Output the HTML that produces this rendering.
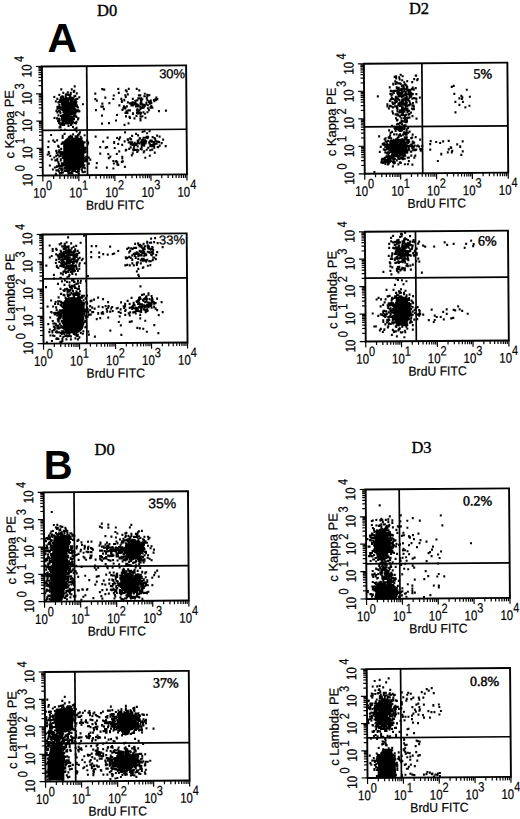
<!DOCTYPE html><html><head><meta charset="utf-8"><style>html,body{margin:0;padding:0;background:#fff;width:520px;height:819px;overflow:hidden}svg{display:block}</style></head><body><svg width="520" height="819" viewBox="0 0 520 819"><rect width="520" height="819" fill="#fff"/><g transform="rotate(-0.45 114.4 120.5)"><rect x="63" y="137.5" width="21" height="31" rx="6" fill="#000"/><path transform="scale(.5)" d="M148 172h4m-31 6h4m17 0h4m57 0h4m0 1h4m24-1h4m17 0h4m12 0h4m-151 7h4m5-1h4m2 1h4m2-2h4m-3-2h4m99 0h4m-2 2h4m21-2h4m-164 8h4m9 0h4m-3-1h4m0 1h4m0 0h4m-3-2h4m5 4h4m-1-5h4m33 1h4m33 4h4m6-5h4m9 5h4m1-2h4m18 2h4m-1 0h4m5-3h4m1 2h4m0 1h4m-194 2h4m2 4h4m3-3h4m-4 3h4m-2-3h4m-3-2h4m-3 1h4m-3 1h4m-3 3h4m0-2h4m-4 1h4m-4 1h4m-4-4h4m-1 3h4m-1 0h4m-2-3h4m-4 2h4m-3-3h4m-1 3h4m-4 2h4m-2 0h4m-3-1h4m-2-4h4m2 5h4m0-3h4m48 1h4m37-1h4m21 3h4m0 0h4m-2 0h4m2-4h4m-3 0h4m0 4h4m-3-4h4m14 3h4m-205 6h4m3 1h4m-3-3h4m-2 2h4m-3 1h4m-3-4h4m-4 3h4m-2-1h4m-3 0h4m-4-1h4m-4-1h4m-1 3h4m-3 0h4m-4-4h4m-3 3h4m-3 0h4m-3 0h4m-3-2h4m-4 4h4m-3-3h4m-4 2h4m-3-4h4m-4 2h4m-4-1h4m-4 2h4m-3-3h4m-1 0h4m-3 4h4m-3-2h4m-3 1h4m-3-1h4m-4 3h4m-3-1h4m-4 1h4m-1-1h4m-2-3h4m-3-1h4m-3 5h4m34-5h4m-1 3h4m29-3h4m12 0h4m-3 4h4m1-1h4m-4-1h4m13-2h4m1 4h4m0-1h4m3-1h4m-3 3h4m-2-4h4m6 2h4m-1 2h4m0-1h4m2-1h4m-3 2h4m-3-3h4m-2 1h4m-1-2h4m-202 5h4m-2 5h4m1-2h4m-3-2h4m-3 1h4m-4-2h4m-3 1h4m-4 4h4m-3-5h4m-4 2h4m-3-2h4m-4 1h4m-3 3h4m-3-4h4m-4 2h4m-3-1h4m-4-1h4m-3 0h4m-4 4h4m-3-2h4m-4 2h4m-4-1h4m-2-1h4m-4 2h4m-3 0h4m-4-3h4m-3 2h4m-4 2h4m-3-1h4m-4-1h4m-4-1h4m-4 3h4m-3-3h4m-4 2h4m-4-1h4m-3-2h4m-3 0h4m-3 0h4m-4 2h4m-1-2h4m-4 2h4m-3-3h4m-4 3h4m-4 1h4m-2-1h4m-4-1h4m-2 3h4m-3-2h4m-4 1h4m-3-4h4m9 4h4m35-1h4m10-1h4m21-2h4m8 1h4m0 2h4m0-1h4m-2-1h4m-3 4h4m-2 0h4m-4-3h4m-2-1h4m-2 3h4m4 0h4m-3-3h4m-4 3h4m-3-4h4m-4 2h4m-4 2h4m-2 1h4m4-3h4m-4 3h4m1-4h4m-2 3h4m-2-2h4m-3 1h4m-192 6h4m-2 2h4m-2-4h4m-3 4h4m-3-1h4m0-3h4m-4 2h4m-3 2h4m-3-4h4m-4 2h4m-3-1h4m-3-2h4m-4 4h4m-4 1h4m-3-3h4m-3-2h4m-3 1h4m-3 3h4m-3-2h4m-4 1h4m-4 1h4m-3-3h4m-3 2h4m-3-3h4m-4 2h4m-4 2h4m-3-4h4m-4 1h4m-3 0h4m-4 3h4m-4 1h4m-3-3h4m-3 0h4m-4 2h4m-4 1h4m-3-3h4m-3-1h4m-4-1h4m-4 2h4m-4 3h4m-3-4h4m-4 2h4m-4-3h4m-3 0h4m-4 2h4m-4 3h4m-3 0h4m-3 0h4m-3-3h4m-4 2h4m-2-4h4m-3 1h4m-3 0h4m-4 1h4m-2-2h4m-2 4h4m43-1h4m-1 0h4m29-2h4m5 2h4m-2 2h4m0-2h4m5-2h4m-3-1h4m-2 1h4m2 2h4m-1-2h4m-4 2h4m-3-3h4m-2 3h4m-3 0h4m-3 0h4m1 1h4m-4-1h4m-2-3h4m-3 0h4m-4 5h4m-2-3h4m-4-1h4m2 0h4m2 4h4m-3-2h4m-194 8h4m-2-4h4m-1 4h4m-1-4h4m-1 1h4m-3 0h4m-3 1h4m-3-3h4m-4 5h4m-3-3h4m-4 3h4m-3-1h4m-3-2h4m-4 2h4m-3-4h4m-4 5h4m-3-5h4m-4 2h4m-1 0h4m-3-2h4m-4 4h4m-3-4h4m-4 4h4m-3-1h4m-4 2h4m-4-1h4m-3-2h4m-4 3h4m-4-1h4m-4-1h4m-3 2h4m-4-5h4m-3 1h4m-4 2h4m-4 2h4m-4-5h4m-4 2h4m-3 0h4m-1-1h4m-3 2h4m-4 1h4m-2 0h4m-3-2h4m-2 0h4m-4 1h4m-4 2h4m-2-1h4m0 0h4m31 0h4m12-2h4m33 2h4m-2-3h4m0 0h4m2 4h4m-2 0h4m-3 0h4m10 0h4m-3-2h4m0 2h4m-2-3h4m-2-2h4m0 0h4m5 1h4m-2 4h4m-1-5h4m0 0h4m-194 8h4m1-2h4m-3 3h4m2-2h4m-2 0h4m-4 3h4m-3-3h4m-3 0h4m-4 1h4m-4 1h4m-3 2h4m-4-4h4m-3 2h4m-4 2h4m-4-5h4m-3 2h4m-3-1h4m-4 3h4m-2-4h4m-4 3h4m-4 2h4m-2-4h4m-3 0h4m-4-1h4m-4 4h4m-4-1h4m-4 2h4m-3-5h4m-4 2h4m-4 2h4m-4-1h4m-3-1h4m-4-1h4m-3 0h4m-4 3h4m-4 1h4m-2-4h4m-3-1h4m-3 3h4m-4 1h4m-4 1h4m0-2h4m-4-2h4m-4 1h4m-4 2h4m0-4h4m0 0h4m88 4h4m-2-3h4m-2 3h4m7 1h4m4-1h4m-2 1h4m-3-3h4m-2 2h4m-1 0h4m1-1h4m4 0h4m19-2h4m10-1h4m-219 8h4m1 1h4m-2 0h4m-3 1h4m-3-2h4m-3-1h4m-4 3h4m-1 1h4m-3-1h4m-4-2h4m-4 1h4m-2-2h4m-3 2h4m-4 2h4m-3-5h4m-4 4h4m-3-3h4m-4 2h4m-4 1h4m-3 0h4m-3-3h4m-4 1h4m-4 3h4m-4-1h4m-3-1h4m-2 1h4m-3 0h4m1-2h4m-4 1h4m-2 1h4m-2-1h4m-2 2h4m47-2h4m26-1h4m14 3h4m10-5h4m3 4h4m4-4h4m-4 5h4m0 0h4m1-5h4m-185 7h4m1 1h4m0 1h4m1 1h4m-3-3h4m-1 3h4m-3-3h4m-4 3h4m-4-1h4m-3-3h4m-4 2h4m-4 2h4m-3-2h4m-4 3h4m-4-5h4m-3 0h4m-4 3h4m-4-1h4m-4 2h4m-3 0h4m-3-3h4m-4-1h4m-3 2h4m-4 1h4m-3 1h4m-4 1h4m-4-5h4m-3 5h4m-4-4h4m-4-1h4m-3 1h4m-4 1h4m-4 1h4m-3-2h4m-4-1h4m-3 3h4m-3 2h4m-3 0h4m-4-4h4m-4 3h4m-3-1h4m-3-2h4m-3 2h4m-3-3h4m-4 2h4m-4 1h4m-3 1h4m-3 0h4m-3-1h4m4 1h4m-3-2h4m98-2h4m-3 2h4m5 1h4m8 1h4m6-2h4m-179 5h4m-2 4h4m-3-4h4m2-1h4m-4 3h4m-3-2h4m-4 3h4m-3-3h4m0-1h4m-4 2h4m-4-1h4m-3 3h4m-3-2h4m-4 2h4m-3 0h4m-3 1h4m-3-3h4m-4-1h4m-3 0h4m-4 2h4m-4 2h4m-4-5h4m-2 3h4m-3 1h4m-3-2h4m-3-1h4m-3 4h4m-3 0h4m-4-5h4m-3 4h4m-3-1h4m0 2h4m-1-2h4m75-2h4m45 0h4m-166 5h4m-3 0h4m-3 3h4m-4-2h4m-4-1h4m-3 1h4m-1 1h4m-3 1h4m-2-1h4m-4 1h4m-2-3h4m0 0h4m-2 0h4m-3 5h4m0-5h4m-3 3h4m-1-3h4m3 0h4m48 1h4m10-1h4m27 4h4m4-3h4m-142 7h4m-2-2h4m-4 1h4m21 0h4m3 2h4m-35 4h4m4 0h4m15-1h4m-2 1h4m-2 3h4m132 1h4m6 0h4m-201 6h4m23-2h4m13 1h4m6 1h4m-2-1h4m-3-2h4m-3-2h4m86 1h4m18 3h4m9-4h4m5 3h4m-173 4h4m-4 4h4m8 0h4m-3-1h4m-3-1h4m-2 0h4m-4 1h4m-4-3h4m-3 3h4m-2-1h4m3-1h4m-3 1h4m-3 1h4m-3-2h4m-3 1h4m2 0h4m4-3h4m18 3h4m20 2h4m21 0h4m20-3h4m8-1h4m13 3h4m-1 0h4m5 1h4m5-3h4m1 2h4m-217 6h4m4 0h4m17 0h4m0 0h4m-4-1h4m-3 2h4m-2-1h4m-3-3h4m-4-1h4m-4 4h4m-3-2h4m1-1h4m-2 2h4m1 0h4m-2 2h4m-3 0h4m-2-3h4m-4 3h4m-2-5h4m7 5h4m56-5h4m0 3h4m13 0h4m-3 1h4m0-3h4m-2 2h4m11 2h4m-2-4h4m-3 0h4m-1 4h4m-1-2h4m-3-3h4m-1 5h4m-3-5h4m0 1h4m10 0h4m-3 2h4m12 1h4m-233 2h4m8 1h4m10 4h4m-2-3h4m-3 0h4m-3 1h4m-4-1h4m-1 2h4m-3 1h4m-3-2h4m-3 0h4m-3 2h4m-4-4h4m-3 4h4m-3-5h4m-4 4h4m-3-4h4m-4 3h4m-1 1h4m-3-1h4m-4-2h4m-2 2h4m-3 0h4m-4 2h4m-2-5h4m-4 4h4m-3-1h4m-4 2h4m-3-5h4m-3 1h4m-4 2h4m-4-1h4m-2 1h4m-3 2h4m-4-1h4m-3-4h4m-3 5h4m-4-4h4m-3 3h4m-3-4h4m-4 1h4m-3 2h4m-3-2h4m0 4h4m-3-3h4m-3-1h4m-1 2h4m-2-1h4m3 1h4m26-2h4m18 1h4m-4 2h4m17-3h4m4 2h4m0 0h4m-1 0h4m1 1h4m-4 1h4m2-5h4m-4 2h4m-3-2h4m-4 4h4m-2 1h4m0-2h4m-3 1h4m-2-2h4m-3 3h4m-2-1h4m-4-3h4m-3 2h4m-4-2h4m-3 0h4m-3 4h4m-3-4h4m2 3h4m-4-1h4m-2-2h4m-3-1h4m-2 0h4m-3 2h4m0 2h4m-4-1h4m-1-2h4m0 1h4m-1 1h4m1 2h4m-231 6h4m16-2h4m-3 2h4m8-2h4m-3 0h4m0-2h4m-4 3h4m-3 0h4m-3-1h4m-4-2h4m-4-1h4m-3 2h4m-4 3h4m-2-3h4m-4 1h4m-4 2h4m-2-2h4m-4 2h4m-2-4h4m-2 1h4m-4 1h4m-3-1h4m-3 2h4m-4-3h4m-3 3h4m-3-3h4m-2-1h4m-4 1h4m-3 4h4m-4-1h4m-3-4h4m-4 2h4m-4 2h4m-3-4h4m-4 2h4m-3 0h4m-1-2h4m-3 3h4m-2-3h4m-4 2h4m-2-2h4m-3 3h4m-2 0h4m5-3h4m57 0h4m4 2h4m13-1h4m0 0h4m-4 1h4m-3-1h4m-2 4h4m-3-4h4m-1 0h4m-4 1h4m-3-2h4m-2 5h4m4-3h4m-3 0h4m-3 0h4m-4-1h4m-1 3h4m-3-4h4m6 0h4m-3 5h4m-3-2h4m-3 1h4m-3 1h4m-2-3h4m-2 3h4m-2-4h4m0-1h4m2 4h4m8 1h4m-213 4h4m7-3h4m-4 2h4m-4 3h4m-2-2h4m-4 2h4m-4-1h4m-3-3h4m-4 4h4m-3-4h4m-3 2h4m-4 2h4m-3-4h4m-3 2h4m-3-1h4m-4-2h4m-3 4h4m-4-1h4m-2-1h4m-4 3h4m-3 0h4m-2-3h4m-3 0h4m-4 3h4m-3-4h4m-4 4h4m-3-2h4m-3-2h4m-3 2h4m-4 1h4m-3-2h4m-3 1h4m-4 2h4m-4-5h4m-3 3h4m-4-1h4m-4 2h4m-3 1h4m-3-4h4m-4 4h4m-4-5h4m-3 2h4m-4 3h4m-3 0h4m-4-1h4m-4-1h4m0 0h4m-1-3h4m-3 1h4m-3 4h4m-1-4h4m-4 4h4m25-5h4m7 1h4m-1-1h4m11 2h4m25 2h4m-1-3h4m2 2h4m10 1h4m-2-4h4m-4 5h4m9-3h4m8-2h4m-4 2h4m3-1h4m-3 0h4m-223 8h4m11-2h4m-3 4h4m0-3h4m-3-2h4m-4 4h4m0 0h4m-4-1h4m-1 2h4m-3-1h4m-3 0h4m-1-1h4m-3-3h4m-4 5h4m-3-3h4m-3-1h4m-4 4h4m-4-3h4m-2 2h4m-3-1h4m-4-2h4m-3 3h4m-3-2h4m-3-2h4m-4 5h4m-3-4h4m-4-1h4m-4 3h4m-3 1h4m-3-2h4m-4 3h4m-3-2h4m-4 1h4m-4 1h4m-3-1h4m-4-1h4m-2 0h4m-4-3h4m-3 0h4m-4 4h4m-4 1h4m-3-2h4m-4-1h4m-4 3h4m-3-1h4m-4-1h4m-4-1h4m-3 2h4m-2-4h4m-3 0h4m-4 4h4m-3-1h4m-1 1h4m-2-1h4m-3 1h4m-4-1h4m-4 2h4m-2-5h4m-4 2h4m-4 1h4m-3 0h4m-4-3h4m-1 4h4m-3 1h4m-3-2h4m-1 1h4m63-1h4m9-2h4m-3-1h4m10 0h4m-4 1h4m0-1h4m0 0h4m-4 4h4m-2-3h4m7 4h4m-3-2h4m1-3h4m3 1h4m0-1h4m-213 8h4m-1-2h4m-2 5h4m8 0h4m-1-2h4m1-3h4m-3 2h4m-4 3h4m-2-3h4m-2 0h4m-3 3h4m-3-1h4m-4-3h4m-2 1h4m-3-1h4m-4 1h4m-3 3h4m-3-5h4m-2 1h4m-3 0h4m-4 4h4m-4-1h4m-3-4h4m-2 1h4m-3 1h4m-3 3h4m-3-2h4m-4 1h4m-4-4h4m-2 1h4m-3-1h4m-3 1h4m-3 0h4m-4-1h4m-4 4h4m-3 0h4m-4-4h4m-4 2h4m-3 3h4m-3-5h4m-4 1h4m-4 1h4m-3 1h4m-3-3h4m-4 2h4m-4-1h4m-4 2h4m-3 0h4m-4 2h4m-3-5h4m-2 0h4m-4 2h4m-3 1h4m-4 2h4m-4-5h4m-4 2h4m-3-2h4m-3 2h4m-3 2h4m-4-1h4m-1 1h4m-3-4h4m-1 5h4m30-4h4m12 1h4m13 0h4m26 3h4m-2-4h4m40-1h4m-205 8h4m2 3h4m0-5h4m3 3h4m-3-2h4m-3 1h4m-2 2h4m0-1h4m-3-1h4m-3-1h4m-2-1h4m-4 2h4m-3-2h4m-4 4h4m-2-4h4m-4 4h4m-3 1h4m-4-4h4m-4 1h4m-2 3h4m-4-5h4m-4 2h4m-3-2h4m-3 0h4m-4 4h4m-3-1h4m-3-2h4m-3 1h4m-3-1h4m-4-1h4m-3 3h4m-3 2h4m-4-3h4m-3-1h4m-4-1h4m-3 0h4m-4 3h4m-3 1h4m-4-1h4m-3 2h4m-4-4h4m-3 4h4m-3-1h4m-3-4h4m-1 0h4m0 2h4m-1 1h4m0-2h4m1 2h4m36 1h4m-1-3h4m20 1h4m-4 3h4m42-1h4m5-4h4m-200 6h4m3 2h4m0 0h4m3 0h4m-4-2h4m4 1h4m-2 2h4m-4-3h4m-3 5h4m-3-5h4m-4 2h4m-3-2h4m-4 3h4m-4-1h4m-3 0h4m-3-2h4m-4 3h4m-4 1h4m-3-4h4m-3 2h4m-3-2h4m-3 1h4m-4 2h4m-2-1h4m-4 2h4m-4-3h4m-3 1h4m-4 1h4m-4 2h4m-3-1h4m-4-3h4m-2 0h4m-3-1h4m-3 1h4m-3-1h4m-4 1h4m-3 2h4m-4 2h4m-3-5h4m-4 2h4m-3-2h4m-4 2h4m-4-1h4m-3 1h4m-2-1h4m-3 0h4m-4 2h4m-4 1h4m-3 1h4m-4-1h4m-3-3h4m-2 3h4m-3-1h4m-4 1h4m-3-4h4m-3 1h4m0 2h4m-2 1h4m-3-3h4m-2-1h4m-3 4h4m3-3h4m42 3h4m1 1h4m-3-1h4m9 1h4m-133 1h4m-3 3h4m2-1h4m-4 1h4m0-1h4m-4 2h4m-3-1h4m-3 2h4m-2-5h4m-4 4h4m-1 1h4m-4-3h4m0 1h4m-4-2h4m-3 0h4m-4-1h4m-4 2h4m-4 2h4m-3 1h4m-3-5h4m-3 5h4m-3-5h4m-4 2h4m-3 2h4m-3 1h4m-3-1h4m-3-4h4m-4 2h4m-4 3h4m-3-2h4m-3 2h4m-3-5h4m-4 2h4m-4 3h4m-2-5h4m-2 3h4m-4-1h4m-3-1h4m-4-1h4m-3 5h4m-4-4h4m-4 3h4m-2-1h4m-3 1h4m-4 1h4m-2-4h4m-4 2h4m-3-1h4m-4 3h4m-2-2h4m9 0h4m12-1h4m30 1h4m3 2h4m-4-4h4m5-1h4m-148 6h4m6 4h4m0-1h4m-4-1h4m0-1h4m0 0h4m-2 0h4m-3-1h4m-2 0h4m-1 5h4m-1-1h4m-3-1h4m-3 2h4m-3 0h4m-1-2h4m-4 1h4m0 1h4m-3-2h4m-3-1h4m-3-1h4m-4 4h4m-4-5h4m-2 3h4m-3 2h4m-3 0h4m-3-3h4m-3-2h4m-3 2h4m-3 2h4m-2-4h4m-2 0h4m-4 1h4m-4 3h4m-3-2h4m0 0h4m-1 2h4m-3-3h4m-3-1h4m-3 0h4m-4 5h4m20 0h4m17 0h4m19-5h4m9 4h4m-148 4h4m3 2h4m-1 0h4m-1-4h4m-3 0h4m-1 3h4m-3-3h4m-3 3h4m0-3h4m-3 5h4m-4-5h4m-2 0h4m-2 2h4m-4 3h4m-3-3h4m-2 0h4m-3 2h4m-4 1h4m-3-3h4m-4-1h4m-4-1h4m-3 3h4m-2-1h4m-3-1h4m-3 0h4m-2 4h4m-4-1h4m-3-3h4m-4-1h4m-4 5h4m-3-5h4m-3 0h4m-4 4h4m-3 1h4m-3-4h4m0 0h4m-3 4h4m-1-3h4m1 0h4m-4 1h4m2-3h4m53 1h4m-119 10h4m2-5h4m-2 4h4m-1-1h4m-3-1h4m-2 0h4m6-2h4m-3 0h4m-4 1h4m-4 3h4m-4-1h4m-3-3h4m-1 4h4m-2-3h4m-2 3h4m4-3h4m0 2h4m-3-3h4m-4 5h4m3-4h4m-2 1h4m-1-1h4" stroke="#000" stroke-width="4.4" fill="none"/><rect x="42.35" y="65.9" width="144.2" height="109.1" fill="none" stroke="#000" stroke-width="1.9"/><line x1="87.1" y1="65.9" x2="87.1" y2="175.0" stroke="#000" stroke-width="1.7"/><line x1="42.35" y1="129.8" x2="186.5" y2="129.8" stroke="#000" stroke-width="1.7"/><path d="M42.4 175.0v6M42.35 175.0h-6M53.2 175.0v3.5M42.35 166.8h-3.5M59.5 175.0v3.5M42.35 162.0h-3.5M64.0 175.0v3.5M42.35 158.6h-3.5M67.5 175.0v3.5M42.35 155.9h-3.5M70.4 175.0v3.5M42.35 153.8h-3.5M72.8 175.0v3.5M42.35 151.9h-3.5M74.9 175.0v3.5M42.35 150.4h-3.5M76.7 175.0v3.5M42.35 149.0h-3.5M78.4 175.0v6M42.35 147.7h-6M89.2 175.0v3.5M42.35 139.5h-3.5M95.6 175.0v3.5M42.35 134.7h-3.5M100.1 175.0v3.5M42.35 131.3h-3.5M103.6 175.0v3.5M42.35 128.7h-3.5M106.4 175.0v3.5M42.35 126.5h-3.5M108.8 175.0v3.5M42.35 124.7h-3.5M110.9 175.0v3.5M42.35 123.1h-3.5M112.8 175.0v3.5M42.35 121.7h-3.5M114.4 175.0v6M42.35 120.5h-6M125.3 175.0v3.5M42.35 112.2h-3.5M131.6 175.0v3.5M42.35 107.4h-3.5M136.1 175.0v3.5M42.35 104.0h-3.5M139.6 175.0v3.5M42.35 101.4h-3.5M142.5 175.0v3.5M42.35 99.2h-3.5M144.9 175.0v3.5M42.35 97.4h-3.5M147.0 175.0v3.5M42.35 95.8h-3.5M148.8 175.0v3.5M42.35 94.4h-3.5M150.5 175.0v6M42.35 93.2h-6M161.3 175.0v3.5M42.35 85.0h-3.5M167.7 175.0v3.5M42.35 80.2h-3.5M172.2 175.0v3.5M42.35 76.8h-3.5M175.7 175.0v3.5M42.35 74.1h-3.5M178.5 175.0v3.5M42.35 72.0h-3.5M180.9 175.0v3.5M42.35 70.1h-3.5M183.0 175.0v3.5M42.35 68.5h-3.5M184.9 175.0v3.5M42.35 67.1h-3.5M186.5 175.0v6M42.35 65.9h-6" stroke="#000" stroke-width="1.2" fill="none"/><g transform="translate(42.1,197.2) scale(0.82,1)"><text text-anchor="middle" font-family="Liberation Sans" stroke="#000" stroke-width="0.2" font-size="14">10<tspan font-size="13.5" dy="-7.7">0</tspan></text></g><g transform="translate(78.2,197.2) scale(0.82,1)"><text text-anchor="middle" font-family="Liberation Sans" stroke="#000" stroke-width="0.2" font-size="14">10<tspan font-size="13.5" dy="-7.7">1</tspan></text></g><g transform="translate(114.2,197.2) scale(0.82,1)"><text text-anchor="middle" font-family="Liberation Sans" stroke="#000" stroke-width="0.2" font-size="14">10<tspan font-size="13.5" dy="-7.7">2</tspan></text></g><g transform="translate(150.3,197.2) scale(0.82,1)"><text text-anchor="middle" font-family="Liberation Sans" stroke="#000" stroke-width="0.2" font-size="14">10<tspan font-size="13.5" dy="-7.7">3</tspan></text></g><g transform="translate(186.3,197.2) scale(0.82,1)"><text text-anchor="middle" font-family="Liberation Sans" stroke="#000" stroke-width="0.2" font-size="14">10<tspan font-size="13.5" dy="-7.7">4</tspan></text></g><g transform="translate(31.9,175.0) rotate(-90) scale(0.82,1)"><text text-anchor="middle" font-family="Liberation Sans" stroke="#000" stroke-width="0.2" font-size="14">10<tspan font-size="13.5" dx="3" dy="-7.7">0</tspan></text></g><g transform="translate(31.9,147.7) rotate(-90) scale(0.82,1)"><text text-anchor="middle" font-family="Liberation Sans" stroke="#000" stroke-width="0.2" font-size="14">10<tspan font-size="13.5" dx="3" dy="-7.7">1</tspan></text></g><g transform="translate(31.9,120.5) rotate(-90) scale(0.82,1)"><text text-anchor="middle" font-family="Liberation Sans" stroke="#000" stroke-width="0.2" font-size="14">10<tspan font-size="13.5" dx="3" dy="-7.7">2</tspan></text></g><g transform="translate(31.9,93.2) rotate(-90) scale(0.82,1)"><text text-anchor="middle" font-family="Liberation Sans" stroke="#000" stroke-width="0.2" font-size="14">10<tspan font-size="13.5" dx="3" dy="-7.7">3</tspan></text></g><g transform="translate(31.9,65.9) rotate(-90) scale(0.82,1)"><text text-anchor="middle" font-family="Liberation Sans" stroke="#000" stroke-width="0.2" font-size="14">10<tspan font-size="13.5" dx="3" dy="-7.7">4</tspan></text></g><g transform="translate(114.4,209.5) scale(0.94,1)"><text text-anchor="middle" font-family="Liberation Sans" stroke="#000" stroke-width="0.2" font-size="13">BrdU FITC</text></g><text transform="translate(13.9,123.5) rotate(-90)" text-anchor="middle" font-family="Liberation Sans" stroke="#000" stroke-width="0.2" font-size="13">c Kappa PE</text><text x="185.5" y="78.6" text-anchor="end" font-family="Liberation Sans" font-size="13" stroke="#000" stroke-width="0.3">30%</text></g><g transform="rotate(-0.45 115.1 288.5)"><rect x="62.5" y="297" width="21" height="35.5" rx="8" fill="#000"/><path transform="scale(.5)" d="M167 471h4m-36 3h4m162 4h4m4-1h4m-181 7h4m24 1h4m129-1h4m10 1h4m-213 5h4m16-2h4m-1-2h4m3 1h4m-3 4h4m8-5h4m6 5h4m114-3h4m2-1h4m-3 3h4m-1 0h4m3-2h4m3-2h4m-3 5h4m0-5h4m-1 0h4m9 1h4m-214 10h4m3 0h4m8-5h4m-1 5h4m-3-5h4m-3 4h4m-2 1h4m-2-4h4m-3 1h4m-2 0h4m-3 3h4m-4-5h4m2 4h4m0-3h4m32-1h4m5 0h4m24 1h4m33 3h4m1 1h4m2-1h4m0 0h4m3-3h4m0-1h4m-4 3h4m-2 2h4m-1 0h4m-3-4h4m-3 0h4m1 1h4m-3 3h4m-3-4h4m-4 2h4m-3 1h4m2-1h4m-3 1h4m16-1h4m-224 6h4m4-2h4m4 2h4m2 2h4m0 0h4m-4-4h4m-3 4h4m-3-3h4m-2 2h4m-2-3h4m-4 1h4m-3 2h4m-2 0h4m-3-2h4m2 2h4m-4 1h4m-3 0h4m-4-1h4m-2 0h4m-4-4h4m1 3h4m77 1h4m14-4h4m2 4h4m1-4h4m10 4h4m-3 1h4m-3 0h4m-1 0h4m-2-2h4m-1-2h4m4-1h4m0 2h4m-3-1h4m-2-1h4m-2 3h4m-198 7h4m3-1h4m-3 1h4m-3 0h4m-3 1h4m-4-5h4m-2 2h4m-2 3h4m-3-2h4m-2-1h4m-1-1h4m-2-1h4m-4 2h4m-4 1h4m-3-2h4m-3-1h4m-4 1h4m-3 0h4m-4 1h4m-3 1h4m-3-1h4m-4-1h4m-3 4h4m-2 0h4m-3-5h4m-3 5h4m-3-3h4m-3-1h4m-4 2h4m-2 2h4m-2-1h4m-4 1h4m-3 0h4m-1-2h4m-4 2h4m0-4h4m20-1h4m12 1h4m4 3h4m5 1h4m6-1h4m-1-1h4m26-2h4m5 3h4m-1-1h4m-4 1h4m-2 0h4m-3 0h4m-4-3h4m-2 1h4m-1 3h4m-1-5h4m-2 0h4m-3 0h4m-4 3h4m-3 0h4m-1-2h4m-4-1h4m-3 5h4m-3-1h4m-2 1h4m-1-5h4m-1 1h4m-3 1h4m0-1h4m-2 0h4m-3 3h4m4-3h4m-219 9h4m0-3h4m8-1h4m-3 2h4m-3-2h4m-2 4h4m-1-4h4m-4 2h4m-4 1h4m-2-2h4m-4 2h4m-4 1h4m-3-2h4m-2-2h4m-3 0h4m-3 3h4m-4 2h4m-3-3h4m-4 1h4m-2 0h4m-3-3h4m-4 4h4m-2-3h4m-4 2h4m-4 2h4m-3-5h4m-1 4h4m2-4h4m-2 2h4m-4-1h4m-2 0h4m-4 4h4m-4-1h4m0-1h4m2 2h4m19-1h4m12 0h4m49 1h4m3-1h4m2-3h4m1 0h4m-4 1h4m-2 3h4m1-3h4m-3-1h4m-1-1h4m-3 1h4m-2 0h4m1 1h4m0-1h4m6-1h4m-3 1h4m5 0h4m-204 8h4m1-2h4m-3-1h4m0 3h4m-3 2h4m-3-2h4m-3-1h4m-4 2h4m-3 1h4m-3-3h4m-1-2h4m-3 1h4m-4-1h4m-2 5h4m-3-4h4m-4 4h4m-3 0h4m-4-2h4m-3 0h4m-3-3h4m-4 2h4m-4 1h4m-3-1h4m-3 0h4m-2 2h4m-3 0h4m-2-3h4m-2 0h4m-3-1h4m-3 5h4m-2-1h4m-1 0h4m-3 1h4m-2-4h4m-4 1h4m3 2h4m-2-3h4m83 0h4m-2-1h4m3 0h4m-1 3h4m-4 1h4m3-4h4m1 2h4m1 3h4m-3 0h4m-3-3h4m-3 1h4m-1-1h4m0 3h4m-1-1h4m7 1h4m-3-5h4m-2 0h4m-1 3h4m-204 6h4m3-2h4m0 3h4m-2-1h4m-4-1h4m-4 2h4m-2-4h4m-2 2h4m-3 3h4m-2-1h4m-2-1h4m-3-3h4m-3 1h4m-4 2h4m-3 0h4m-2-2h4m-3 2h4m-2-2h4m-3 0h4m-2 0h4m-3 3h4m-2-4h4m-4 3h4m-1-3h4m-1 2h4m2 2h4m6 0h4m91 1h4m5-1h4m-2-1h4m2 2h4m1-5h4m-1 0h4m-1 2h4m2-1h4m-1 0h4m-213 7h4m17 3h4m-4-2h4m3 0h4m-2 0h4m-2 1h4m-4-3h4m-3 2h4m-3-2h4m-3 4h4m-4-2h4m0-3h4m-2 2h4m-3 1h4m-2-1h4m-4 3h4m-2-3h4m-1 0h4m-3 2h4m-2 1h4m-3-4h4m-2 4h4m-2-2h4m-2-1h4m-3 3h4m2-2h4m-4-2h4m88 2h4m0-1h4m1 1h4m4 0h4m2-1h4m-4-1h4m18 3h4m1-1h4m-188 4h4m10 3h4m-3-4h4m-1 2h4m-1 3h4m-4-4h4m-3 4h4m-3-2h4m-4-3h4m-4 1h4m-1 3h4m-3-1h4m-1 0h4m-2 1h4m1-1h4m1 0h4m114 1h4m5-2h4m-3-1h4m-164 8h4m-2-1h4m-1 3h4m-3-2h4m0 0h4m-4-1h4m1 1h4m-3 0h4m-3 1h4m-3-4h4m-1 2h4m-2-1h4m2 0h4m114 2h4m-170 6h4m10-3h4m0 2h4m9 1h4m2-2h4m3 1h4m121 2h4m-173 6h4m9-1h4m-3 0h4m9-1h4m-1-2h4m34 0h4m98 1h4m-158 9h4m2-2h4m0 3h4m6-3h4m-1-2h4m-4 2h4m-3 3h4m-3 0h4m3-2h4m2 0h4m6 1h4m-60 5h4m9 2h4m6-5h4m6 5h4m0-2h4m-1-1h4m1-1h4m-73 8h4m43-3h4m-3 3h4m-2 1h4m-2-3h4m-1 1h4m-2-1h4m-3 3h4m-4 1h4m-3 0h4m3-3h4m119 1h4m-164 4h4m2 3h4m-2 1h4m-3-3h4m-2 0h4m-2-1h4m-2 2h4m-3 0h4m0 0h4m-1-3h4m-2 5h4m5-4h4m-1 0h4m-40 10h4m9-4h4m0-1h4m0 3h4m1 1h4m-1 0h4m-2-4h4m-3 4h4m-3-1h4m-2 1h4m-1-4h4m133 5h4m-174 2h4m-2 1h4m2-2h4m-3 3h4m-2-1h4m-4-1h4m-3 0h4m-3-1h4m1 0h4m-1 1h4m-4 4h4m0-4h4m-2 0h4m-1 4h4m-4-4h4m-4 2h4m-3-2h4m-4 3h4m-3-4h4m1 3h4m0 0h4m2 0h4m106-1h4m0-1h4m1 4h4m0-3h4m2 3h4m-190 1h4m10 1h4m-3 2h4m-3 1h4m-2 1h4m-3-2h4m-2-1h4m-4 1h4m-1 0h4m-2 1h4m-2 0h4m-4-3h4m-3 1h4m-4 3h4m-2-4h4m-3 3h4m-2 0h4m-1 1h4m-2-5h4m0 2h4m-2-2h4m-2 1h4m-3-1h4m2 2h4m-3 1h4m12 2h4m4-4h4m6 3h4m53-2h4m11 0h4m-2-1h4m-3 3h4m3 1h4m-3-1h4m-3-1h4m-3 0h4m-3-3h4m-3 5h4m-3-1h4m1 1h4m1-2h4m-4 2h4m6-1h4m-216 2h4m5 3h4m1-1h4m-1 0h4m-1 1h4m-3 2h4m-2 0h4m-3 0h4m0 0h4m-3-2h4m-4 2h4m-3-4h4m-4 4h4m-3-5h4m-3 4h4m-3-4h4m-2 2h4m-4-1h4m-1-1h4m-2 5h4m-3 0h4m-3-4h4m-4 4h4m-3-4h4m-1 2h4m-3-1h4m-2-1h4m-4 4h4m-4-5h4m-3 2h4m-4 2h4m0-4h4m-4 3h4m-2 1h4m-3-2h4m4-2h4m-4 5h4m1-1h4m-3 0h4m4-2h4m-2-1h4m29 3h4m22 1h4m9-3h4m14 1h4m-3 1h4m-2-3h4m-2 4h4m-4-5h4m4 0h4m-3 1h4m-4 1h4m-1 3h4m-2-1h4m-3-4h4m-2 5h4m4-3h4m-3 3h4m-3-4h4m-4-1h4m-4 4h4m-2 1h4m12 0h4m-217 2h4m2 0h4m1 2h4m-2-1h4m-4 3h4m1-2h4m-2 1h4m-3-1h4m-4-1h4m-4-2h4m-3 0h4m-3 3h4m-4 2h4m-3-1h4m-4 1h4m-2-2h4m-3-3h4m-4 4h4m-4 1h4m-2 0h4m-2 0h4m-3-1h4m-4-1h4m-4-3h4m-3 2h4m-3 2h4m-4 1h4m-4-5h4m-3 3h4m-3-2h4m-4 1h4m-3 0h4m-4-1h4m-4-1h4m-2 1h4m-4 1h4m-4 2h4m-3-1h4m-4 1h4m-2 1h4m-4-5h4m-3 0h4m-4 4h4m-3 1h4m-2-3h4m-3 1h4m-3-1h4m-2 0h4m-2 1h4m-3-3h4m0 4h4m-4 1h4m-3-4h4m2 0h4m72 1h4m-4 3h4m5-3h4m4-2h4m-4 2h4m-3 2h4m-3 1h4m3-3h4m-1 0h4m-3 1h4m-1 2h4m-3-2h4m-4 2h4m0 0h4m2-1h4m-1-1h4m-4-3h4m-3 0h4m-4 1h4m-3 1h4m-4-1h4m-2 0h4m-3 1h4m-4 1h4m-3 0h4m1-1h4m-4-2h4m-1 1h4m-220 5h4m7 0h4m2 2h4m9-1h4m-1 0h4m-4 2h4m-3 0h4m-3-2h4m-3 1h4m-3-2h4m-3 1h4m-1 3h4m-4-1h4m-3 0h4m-3-2h4m-4 4h4m-4-1h4m-3-4h4m-3 1h4m-3 0h4m-4 2h4m-4 2h4m-3-5h4m-3 5h4m-4-4h4m-3 1h4m-4-1h4m-4 4h4m-3-4h4m-4 2h4m-2-1h4m-4 1h4m-4 2h4m-3-3h4m-4 2h4m-3-4h4m-4 1h4m-4 4h4m-3 0h4m-3-3h4m-4-1h4m-4 3h4m-4 1h4m-4-5h4m-3 3h4m0 1h4m-3-1h4m-4 2h4m-4-3h4m-4-1h4m-2 1h4m-4-1h4m-4 4h4m-3-2h4m-4 2h4m-3-2h4m-3 0h4m0 2h4m-3-5h4m-4 2h4m-4 3h4m3-2h4m2-3h4m0 3h4m1 2h4m4-4h4m4 1h4m2-2h4m1 3h4m-3-3h4m1 5h4m-2-3h4m5 3h4m-2-1h4m8-3h4m-3 3h4m-2-3h4m5 3h4m0-1h4m-3-1h4m-3 2h4m-3-4h4m-4 3h4m-1 2h4m-1-1h4m-3 0h4m-2 1h4m-1-3h4m-3 1h4m-2-1h4m-3 2h4m-2-1h4m-2-2h4m-1 0h4m-4 2h4m-2-2h4m-4-1h4m-3 1h4m-4 1h4m-1-2h4m-4 2h4m-3-1h4m-3-1h4m-4 3h4m-2-3h4m-2 0h4m-3 1h4m-3 3h4m1-1h4m-4-1h4m-210 9h4m7-4h4m2 4h4m-4-2h4m-3-1h4m-1 1h4m-4 1h4m-3-2h4m-2 3h4m-1-5h4m-4 4h4m-3 0h4m-4-1h4m-4 2h4m-2-4h4m-4-1h4m-2 1h4m-3 4h4m-3-5h4m-3 2h4m-3-1h4m-4 2h4m-4-1h4m-4 2h4m-2-4h4m-4 2h4m-4 2h4m-4 1h4m-2-3h4m-3-1h4m-4 2h4m-4-1h4m-4 2h4m-3 0h4m-4 1h4m-3-4h4m-4 3h4m-3-1h4m-4-3h4m-2 2h4m-3 2h4m-4-1h4m-3 2h4m-4-2h4m-4-1h4m-3 3h4m-3-1h4m-3-1h4m-4 1h4m-3-3h4m-4 4h4m-3-4h4m-3 1h4m-3 1h4m-4 2h4m-2 0h4m-3-3h4m-2-1h4m-3 4h4m-4-2h4m-4-1h4m-3 0h4m-4-2h4m-3 1h4m-4-1h4m-4 3h4m-4 1h4m-2-4h4m-3 2h4m-1-1h4m-4 3h4m-2-4h4m-2 0h4m-4 2h4m1 0h4m29-2h4m-3 5h4m-4-1h4m2 1h4m1-1h4m12-3h4m5 3h4m-3-2h4m9-2h4m4 1h4m-4 3h4m-3-4h4m-2 2h4m-3 2h4m-1 1h4m-1-2h4m-4-3h4m1 1h4m-2-1h4m-3 3h4m-3 0h4m-4 1h4m-3 0h4m-3 1h4m-3-4h4m-3 3h4m12-4h4m-1 3h4m-215 3h4m1 1h4m-3 3h4m-3 0h4m-2-3h4m0-1h4m-4 4h4m-2-3h4m-3 2h4m-3 0h4m-1 1h4m-3-4h4m2 3h4m-3-3h4m-4 2h4m-4-1h4m-3 2h4m-3-3h4m-4 2h4m-4-1h4m-1-1h4m-4 4h4m-3 1h4m-4-1h4m-4-4h4m-2 3h4m-3 0h4m-4 2h4m-4-5h4m-3 2h4m-4 3h4m-3-1h4m-4-4h4m-4 3h4m-3-2h4m-4 3h4m-3-3h4m-4 4h4m-3 0h4m-4-5h4m-3 0h4m-4 1h4m-4 2h4m-3-2h4m-4 3h4m-4 1h4m-3-1h4m-3-3h4m-4 3h4m-4-1h4m-4 2h4m-3-5h4m-4 4h4m-3-4h4m-3 2h4m-4-1h4m-4 2h4m-3 0h4m-4-2h4m-3 2h4m-3-3h4m-3 0h4m-3 0h4m-3 4h4m-4-4h4m-4 2h4m-4 3h4m-3-4h4m-4 2h4m-2-3h4m-2 0h4m-3 0h4m-3 4h4m-2 0h4m-4-1h4m-3 0h4m-3-3h4m-4 1h4m3-1h4m-3 5h4m0 0h4m-1-5h4m-2 0h4m6 2h4m-4 1h4m3-1h4m-3 1h4m-3-3h4m-3 3h4m27-3h4m0 2h4m12 1h4m-1-2h4m2 0h4m-1-1h4m-2 3h4m7-3h4m5 1h4m30 0h4m-229 9h4m10-4h4m-1 5h4m-3-4h4m-3 3h4m-4-3h4m-3 4h4m-3-1h4m-2-3h4m-1 4h4m-2-4h4m-4 1h4m-3 3h4m-3-2h4m-3-2h4m-3 3h4m-4 1h4m-4-4h4m-2 0h4m-4-1h4m-4 4h4m-3-3h4m-4 2h4m-3-1h4m-4-1h4m-4-1h4m-3 1h4m-4 2h4m-4 1h4m-3 1h4m-4-4h4m-4-1h4m-4 2h4m-4 2h4m-3-3h4m-3 0h4m-4-1h4m-4 2h4m-3-2h4m-4 3h4m-3-3h4m-4 4h4m-3-4h4m-4 1h4m-4 2h4m-4-1h4m-4 3h4m-3-5h4m-4 5h4m-2-3h4m-2-1h4m-4-1h4m-3 3h4m-3-1h4m-4 3h4m-4-4h4m-3 0h4m-4-1h4m-3 2h4m-4 3h4m-4-1h4m-4-4h4m-3 0h4m-3 3h4m-4-1h4m-3-2h4m-4 2h4m-4 3h4m-2-4h4m-4 1h4m-4 3h4m-3-1h4m-3-4h4m-4 2h4m-3 0h4m-3-1h4m-4-1h4m-4 3h4m-4 2h4m-2-3h4m-3 0h4m-4-2h4m-3 3h4m1-2h4m-3 0h4m-4 4h4m0-2h4m37 2h4m19-2h4m7-3h4m5 1h4m17-1h4m33 1h4m-216 10h4m6-3h4m-2 2h4m-3-4h4m-3 0h4m0 5h4m3-3h4m-4 3h4m-2-3h4m-4-1h4m-3-1h4m-4 2h4m-4 2h4m-4-1h4m-3-2h4m-4 3h4m-4-4h4m-3 0h4m-4 3h4m-4 2h4m-1-4h4m-4 4h4m-3-4h4m-4 3h4m-4-2h4m-3-2h4m-3 2h4m-4 2h4m-4-1h4m-3 0h4m-3-1h4m-4 3h4m-3 0h4m-4-4h4m-3-1h4m-2 5h4m-3 0h4m-4-4h4m-4-1h4m-3 2h4m-4 2h4m-2-1h4m-3-1h4m-4-1h4m-3 0h4m-3 1h4m-4 2h4m-4 1h4m-3-5h4m-4 3h4m-3 2h4m1-2h4m-3 0h4m-2 2h4m-4-5h4m-2 2h4m0 3h4m19-3h4m3-2h4m76 1h4m-188 10h4m6-1h4m-2 0h4m-1 1h4m1-5h4m-3 0h4m-2 5h4m0-5h4m-2 3h4m-3-3h4m-4 1h4m-3 3h4m-3-3h4m-4 3h4m-3-3h4m-4 4h4m-4-1h4m-3-4h4m-3 3h4m-4-1h4m-3 0h4m-4-1h4m-2 4h4m-3 0h4m-4-4h4m-3 4h4m-4-5h4m-4 1h4m-3 0h4m-3 2h4m-3-2h4m-4-1h4m-4 3h4m-4 1h4m-2-4h4m-3 0h4m-3 0h4m-4 1h4m-4 4h4m-1-1h4m-4-3h4m-4 2h4m-3-2h4m-4-1h4m-3 0h4m-4 1h4m-4 2h4m-3-1h4m-4 1h4m-1 0h4m-4-3h4m-4 1h4m-3-1h4m-3 3h4m-3 1h4m-4-3h4m-3 2h4m-3-2h4m-4 1h4m-4 3h4m-3-4h4m-4-1h4m-2 2h4m-3-1h4m-1 1h4m-4 1h4m-2 2h4m-1-3h4m64 0h4m18 0h4m0-1h4m23-1h4m-187 10h4m-3 1h4m-1-4h4m-3 1h4m-1 1h4m-3 1h4m-1-4h4m-1 3h4m-2 2h4m0-2h4m-4-1h4m-3-1h4m-4-1h4m-3 2h4m-2 3h4m-3-5h4m-3 2h4m-3-2h4m-3 2h4m-1 0h4m-4-2h4m-2 0h4m-4 4h4m-3-1h4m-4-3h4m-4 1h4m-2 4h4m-3 0h4m-4-5h4m-3 1h4m-3 2h4m-4-1h4m-2-2h4m-2 0h4m-4 1h4m-4 3h4m-3-2h4m-4 2h4m-2-3h4m-4 3h4m-4-1h4m-2-1h4m-3 2h4m-4-3h4m-3 1h4m-3 3h4m-2-1h4m-3-3h4m-4 1h4m-3 2h4m-4-1h4m-3-1h4m4 3h4m65-2h4m63 0h4m-213 7h4m4 1h4m-2-2h4m-4-1h4m1-1h4m-4 1h4m-1-2h4m-4 2h4m-3-1h4m0-1h4m-2 0h4m-3 0h4m-3 1h4m-3 1h4m-3-2h4m-4 3h4m-3-3h4m-4 4h4m-2-1h4m-3 2h4m-3-2h4m-2 0h4m-3-2h4m-4 4h4m-2-1h4m-3-3h4m-3 0h4m-2 0h4m-4 1h4m-2 3h4m-2-2h4m-4-2h4m-2 1h4m-4 3h4m-3-3h4m-3 0h4m-4-2h4m-3 4h4m-3-1h4m-3-1h4m-3-2h4m-3 4h4m-3-4h4m-3 2h4m-3 2h4m8-4h4m100 2h4m1 1h4m3 1h4m-192 5h4m2-2h4m-4 3h4m3-1h4m-2-1h4m-4 1h4m-4 1h4m0 0h4m0 1h4m-2-3h4m-2 3h4m-3-3h4m-3 3h4m-1-1h4m-3-3h4m-3 3h4m-3-2h4m-3-2h4m-4 5h4m-3-1h4m-3-1h4m-3 0h4m-2 1h4m-1-1h4m-2 1h4m-2-4h4m-4 3h4m-3 1h4m-4-2h4m-1-1h4m-2-1h4m-4 4h4m-2-2h4m-2 0h4m1 3h4m1-3h4m6 1h4m40-2h4m69 3h4m-197 6h4m1 0h4m-1 1h4m8 0h4m-1-4h4m1 0h4m-2 4h4m-1-1h4m0 1h4m-3-3h4m-4 1h4m5-3h4m-4 1h4m-2 1h4m-3 0h4m-2 0h4m-4 2h4m-2 1h4m-3-2h4m6-2h4m8 2h4m61 1h4m70-3h4m-208 10h4m-3-1h4m-1 1h4m4 0h4m-2-4h4m4-1h4m3 0h4m5 4h4m4-2h4m-4 1h4m27-2h4m-90 8h4m13 2h4m0-2h4m4-3h4m5 0h4m10 0h4m-66 6h4m25 0h4" stroke="#000" stroke-width="4.4" fill="none"/><rect x="43.1" y="233.9" width="144.0" height="109.2" fill="none" stroke="#000" stroke-width="1.9"/><line x1="86.5" y1="233.9" x2="86.5" y2="343.1" stroke="#000" stroke-width="1.7"/><line x1="43.1" y1="278.4" x2="187.1" y2="278.4" stroke="#000" stroke-width="1.7"/><path d="M43.1 343.1v6M43.1 343.1h-6M53.9 343.1v3.5M43.1 334.9h-3.5M60.3 343.1v3.5M43.1 330.1h-3.5M64.8 343.1v3.5M43.1 326.7h-3.5M68.3 343.1v3.5M43.1 324.0h-3.5M71.1 343.1v3.5M43.1 321.9h-3.5M73.5 343.1v3.5M43.1 320.0h-3.5M75.6 343.1v3.5M43.1 318.4h-3.5M77.5 343.1v3.5M43.1 317.0h-3.5M79.1 343.1v6M43.1 315.8h-6M89.9 343.1v3.5M43.1 307.6h-3.5M96.3 343.1v3.5M43.1 302.8h-3.5M100.8 343.1v3.5M43.1 299.4h-3.5M104.3 343.1v3.5M43.1 296.7h-3.5M107.1 343.1v3.5M43.1 294.6h-3.5M109.5 343.1v3.5M43.1 292.7h-3.5M111.6 343.1v3.5M43.1 291.1h-3.5M113.5 343.1v3.5M43.1 289.7h-3.5M115.1 343.1v6M43.1 288.5h-6M125.9 343.1v3.5M43.1 280.3h-3.5M132.3 343.1v3.5M43.1 275.5h-3.5M136.8 343.1v3.5M43.1 272.1h-3.5M140.3 343.1v3.5M43.1 269.4h-3.5M143.1 343.1v3.5M43.1 267.3h-3.5M145.5 343.1v3.5M43.1 265.4h-3.5M147.6 343.1v3.5M43.1 263.8h-3.5M149.5 343.1v3.5M43.1 262.4h-3.5M151.1 343.1v6M43.1 261.2h-6M161.9 343.1v3.5M43.1 253.0h-3.5M168.3 343.1v3.5M43.1 248.2h-3.5M172.8 343.1v3.5M43.1 244.8h-3.5M176.3 343.1v3.5M43.1 242.1h-3.5M179.1 343.1v3.5M43.1 240.0h-3.5M181.5 343.1v3.5M43.1 238.1h-3.5M183.6 343.1v3.5M43.1 236.5h-3.5M185.5 343.1v3.5M43.1 235.1h-3.5M187.1 343.1v6M43.1 233.9h-6" stroke="#000" stroke-width="1.2" fill="none"/><g transform="translate(42.9,365.3) scale(0.82,1)"><text text-anchor="middle" font-family="Liberation Sans" stroke="#000" stroke-width="0.2" font-size="14">10<tspan font-size="13.5" dy="-7.7">0</tspan></text></g><g transform="translate(78.9,365.3) scale(0.82,1)"><text text-anchor="middle" font-family="Liberation Sans" stroke="#000" stroke-width="0.2" font-size="14">10<tspan font-size="13.5" dy="-7.7">1</tspan></text></g><g transform="translate(114.9,365.3) scale(0.82,1)"><text text-anchor="middle" font-family="Liberation Sans" stroke="#000" stroke-width="0.2" font-size="14">10<tspan font-size="13.5" dy="-7.7">2</tspan></text></g><g transform="translate(150.9,365.3) scale(0.82,1)"><text text-anchor="middle" font-family="Liberation Sans" stroke="#000" stroke-width="0.2" font-size="14">10<tspan font-size="13.5" dy="-7.7">3</tspan></text></g><g transform="translate(186.9,365.3) scale(0.82,1)"><text text-anchor="middle" font-family="Liberation Sans" stroke="#000" stroke-width="0.2" font-size="14">10<tspan font-size="13.5" dy="-7.7">4</tspan></text></g><g transform="translate(32.6,343.1) rotate(-90) scale(0.82,1)"><text text-anchor="middle" font-family="Liberation Sans" stroke="#000" stroke-width="0.2" font-size="14">10<tspan font-size="13.5" dx="3" dy="-7.7">0</tspan></text></g><g transform="translate(32.6,315.8) rotate(-90) scale(0.82,1)"><text text-anchor="middle" font-family="Liberation Sans" stroke="#000" stroke-width="0.2" font-size="14">10<tspan font-size="13.5" dx="3" dy="-7.7">1</tspan></text></g><g transform="translate(32.6,288.5) rotate(-90) scale(0.82,1)"><text text-anchor="middle" font-family="Liberation Sans" stroke="#000" stroke-width="0.2" font-size="14">10<tspan font-size="13.5" dx="3" dy="-7.7">2</tspan></text></g><g transform="translate(32.6,261.2) rotate(-90) scale(0.82,1)"><text text-anchor="middle" font-family="Liberation Sans" stroke="#000" stroke-width="0.2" font-size="14">10<tspan font-size="13.5" dx="3" dy="-7.7">3</tspan></text></g><g transform="translate(32.6,233.9) rotate(-90) scale(0.82,1)"><text text-anchor="middle" font-family="Liberation Sans" stroke="#000" stroke-width="0.2" font-size="14">10<tspan font-size="13.5" dx="3" dy="-7.7">4</tspan></text></g><g transform="translate(115.1,377.6) scale(0.94,1)"><text text-anchor="middle" font-family="Liberation Sans" stroke="#000" stroke-width="0.2" font-size="13">BrdU FITC</text></g><text transform="translate(14.6,291.5) rotate(-90)" text-anchor="middle" font-family="Liberation Sans" stroke="#000" stroke-width="0.2" font-size="13">c Lambda PE</text><text x="185.5" y="244.8" text-anchor="end" font-family="Liberation Sans" font-size="13" stroke="#000" stroke-width="0.3">33%</text></g><g transform="rotate(-0.45 436.1 118.2)"><ellipse cx="398" cy="146.5" rx="9" ry="7.5" transform="rotate(0 398 146.5)" fill="#000"/><path transform="scale(.5)" d="M800 149h4m-16 4h4m-1-1h4m2 2h4m3-2h4m22-1h4m-3 0h4m-44 5h4m3 2h4m1 2h4m20-2h4m2 2h4m-3-2h4m-53 9h4m0-5h4m-3 5h4m-2-3h4m-1 2h4m-1 0h4m-2 1h4m3-3h4m2-2h4m6 2h4m-42 4h4m13 3h4m-2 0h4m-3-1h4m-3 3h4m-1-5h4m-3 2h4m-3 0h4m-3 3h4m90-1h4m-132 2h4m10 1h4m-4-1h4m-1 4h4m-4-3h4m-3 0h4m-2 4h4m-1-2h4m-3 1h4m-3-1h4m-3-1h4m-1 1h4m-3 1h4m0-1h4m-4-1h4m-3-2h4m-2 5h4m3-1h4m-2-3h4m-2 4h4m0-3h4m68-2h4m-126 7h4m-1 1h4m-1-1h4m-4 4h4m-1-4h4m0 4h4m-4-5h4m-3 5h4m-4-2h4m-2 0h4m0 2h4m-2-3h4m-2 1h4m-1-2h4m-4-1h4m-2 5h4m-3-2h4m-1-3h4m-2 3h4m-4-2h4m0 0h4m-4-1h4m-4 3h4m109-3h4m-157 7h4m-2 3h4m-2-2h4m7-2h4m-4 1h4m-2 2h4m-2-2h4m-3-1h4m-3 0h4m-4 3h4m-3 2h4m-4-1h4m-4-1h4m-3-1h4m-4-2h4m-3 0h4m-3 4h4m-3-1h4m-3 0h4m-3 1h4m-2-2h4m-4 2h4m-3-2h4m-4-2h4m-3 4h4m-4-1h4m-2-1h4m-1-1h4m-3 1h4m-4 1h4m-3 2h4m-3-1h4m-3-4h4m-3 5h4m-3-4h4m-2 1h4m3 0h4m72 0h4m-157 4h4m24 5h4m-4-2h4m-2 2h4m-3 0h4m1-4h4m-4 3h4m-3-1h4m-1 2h4m-3-5h4m-2 0h4m1 1h4m-2 0h4m-3-1h4m0 3h4m-2 2h4m-3-3h4m1 1h4m-1-2h4m-1 4h4m0-1h4m0 1h4m3-2h4m75 2h4m0-5h4m-2 3h4m11-1h4m-164 7h4m-2-3h4m4 1h4m-3 3h4m-3 1h4m-3 0h4m-3-2h4m1-2h4m1 2h4m-3-1h4m-4-2h4m-2 5h4m-4-5h4m-4 3h4m-1-2h4m-3-1h4m-3 5h4m-2-4h4m-1-1h4m-4 2h4m-2 2h4m10-3h4m87-1h4m-153 10h4m6-4h4m-3 2h4m-3 1h4m-1-1h4m3 3h4m-4-2h4m-3-1h4m-4 3h4m-2 0h4m-4-5h4m-3 4h4m-3-2h4m-3-2h4m-2 3h4m-3-2h4m-3 4h4m-1-2h4m-3 2h4m-4-2h4m-3 0h4m-4 2h4m-2-4h4m2 0h4m-3 3h4m1-2h4m3-2h4m74 0h4m11 0h4m-155 8h4m1-1h4m-1 1h4m-1 2h4m0-2h4m-1 0h4m-3 3h4m-3-2h4m1-2h4m-2 0h4m-3-1h4m-2 4h4m-3 0h4m1-3h4m-3 1h4m-1 0h4m-3-2h4m-1 0h4m2 1h4m-2 0h4m-3 2h4m87-3h4m8 5h4m4-3h4m-165 4h4m13 0h4m-4 3h4m1 2h4m-4-1h4m-1 0h4m-3-4h4m-4 4h4m-2-1h4m-3-2h4m-3 3h4m-1-3h4m-4-1h4m-3 1h4m-4 2h4m-2 1h4m-3-3h4m-2 4h4m3-4h4m-2 1h4m-2 0h4m-47 4h4m-3 4h4m5-4h4m0 2h4m-2-1h4m-3-1h4m-2 2h4m-3 0h4m-3 3h4m-3-4h4m-3-1h4m-3 1h4m2 1h4m-4-1h4m-1-1h4m0 3h4m85 0h4m-124 3h4m0 2h4m-4-2h4m-2 2h4m-1 2h4m-1-3h4m-2 1h4m-3 0h4m-2 0h4m-2 0h4m-2-1h4m1 0h4m-2-1h4m2 4h4m-37 4h4m-1 3h4m4-3h4m1 0h4m-2 3h4m-4-5h4m-3 4h4m-3-3h4m-2 2h4m-4-2h4m-1 0h4m-2 0h4m10 2h4m-43 3h4m2 5h4m-1-4h4m-4 3h4m0-2h4m-2 1h4m-1 1h4m-3 0h4m-3-2h4m-34 9h4m6-3h4m-2-1h4m-1 3h4m1-2h4m-1 3h4m-2-1h4m-2 0h4m-26 3h4m-4 2h4m-3 2h4m-2-2h4m-1 1h4m-4-2h4m-3 0h4m-4 3h4m-3 0h4m-1-1h4m-4-2h4m-1 3h4m-4-2h4m-3 0h4m-1 1h4m-2-2h4m-4 1h4m3 1h4m-42 4h4m2 3h4m3-2h4m-3-3h4m1 1h4m-2 2h4m-2-3h4m-4 3h4m-2 0h4m-3-2h4m-1-1h4m-3 0h4m1 0h4m-4 4h4m2 1h4m-42 2h4m3 3h4m1 0h4m3 0h4m2 1h4m-3-2h4m-3-3h4m-2 3h4m-3 2h4m-4-1h4m-3-3h4m-3 4h4m-1-4h4m5 4h4m-71 3h4m15 2h4m-3 1h4m-4-1h4m-3 0h4m-3-4h4m11 5h4m-2-2h4m-3-3h4m0 1h4m3 3h4m0 0h4m7 1h4m3-1h4m-66 4h4m-2-2h4m1 5h4m1 0h4m-3 0h4m-4-5h4m-1 5h4m-2-1h4m-4-1h4m-2 2h4m-1-3h4m-2 0h4m-4 3h4m-3 0h4m-4-1h4m-3-1h4m-3 0h4m-3 2h4m-3-1h4m-3 1h4m-4-2h4m-1 0h4m-3-1h4m-4 1h4m-3 2h4m-3-1h4m-4-1h4m-1-1h4m-3 1h4m-4-2h4m-1 0h4m-3 3h4m-3 0h4m-2 0h4m1-4h4m14 3h4m-79 8h4m-1-1h4m-1-4h4m-2 1h4m-3 4h4m2 0h4m-4-3h4m-3-1h4m1 3h4m-3 0h4m-1-4h4m-2 4h4m-3-3h4m-4-1h4m-4 4h4m-3-2h4m-3-1h4m-4 4h4m-3-2h4m-4-1h4m-3 3h4m-4-5h4m-3 5h4m-4-5h4m-2 3h4m-4 2h4m-3 0h4m-4-5h4m0 1h4m-3 3h4m-3-3h4m-4 2h4m-3-2h4m-4 4h4m-3-3h4m-4 3h4m-3-1h4m-1-1h4m-3-3h4m-2 4h4m-2-3h4m3 0h4m-4 3h4m-1-1h4m29-3h4m7 2h4m4 2h4m2-3h4m7-1h4m24 1h4m-168 10h4m0-5h4m-1 1h4m-3-1h4m-3 5h4m-1-2h4m-4-2h4m-3 1h4m-2-1h4m-4 3h4m-2-2h4m-4 2h4m-3 0h4m-2-1h4m-4 2h4m-4-5h4m-3 3h4m-4-1h4m-3-1h4m-2 3h4m-4-1h4m-3-1h4m-3 3h4m-4-1h4m-4-1h4m-3 1h4m-4-3h4m-3 1h4m-4 1h4m-3 0h4m-4-1h4m-4-2h4m-4 4h4m-2 1h4m-4-1h4m-3-4h4m-4 4h4m-4-3h4m-3 4h4m-3-3h4m-4-1h4m-4 4h4m-4-2h4m-2-2h4m-4 4h4m-4-1h4m-3-2h4m-3-2h4m-4 3h4m-4-2h4m-4 4h4m-2-3h4m-4-2h4m-3 4h4m-4-2h4m-3 2h4m-3 0h4m-4-1h4m-4-1h4m-4-1h4m-3 3h4m-3 1h4m-3-3h4m-4-1h4m-3 0h4m-4-1h4m-3 2h4m-4-1h4m-3 3h4m-3-2h4m-4 2h4m-3 0h4m-3 1h4m-4-3h4m-1 2h4m-3 0h4m-1-1h4m-3 1h4m-3-3h4m-3 3h4m-3-1h4m-1 2h4m-2-2h4m1 1h4m-3-1h4m-1 2h4m2-1h4m12-4h4m50 1h4m2 4h4m-157 5h4m-2 1h4m0-5h4m-4 4h4m-3-2h4m-2-2h4m-2 2h4m-4-1h4m-3 2h4m-3 2h4m-3-3h4m-4 3h4m-4-5h4m-4 4h4m-3 0h4m-2 0h4m-3 0h4m-4-3h4m-3 3h4m-3-3h4m-4 4h4m-4-1h4m-4-2h4m-3-1h4m-3 3h4m-3 1h4m-4-3h4m-3 1h4m-4-1h4m-4 2h4m-3-3h4m-4 4h4m-4-2h4m-3 0h4m-4-1h4m-4 2h4m-2-3h4m-4 2h4m-4-1h4m-3 2h4m-3 1h4m-4-1h4m-4-2h4m-3-1h4m-4 4h4m-4-1h4m-4-1h4m-3 0h4m-4-2h4m-4 4h4m-3 0h4m-4-5h4m-2 1h4m-3 0h4m-3 3h4m-3 0h4m-4-1h4m-3-3h4m-4 4h4m-3 1h4m-2 0h4m-4-5h4m-4 4h4m-3-1h4m-3 2h4m-3-2h4m-3 2h4m0-4h4m-3 4h4m2-3h4m-1-2h4m-3 5h4m0 0h4m4-1h4m-2 0h4m14 1h4m33 0h4m0-4h4m-3 1h4m14-2h4m-165 9h4m7 1h4m1 0h4m-1 1h4m-4-5h4m-1 1h4m-3 2h4m-2 2h4m-4-1h4m-4-3h4m-3 0h4m-3 0h4m-3 0h4m-4 4h4m-2-1h4m-4 1h4m-4-5h4m-3 5h4m-2-2h4m-4 2h4m-3-2h4m-3-1h4m-4 2h4m-3-4h4m-4 1h4m-3 1h4m-4 3h4m-4-5h4m-4 3h4m-3 2h4m-4-1h4m-3-3h4m-3 1h4m-4 3h4m-3-4h4m-4 4h4m-3-3h4m-3 2h4m-3 1h4m-3-2h4m-3-3h4m-3 0h4m-4 2h4m-2 3h4m-3-5h4m-4 3h4m-4-2h4m-3 3h4m-2-3h4m-3 4h4m-4-2h4m-3 2h4m-4-3h4m-3-2h4m2 3h4m-3 0h4m0-3h4m0 0h4m7 1h4m50 4h4m4 0h4m-3-3h4m17 1h4m-156 3h4m-1 4h4m-4-1h4m-4 2h4m-3 0h4m2-1h4m-3 0h4m-4-3h4m-3 0h4m-4 3h4m-4-1h4m-4-1h4m-3 3h4m-4-2h4m-3 2h4m-3-1h4m-4-2h4m-3-1h4m-3 2h4m-4-3h4m-3 1h4m-4 4h4m-4-1h4m-4-2h4m-3-1h4m-3 0h4m-3 0h4m-4-1h4m-4 2h4m0 3h4m-3-4h4m-4 2h4m-2 0h4m-4-1h4m-4-2h4m-3 3h4m-2-3h4m-2 3h4m-3-2h4m-4 2h4m-3-1h4m-3-1h4m-3 4h4m8 0h4m4 0h4m48-3h4m-4 1h4m36 1h4m-162 7h4m-1 0h4m-3 0h4m-3-2h4m-1-2h4m-3-1h4m-3 0h4m-3 1h4m-4 4h4m-3-5h4m-3 3h4m-4 2h4m-3 0h4m-3-5h4m-3 3h4m-2-1h4m-2 1h4m-3 1h4m-4-4h4m-2 4h4m-3 0h4m-3 1h4m1-5h4m-2 4h4m-4-3h4m-2 4h4m-2-1h4m-2 0h4m-4-2h4m-1 1h4m-3 2h4m-4-5h4m-4 3h4m-1 2h4m2-2h4m-2 0h4m7 0h4m-69 4h4m-4 4h4m-3-5h4m0 4h4m-4-1h4m-3-1h4m-4-2h4m-1 4h4m-4-3h4m-2 0h4m-4 4h4m-2 0h4m-4-5h4m-4 2h4m-2-2h4m-4 4h4m-3-3h4m-4 4h4m-3-2h4m-3 0h4m-4-1h4m0 3h4m-3-5h4m-3 1h4m-4 2h4m2-1h4m8-2h4m8 4h4m54 0h4m-117 2h4m-1 1h4m-2-1h4m-2 0h4m-3 3h4m1-2h4m-4 3h4m-2-2h4m5-2h4m-3 2h4m-2-1h4m-4-1h4m3 4h4m-1-4h4m-2 1h4m4 3h4m2 0h4m5 1h4m-43 3h4m-41 11h4" stroke="#000" stroke-width="4.4" fill="none"/><rect x="364.3" y="63.2" width="143.5" height="110.0" fill="none" stroke="#000" stroke-width="1.9"/><line x1="422.3" y1="63.2" x2="422.3" y2="173.2" stroke="#000" stroke-width="1.7"/><line x1="364.3" y1="126.4" x2="507.8" y2="126.4" stroke="#000" stroke-width="1.7"/><path d="M364.3 173.2v6M364.3 173.2h-6M375.1 173.2v3.5M364.3 164.9h-3.5M381.4 173.2v3.5M364.3 160.1h-3.5M385.9 173.2v3.5M364.3 156.6h-3.5M389.4 173.2v3.5M364.3 154.0h-3.5M392.2 173.2v3.5M364.3 151.8h-3.5M394.6 173.2v3.5M364.3 150.0h-3.5M396.7 173.2v3.5M364.3 148.4h-3.5M398.5 173.2v3.5M364.3 147.0h-3.5M400.2 173.2v6M364.3 145.7h-6M411.0 173.2v3.5M364.3 137.4h-3.5M417.3 173.2v3.5M364.3 132.6h-3.5M421.8 173.2v3.5M364.3 129.1h-3.5M425.3 173.2v3.5M364.3 126.5h-3.5M428.1 173.2v3.5M364.3 124.3h-3.5M430.5 173.2v3.5M364.3 122.5h-3.5M432.6 173.2v3.5M364.3 120.9h-3.5M434.4 173.2v3.5M364.3 119.5h-3.5M436.1 173.2v6M364.3 118.2h-6M446.8 173.2v3.5M364.3 109.9h-3.5M453.2 173.2v3.5M364.3 105.1h-3.5M457.6 173.2v3.5M364.3 101.6h-3.5M461.1 173.2v3.5M364.3 99.0h-3.5M464.0 173.2v3.5M364.3 96.8h-3.5M466.4 173.2v3.5M364.3 95.0h-3.5M468.4 173.2v3.5M364.3 93.4h-3.5M470.3 173.2v3.5M364.3 92.0h-3.5M471.9 173.2v6M364.3 90.7h-6M482.7 173.2v3.5M364.3 82.4h-3.5M489.0 173.2v3.5M364.3 77.6h-3.5M493.5 173.2v3.5M364.3 74.1h-3.5M497.0 173.2v3.5M364.3 71.5h-3.5M499.8 173.2v3.5M364.3 69.3h-3.5M502.2 173.2v3.5M364.3 67.5h-3.5M504.3 173.2v3.5M364.3 65.9h-3.5M506.2 173.2v3.5M364.3 64.5h-3.5M507.8 173.2v6M364.3 63.2h-6" stroke="#000" stroke-width="1.2" fill="none"/><g transform="translate(364.1,195.4) scale(0.82,1)"><text text-anchor="middle" font-family="Liberation Sans" stroke="#000" stroke-width="0.2" font-size="14">10<tspan font-size="13.5" dy="-7.7">0</tspan></text></g><g transform="translate(400.0,195.4) scale(0.82,1)"><text text-anchor="middle" font-family="Liberation Sans" stroke="#000" stroke-width="0.2" font-size="14">10<tspan font-size="13.5" dy="-7.7">1</tspan></text></g><g transform="translate(435.9,195.4) scale(0.82,1)"><text text-anchor="middle" font-family="Liberation Sans" stroke="#000" stroke-width="0.2" font-size="14">10<tspan font-size="13.5" dy="-7.7">2</tspan></text></g><g transform="translate(471.7,195.4) scale(0.82,1)"><text text-anchor="middle" font-family="Liberation Sans" stroke="#000" stroke-width="0.2" font-size="14">10<tspan font-size="13.5" dy="-7.7">3</tspan></text></g><g transform="translate(507.6,195.4) scale(0.82,1)"><text text-anchor="middle" font-family="Liberation Sans" stroke="#000" stroke-width="0.2" font-size="14">10<tspan font-size="13.5" dy="-7.7">4</tspan></text></g><g transform="translate(353.8,173.2) rotate(-90) scale(0.82,1)"><text text-anchor="middle" font-family="Liberation Sans" stroke="#000" stroke-width="0.2" font-size="14">10<tspan font-size="13.5" dx="3" dy="-7.7">0</tspan></text></g><g transform="translate(353.8,145.7) rotate(-90) scale(0.82,1)"><text text-anchor="middle" font-family="Liberation Sans" stroke="#000" stroke-width="0.2" font-size="14">10<tspan font-size="13.5" dx="3" dy="-7.7">1</tspan></text></g><g transform="translate(353.8,118.2) rotate(-90) scale(0.82,1)"><text text-anchor="middle" font-family="Liberation Sans" stroke="#000" stroke-width="0.2" font-size="14">10<tspan font-size="13.5" dx="3" dy="-7.7">2</tspan></text></g><g transform="translate(353.8,90.7) rotate(-90) scale(0.82,1)"><text text-anchor="middle" font-family="Liberation Sans" stroke="#000" stroke-width="0.2" font-size="14">10<tspan font-size="13.5" dx="3" dy="-7.7">3</tspan></text></g><g transform="translate(353.8,63.2) rotate(-90) scale(0.82,1)"><text text-anchor="middle" font-family="Liberation Sans" stroke="#000" stroke-width="0.2" font-size="14">10<tspan font-size="13.5" dx="3" dy="-7.7">4</tspan></text></g><g transform="translate(436.1,207.7) scale(0.94,1)"><text text-anchor="middle" font-family="Liberation Sans" stroke="#000" stroke-width="0.2" font-size="13">BrdU FITC</text></g><text transform="translate(335.8,121.2) rotate(-90)" text-anchor="middle" font-family="Liberation Sans" stroke="#000" stroke-width="0.2" font-size="13">c Kappa PE</text><text x="492.5" y="78.8" text-anchor="end" font-family="Liberation Serif" font-size="14" stroke="#000" stroke-width="0.45">5%</text></g><g transform="rotate(-0.45 436.9 286.1)"><ellipse cx="402" cy="311" rx="8.5" ry="13.5" transform="rotate(0 402 311)" fill="#000"/><path transform="scale(.5)" d="M801 467h4m4-2h4m-28 6h4m10 2h4m-1-1h4m-3-4h4m12 4h4m-42 3h4m11 4h4m7-1h4m-3 1h4m-3-3h4m-3 2h4m-2 0h4m-35 4h4m0 2h4m-3 0h4m-1-1h4m-1 1h4m-3-4h4m-2 4h4m-3-1h4m-1 1h4m1-2h4m-4 3h4m-2-2h4m-3-1h4m4-2h4m0 3h4m1 0h4m-2-3h4m-2 4h4m5-1h4m47 2h4m49-3h4m-168 5h4m7 2h4m0-1h4m0-2h4m-3 5h4m2-1h4m-3 1h4m-4-2h4m-4-1h4m0-2h4m-3 2h4m-3 1h4m-1 2h4m-4-1h4m-4-2h4m-4-1h4m-3-1h4m-2 0h4m-4 4h4m-3-1h4m-4-2h4m-3 0h4m-1 3h4m-1 1h4m7-4h4m6 4h4m44-1h4m9-2h4m21 0h4m11 1h4m-173 6h4m4 0h4m-2 1h4m-1-2h4m-4 1h4m-2-1h4m-4 3h4m-2-1h4m-2-2h4m-3 3h4m-2-1h4m-4 1h4m0-4h4m-3 1h4m-3 1h4m-3-3h4m-2 5h4m-3-4h4m-4 2h4m-2 0h4m0-2h4m-3 2h4m3 0h4m5 2h4m13-4h4m14 0h4m57 3h4m13-3h4m-159 10h4m-3-3h4m-3-2h4m-4 4h4m-4-2h4m-3 1h4m-3-1h4m-3 3h4m-1-4h4m-3 3h4m-3-2h4m-2 2h4m-3-4h4m-4 2h4m-3 3h4m-4-5h4m-2 1h4m-4-1h4m-3 2h4m-4-1h4m-4 3h4m-2-1h4m-2 0h4m-1 2h4m-4-1h4m-3 0h4m-3 1h4m-1-1h4m-4-3h4m-1-1h4m2 5h4m-3-2h4m-50 5h4m-4 2h4m1-1h4m-1-2h4m-4 2h4m-1-3h4m-3 0h4m-3 3h4m-3-2h4m-4-1h4m-3 4h4m-3 0h4m-3-3h4m-4 4h4m-3-3h4m-3 0h4m-4-1h4m-3 4h4m-3-5h4m-4 4h4m-3-2h4m-4-1h4m-1 3h4m-3 0h4m-4-1h4m-3-3h4m-4 4h4m-3-2h4m-3 0h4m-2 2h4m-4-3h4m-3 4h4m6-3h4m3 0h4m-4 3h4m-60 2h4m2 1h4m6 1h4m-4 2h4m-3-1h4m-2-4h4m-3 0h4m-1 5h4m-3-4h4m-4 3h4m-3-2h4m-4-1h4m-3 4h4m-4-4h4m-1 0h4m-4 1h4m-3 0h4m-3 1h4m-1-2h4m-1 0h4m-3 4h4m-1-5h4m-3 0h4m-2 1h4m2-1h4m-3 1h4m-51 6h4m-1 0h4m1 2h4m-3-3h4m0 1h4m0-1h4m2 2h4m-4 2h4m-3 0h4m-2 0h4m-3-4h4m-3 4h4m-3-4h4m0 2h4m-2 1h4m-4 1h4m16-3h4m-61 7h4m-3 2h4m6-1h4m-3 0h4m-1-1h4m-3 0h4m-3-2h4m-3 1h4m-4 2h4m-1-2h4m0-1h4m-3 2h4m0-2h4m-3 3h4m18-3h4m2 1h4m-62 9h4m12 1h4m-2 0h4m10-2h4m-2-3h4m-3 4h4m1-1h4m1-2h4m-45 5h4m5 3h4m-3 2h4m-3-5h4m-2 3h4m1 1h4m-3 0h4m-3-3h4m-2 1h4m-1 0h4m8 3h4m-59 4h4m10-2h4m9-1h4m-3 1h4m-2 3h4m0-4h4m4 0h4m-3 0h4m30 5h4m-65 3h4m5 8h4m0 3h4m4 1h4m5 2h4m-27 7h4m13-1h4m-38 11h4m10 0h4m11-1h4m5 3h4m-23 4h4m2-3h4m-3 3h4m-4-2h4m-3 1h4m-2 1h4m2 0h4m-37 7h4m-3 0h4m-1-1h4m7 1h4m-3 1h4m-3 0h4m-2-4h4m-1 1h4m-1 3h4m-2-1h4m2-4h4m1 2h4m-4 2h4m2-3h4m3 3h4m-77 6h4m0-3h4m1 3h4m5 0h4m8 1h4m-3-4h4m-3 2h4m0-2h4m0 0h4m-3 3h4m-2-3h4m-4 2h4m0 1h4m-3-1h4m-3-2h4m-2-1h4m-3 3h4m-3-2h4m-3 2h4m-3-1h4m-3-1h4m-1 3h4m-4-4h4m-3 5h4m-1-2h4m-2-1h4m-53 8h4m10 0h4m5 1h4m-3-5h4m-3 4h4m-3-2h4m0-1h4m-3 1h4m-2 3h4m-4-3h4m-2 1h4m-4-2h4m-4 3h4m-3-1h4m-2 2h4m-1-4h4m-3-1h4m-3 4h4m-2-1h4m-2-3h4m-2 0h4m1 1h4m-2 3h4m-63 5h4m5 1h4m-3 1h4m-3-5h4m-3 2h4m-3-1h4m-3 3h4m-4-4h4m-2 3h4m-2-1h4m-2 3h4m-4-5h4m-3 2h4m-3 2h4m-3-1h4m-2 0h4m-3 1h4m-4-2h4m-3 2h4m-3-1h4m-4-2h4m-3 0h4m-4 3h4m-4-1h4m-3 2h4m-2-3h4m-4 2h4m-3 1h4m-4-1h4m-3-4h4m-2 5h4m-3-2h4m-4-1h4m-2 1h4m-4 2h4m-3-3h4m-2-2h4m-3 1h4m-4 4h4m-4-1h4m-1-3h4m-3 1h4m-4 3h4m-3-3h4m-1 0h4m-3-2h4m-3 5h4m-2-3h4m1-2h4m-69 6h4m11 3h4m1 1h4m1 1h4m-2-4h4m-3 3h4m-3 0h4m-4-1h4m-3 0h4m-3 2h4m-3-4h4m-3 1h4m-3 2h4m-4-3h4m-4 4h4m-3-5h4m-3 1h4m-4 4h4m-4-5h4m-3 1h4m-4 3h4m-4-1h4m-3-1h4m-4 2h4m-4-1h4m-2 2h4m-4-5h4m-3 5h4m-2-1h4m-4-1h4m-4-2h4m-3 0h4m-3 4h4m-4-5h4m-2 2h4m-3-2h4m-4 3h4m-4-1h4m-3-1h4m-3 2h4m-4 2h4m-4-5h4m-3 3h4m-2-1h4m-3 3h4m0-2h4m-4 1h4m-2-4h4m0 2h4m2 2h4m0-2h4m77-1h4m-154 9h4m-2-1h4m0 1h4m3-4h4m-2 3h4m-1-1h4m-1 0h4m-4-1h4m-2 2h4m-3 1h4m-3-4h4m-4 3h4m-3-1h4m-3-2h4m-3 2h4m-4 1h4m-3-2h4m-4 4h4m-3-5h4m-2 4h4m-4 1h4m-3-3h4m-3 2h4m-2-4h4m-3 1h4m-3 2h4m-4 2h4m-4-5h4m-3 2h4m-4-2h4m-4 4h4m-3 0h4m-3-1h4m-4-1h4m-3 1h4m-3 0h4m-4-3h4m-3 0h4m-4 4h4m-4-1h4m-2 1h4m-3 0h4m-4-2h4m-3-1h4m-4 4h4m-4-1h4m-3-1h4m-3-2h4m-4-1h4m-3 4h4m-2 0h4m-1-4h4m-1 5h4m0-3h4m5 0h4m-3 2h4m20-3h4m26 0h4m10 1h4m-1 1h4m5-2h4m1 3h4m-183 4h4m12 2h4m-1 1h4m-2-4h4m-1 3h4m0-1h4m0-3h4m0 3h4m-4-1h4m-2-2h4m0 1h4m-1 1h4m-3 0h4m-1 2h4m-4-2h4m-3 2h4m-3-2h4m-4-1h4m-3 4h4m-4-5h4m-3 3h4m-4-1h4m-4-1h4m-4-1h4m-3 3h4m-4-1h4m-4 2h4m-3-2h4m-3 1h4m-4-3h4m-4 4h4m-3 1h4m-4-3h4m-3 3h4m-4-2h4m-3-1h4m-3 2h4m-4-1h4m-4-1h4m-4-1h4m-3 1h4m-3-2h4m-3 5h4m-4-1h4m-4-1h4m-3 2h4m-4-5h4m-1 0h4m-3 0h4m-4 1h4m-3 4h4m-4-3h4m-2-2h4m0 0h4m-3 3h4m0 2h4m1-3h4m1 3h4m-2-1h4m-2-3h4m-3 3h4m2 1h4m36-5h4m3 4h4m38 0h4m-183 3h4m7 0h4m-1 2h4m-3-2h4m1 2h4m-3 1h4m-1-3h4m-3 1h4m-3 1h4m-3 0h4m-2 0h4m-3-2h4m-3 0h4m-4 2h4m-4-1h4m-2-2h4m-2 5h4m-3 0h4m-4-5h4m-3 5h4m-4-2h4m-3 2h4m-3-4h4m-3 4h4m-4-2h4m-2-1h4m-4 3h4m-3-4h4m-3 4h4m-3-2h4m-2 2h4m-4-5h4m-3 2h4m-3 2h4m-3-2h4m-3 3h4m-4-1h4m-3-2h4m-4 3h4m-2-1h4m-3-1h4m-3 2h4m-3-2h4m-4-3h4m-2 4h4m-3-3h4m-4 4h4m-3-5h4m-3 1h4m0 0h4m-3-1h4m11 1h4m27 0h4m0 3h4m4 0h4m-119 6h4m4-1h4m-2 2h4m-2-2h4m3 0h4m-4-2h4m-3-1h4m-1 2h4m-4-2h4m-1 5h4m-4-1h4m-3 1h4m-4-5h4m-4 2h4m-3 1h4m-4-3h4m-3 3h4m-4-1h4m-3-2h4m-4 3h4m-4-2h4m0 1h4m-4-1h4m-4-1h4m-3 0h4m-4 3h4m-2-1h4m-4 3h4m-1-5h4m-4 4h4m-4-2h4m-2-2h4m-3 0h4m-4 2h4m-4-1h4m-3 2h4m-4-1h4m-3-2h4m-3 4h4m-4-3h4m-3 3h4m-3-1h4m-3-2h4m-1 1h4m-1 3h4m-3-5h4m2 3h4m2-1h4m19 2h4m8 0h4m14-1h4m11-2h4m0-1h4m-144 7h4m3 1h4m0 2h4m-4 1h4m0 0h4m-1-3h4m-2 2h4m-2-2h4m-3 0h4m-3 0h4m-3-1h4m-4-1h4m-2 2h4m-4-2h4m-3 0h4m-3 2h4m-3-2h4m-3 4h4m-3-1h4m-4-1h4m-3-2h4m-4 4h4m-3 0h4m-3-3h4m-4 4h4m2 0h4m-2-5h4m-2 3h4m-3-1h4m-4-2h4m-3 3h4m2 0h4m0-1h4m40 0h4m-123 8h4m-1 0h4m15-4h4m2 4h4m11 0h4m-3 1h4m-3-4h4m-3-1h4m-1 2h4m-2-2h4m0 1h4m-3 1h4m-4 3h4m-2-3h4m-1-1h4m-3 1h4m-3-1h4m-3 4h4m-3-5h4m-3 2h4m-4-1h4m7 1h4m-68 7h4m3 1h4m-4 1h4m3-5h4m6 5h4m8-1h4m-3-1h4m-3-1h4m11 1h4m7 2h4m-70 1h4m2 3h4m18 0h4m-3-1h4m-1 0h4m1-2h4m1 4h4m-1 0h4m1-3h4m-3 3h4m-31 5h4m6 3h4m11 2h4" stroke="#000" stroke-width="4.4" fill="none"/><rect x="365.3" y="231.2" width="143.1" height="109.8" fill="none" stroke="#000" stroke-width="1.9"/><line x1="415.9" y1="231.2" x2="415.9" y2="341.0" stroke="#000" stroke-width="1.7"/><line x1="365.3" y1="277.6" x2="508.4" y2="277.6" stroke="#000" stroke-width="1.7"/><path d="M365.3 341.0v6M365.3 341.0h-6M376.1 341.0v3.5M365.3 332.7h-3.5M382.4 341.0v3.5M365.3 327.9h-3.5M386.8 341.0v3.5M365.3 324.5h-3.5M390.3 341.0v3.5M365.3 321.8h-3.5M393.1 341.0v3.5M365.3 319.6h-3.5M395.5 341.0v3.5M365.3 317.8h-3.5M397.6 341.0v3.5M365.3 316.2h-3.5M399.4 341.0v3.5M365.3 314.8h-3.5M401.1 341.0v6M365.3 313.6h-6M411.8 341.0v3.5M365.3 305.3h-3.5M418.1 341.0v3.5M365.3 300.5h-3.5M422.6 341.0v3.5M365.3 297.0h-3.5M426.1 341.0v3.5M365.3 294.4h-3.5M428.9 341.0v3.5M365.3 292.2h-3.5M431.3 341.0v3.5M365.3 290.4h-3.5M433.4 341.0v3.5M365.3 288.8h-3.5M435.2 341.0v3.5M365.3 287.4h-3.5M436.9 341.0v6M365.3 286.1h-6M447.6 341.0v3.5M365.3 277.8h-3.5M453.9 341.0v3.5M365.3 273.0h-3.5M458.4 341.0v3.5M365.3 269.6h-3.5M461.9 341.0v3.5M365.3 266.9h-3.5M464.7 341.0v3.5M365.3 264.7h-3.5M467.1 341.0v3.5M365.3 262.9h-3.5M469.2 341.0v3.5M365.3 261.3h-3.5M471.0 341.0v3.5M365.3 259.9h-3.5M472.6 341.0v6M365.3 258.6h-6M483.4 341.0v3.5M365.3 250.4h-3.5M489.7 341.0v3.5M365.3 245.6h-3.5M494.2 341.0v3.5M365.3 242.1h-3.5M497.6 341.0v3.5M365.3 239.5h-3.5M500.5 341.0v3.5M365.3 237.3h-3.5M502.9 341.0v3.5M365.3 235.5h-3.5M504.9 341.0v3.5M365.3 233.9h-3.5M506.8 341.0v3.5M365.3 232.5h-3.5M508.4 341.0v6M365.3 231.2h-6" stroke="#000" stroke-width="1.2" fill="none"/><g transform="translate(365.1,363.2) scale(0.82,1)"><text text-anchor="middle" font-family="Liberation Sans" stroke="#000" stroke-width="0.2" font-size="14">10<tspan font-size="13.5" dy="-7.7">0</tspan></text></g><g transform="translate(400.9,363.2) scale(0.82,1)"><text text-anchor="middle" font-family="Liberation Sans" stroke="#000" stroke-width="0.2" font-size="14">10<tspan font-size="13.5" dy="-7.7">1</tspan></text></g><g transform="translate(436.7,363.2) scale(0.82,1)"><text text-anchor="middle" font-family="Liberation Sans" stroke="#000" stroke-width="0.2" font-size="14">10<tspan font-size="13.5" dy="-7.7">2</tspan></text></g><g transform="translate(472.4,363.2) scale(0.82,1)"><text text-anchor="middle" font-family="Liberation Sans" stroke="#000" stroke-width="0.2" font-size="14">10<tspan font-size="13.5" dy="-7.7">3</tspan></text></g><g transform="translate(508.2,363.2) scale(0.82,1)"><text text-anchor="middle" font-family="Liberation Sans" stroke="#000" stroke-width="0.2" font-size="14">10<tspan font-size="13.5" dy="-7.7">4</tspan></text></g><g transform="translate(354.8,341.0) rotate(-90) scale(0.82,1)"><text text-anchor="middle" font-family="Liberation Sans" stroke="#000" stroke-width="0.2" font-size="14">10<tspan font-size="13.5" dx="3" dy="-7.7">0</tspan></text></g><g transform="translate(354.8,313.6) rotate(-90) scale(0.82,1)"><text text-anchor="middle" font-family="Liberation Sans" stroke="#000" stroke-width="0.2" font-size="14">10<tspan font-size="13.5" dx="3" dy="-7.7">1</tspan></text></g><g transform="translate(354.8,286.1) rotate(-90) scale(0.82,1)"><text text-anchor="middle" font-family="Liberation Sans" stroke="#000" stroke-width="0.2" font-size="14">10<tspan font-size="13.5" dx="3" dy="-7.7">2</tspan></text></g><g transform="translate(354.8,258.6) rotate(-90) scale(0.82,1)"><text text-anchor="middle" font-family="Liberation Sans" stroke="#000" stroke-width="0.2" font-size="14">10<tspan font-size="13.5" dx="3" dy="-7.7">3</tspan></text></g><g transform="translate(354.8,231.2) rotate(-90) scale(0.82,1)"><text text-anchor="middle" font-family="Liberation Sans" stroke="#000" stroke-width="0.2" font-size="14">10<tspan font-size="13.5" dx="3" dy="-7.7">4</tspan></text></g><g transform="translate(436.9,375.5) scale(0.94,1)"><text text-anchor="middle" font-family="Liberation Sans" stroke="#000" stroke-width="0.2" font-size="13">BrdU FITC</text></g><text transform="translate(336.8,289.1) rotate(-90)" text-anchor="middle" font-family="Liberation Sans" stroke="#000" stroke-width="0.2" font-size="13">c Lambda PE</text><text x="497" y="245.8" text-anchor="end" font-family="Liberation Serif" font-size="14" stroke="#000" stroke-width="0.45">6%</text></g><g transform="rotate(-0.45 116.2 546.5)"><polygon points="54,536 69,536 69.5,542 67,550 66.5,566 64.5,580 64,596 61,601 50,601 50.5,580 52,560 52.5,545" fill="#000"/><ellipse cx="134" cy="550" rx="8.5" ry="8.5" transform="rotate(0 134 550)" fill="#000"/><ellipse cx="130" cy="584" rx="6.5" ry="6" transform="rotate(0 130 584)" fill="#000"/><path transform="scale(.5)" d="M102 1023h4m0 26h4m3 0h4m85-2h4m9 2h4m-109 5h4m0 1h4m1-3h4m0 1h4m2 2h4m65-2h4m0 2h4m9 0h4m11 0h4m24 0h4m-1-5h4m-161 11h4m4-4h4m-2-1h4m-1 4h4m-2-2h4m-4 1h4m3 2h4m0-3h4m-4 1h4m-4 2h4m-3 0h4m-2 0h4m-38 5h4m-2-4h4m5 3h4m2 1h4m0-1h4m-3 0h4m-3-1h4m1 1h4m1-3h4m-3 3h4m2 1h4m-2 0h4m84-2h4m0 3h4m12 0h4m-2-1h4m19-1h4m-2-2h4m2-1h4m-190 8h4m1 1h4m-3-3h4m-3 1h4m-4 4h4m0-3h4m-3 2h4m-3 0h4m-1-4h4m-3 0h4m-3 1h4m-4 1h4m-1-2h4m-3 0h4m-2 1h4m-4 1h4m-2-2h4m-4 3h4m-3 2h4m-3 0h4m-2-3h4m-3 1h4m-3 2h4m-4-1h4m-2-1h4m-4 2h4m-1-5h4m-2 4h4m-3-2h4m-3 2h4m-2 1h4m0-3h4m-3-1h4m-3 3h4m-4-1h4m-2 0h4m58 1h4m8 1h4m18-3h4m3 2h4m1 0h4m2 0h4m-4-4h4m-4 3h4m5-3h4m-2 3h4m-3-3h4m-3 5h4m-2 0h4m-191 3h4m-1-1h4m-2 2h4m-3-3h4m-4 3h4m-1 0h4m-4-3h4m-2 5h4m4-5h4m-2 2h4m-3-1h4m-4 2h4m-4-3h4m-3 0h4m-2 5h4m-3-4h4m-3-1h4m-3 5h4m-2-5h4m-1 4h4m1 1h4m-3-2h4m-3-2h4m-4 2h4m-1 2h4m-4-5h4m-2 1h4m-3 0h4m-3 3h4m-3-4h4m-1 3h4m0 2h4m-2-1h4m5 1h4m71-4h4m4 4h4m3-1h4m0-4h4m1 5h4m-1-2h4m-2-2h4m-4 2h4m3-3h4m-1 0h4m0 1h4m-2 4h4m0-3h4m1 3h4m-1-5h4m3 0h4m-3 5h4m-2-3h4m-211 5h4m2 4h4m-3-1h4m-2-1h4m-3-2h4m-2-1h4m-2 5h4m-2-1h4m-2-2h4m-3 0h4m-3 0h4m-2 3h4m-2-4h4m-3 0h4m-4-1h4m-3 3h4m-4-1h4m-3 0h4m-3-1h4m-3 0h4m-4 3h4m-3-4h4m-4 5h4m-2-3h4m-1-1h4m-4-1h4m-2 3h4m-3-1h4m-3 3h4m1-5h4m-3 0h4m-3 1h4m-2 3h4m11-3h4m4 3h4m9-1h4m3 0h4m14 2h4m9 0h4m15-2h4m7 0h4m-1 2h4m-3-4h4m-2 0h4m-1-1h4m-2 2h4m-4-2h4m-2 2h4m-4 2h4m-3-3h4m-2 4h4m-3-1h4m-4-1h4m-3-1h4m-3-1h4m-2 2h4m-3-3h4m-3 2h4m-3-2h4m-4 2h4m-2-1h4m-4 2h4m-4 2h4m-1-2h4m-4 2h4m-1-2h4m-3-2h4m-4-1h4m-2 4h4m2 1h4m-1-5h4m-3 3h4m-2 0h4m-202 7h4m0-3h4m0 1h4m-4-1h4m-3 4h4m-2 0h4m-4-1h4m-3 0h4m3-4h4m-2 1h4m-3 0h4m-2 0h4m-4 3h4m-3-2h4m-4 2h4m-3 0h4m-4-1h4m-2 0h4m-4 1h4m-1-2h4m-2 3h4m1-5h4m-4 5h4m-1-2h4m-2 0h4m-4 2h4m-2-4h4m22 2h4m1 2h4m26 0h4m-2-4h4m6 2h4m1 2h4m-1-3h4m5 0h4m-2 0h4m1-1h4m-4-1h4m2 5h4m-2-4h4m5 0h4m-3 2h4m-2 0h4m-3 1h4m-3-1h4m-4-3h4m-3 1h4m-4 2h4m-4 1h4m-3-4h4m-3 1h4m-4 2h4m-3-3h4m-4 2h4m-3 0h4m-4 1h4m-3 0h4m-4 1h4m-4 1h4m-3 0h4m-3-2h4m-4-1h4m-4 2h4m-3-1h4m-4-1h4m-3 2h4m-4-1h4m-4 2h4m-3-5h4m-3 4h4m-4 1h4m-4-5h4m-4 3h4m-3-3h4m-3 0h4m-4 2h4m-4 2h4m-4-3h4m-3 4h4m-4-5h4m-3 1h4m-3 3h4m-3-2h4m-3 2h4m-4-3h4m-4 2h4m-4-1h4m-3-2h4m-4 5h4m-3-4h4m-4 1h4m-3 0h4m-3-1h4m-4 4h4m-3-2h4m-4 2h4m-3-3h4m-4 2h4m-2-1h4m-4-2h4m0-1h4m-4 4h4m-2-4h4m0 0h4m-206 9h4m-2-3h4m-3 3h4m2-1h4m-3-1h4m-3 2h4m-3-3h4m-3 3h4m-2-3h4m-2 5h4m-1-1h4m-3-2h4m2-1h4m2-1h4m-3 5h4m-3-1h4m-2 0h4m-2-4h4m0 5h4m-3-2h4m1-3h4m-3 2h4m-3 1h4m-3 1h4m-3-4h4m4 2h4m-4 2h4m-3-4h4m11 5h4m-4-1h4m-3-3h4m2 2h4m-3-2h4m1 3h4m-2 1h4m16-4h4m-1 0h4m-3 2h4m-1 0h4m-1-2h4m-2 3h4m-4-3h4m-3-1h4m-4 2h4m0 1h4m0-1h4m-2 2h4m1 0h4m-4-1h4m-2 1h4m-2 1h4m-4-1h4m-2-2h4m-2 1h4m0 1h4m-3-1h4m-1 2h4m-2-1h4m-2-4h4m-3 0h4m-4 2h4m-4 1h4m-4 2h4m-4-1h4m-3-3h4m-4 4h4m-3-4h4m-3 0h4m-4 4h4m-3-5h4m-3 0h4m-3 3h4m-4 2h4m-3-3h4m-4 2h4m-4-4h4m-2 4h4m-3 0h4m-4-4h4m-4 1h4m-3 0h4m-3 4h4m-4-5h4m-4 2h4m-4-1h4m-3 4h4m-4-3h4m-4 2h4m-3 1h4m-1-5h4m-4 2h4m-4 2h4m-3-1h4m-3 0h4m-3 1h4m-4-1h4m-3 0h4m-4 2h4m-3-4h4m-4 2h4m-3-1h4m-4-1h4m-4 3h4m-4 1h4m-3-1h4m-4-4h4m-3 0h4m-4 1h4m-4 3h4m-3-4h4m-3 4h4m-4-1h4m-4 2h4m-3-5h4m-4 2h4m-4 2h4m-3-3h4m-3 0h4m-4 3h4m-4-1h4m-4-3h4m-3 0h4m-4 2h4m-2-1h4m-4 3h4m-4 1h4m-3-1h4m-4-1h4m-3 2h4m4-5h4m1 5h4m-2-4h4m-216 9h4m-3-2h4m0 0h4m-4 1h4m-1 2h4m-3-2h4m-4 1h4m-3-3h4m-1 0h4m-1 0h4m-2-1h4m0 2h4m-3 0h4m-3-2h4m-3 2h4m-4-1h4m-4 3h4m-3-2h4m-2 2h4m-1-2h4m-3-1h4m-4 3h4m-4-1h4m-3-1h4m-4-2h4m-3 4h4m-3-1h4m-4-1h4m0 3h4m-4-1h4m-2-2h4m-4 2h4m-3-4h4m-3 3h4m0-1h4m-4-1h4m0 0h4m-2 2h4m-4 2h4m-1-2h4m-2 2h4m8-1h4m-3-3h4m7 4h4m-1-5h4m6 1h4m10 2h4m0 0h4m1 1h4m0 1h4m-3-5h4m-1 4h4m-1-1h4m-3-3h4m-4 2h4m-3 2h4m-1-3h4m-3 2h4m-3-2h4m-3 2h4m-4-1h4m-4 2h4m-3-1h4m-3-2h4m-4 2h4m-3 2h4m-2 0h4m-3-3h4m-3-1h4m-1 1h4m-4 2h4m-3 0h4m-3-1h4m-3-3h4m-3 5h4m-4-1h4m-3 1h4m-4-5h4m-2 4h4m-4-3h4m-2 2h4m-3-1h4m-3-1h4m-3 3h4m-4 1h4m-4-5h4m-3 4h4m-3-2h4m-3 3h4m-3-5h4m-4 2h4m-3 1h4m-4-1h4m-4 2h4m-3-1h4m-4 2h4m-4-4h4m-3 0h4m-4 3h4m-3 1h4m-4-2h4m-4-1h4m-4 2h4m-3 0h4m-4-3h4m-4-1h4m-3 3h4m-4-1h4m-4 2h4m-3-4h4m-4 2h4m-4 3h4m-3-2h4m-4-1h4m-3-2h4m-4 2h4m-3 2h4m-3-1h4m-4 2h4m-4-1h4m-3-1h4m-3 0h4m-4-1h4m-3 1h4m-4 2h4m-3-1h4m-4-3h4m-3-1h4m-4 3h4m-4 1h4m-3-3h4m-3 3h4m-4-3h4m-4-1h4m-4 3h4m-3 1h4m-3-1h4m-3 1h4m-3-3h4m-4-1h4m-4 2h4m-3-1h4m-4 2h4m-4-1h4m-3 2h4m-4-3h4m-4 1h4m-3-1h4m-3 1h4m-3 0h4m-4 3h4m-2-4h4m-3 1h4m-3-2h4m-4 1h4m-4 1h4m-4 3h4m-3-1h4m-3-3h4m-2 0h4m15 1h4m-221 7h4m1 1h4m2-1h4m-4 2h4m-1-2h4m-2-2h4m0 1h4m-4 3h4m-3-5h4m0 2h4m-3 2h4m-3 0h4m-4 1h4m-3-3h4m-4-2h4m-2 2h4m-3 2h4m0 1h4m-3-2h4m-2 0h4m-4 2h4m-2-3h4m-4 3h4m-4-5h4m-3 4h4m-3-1h4m0-3h4m0 1h4m0 1h4m4 3h4m0-2h4m6-2h4m5-1h4m-3 0h4m1 0h4m-3 0h4m19 3h4m2-1h4m-4 1h4m6-1h4m-3-2h4m-3 5h4m-3 0h4m4-2h4m-3 0h4m-3 2h4m-1-5h4m-4 2h4m-4-1h4m-2 1h4m-3 0h4m-3-1h4m-1 0h4m-2 3h4m-3 0h4m-2-3h4m-4 2h4m-3-2h4m-2-1h4m-3 1h4m-4 4h4m-3-5h4m-4 2h4m-3 0h4m-4 3h4m-3-5h4m-3 1h4m-2-1h4m-4 1h4m-4 2h4m-4 2h4m-3 0h4m-3-2h4m-4 1h4m-4-4h4m-4 2h4m-3-1h4m-4 2h4m-4-3h4m-3 1h4m-4-1h4m-4 2h4m-4 1h4m-3 2h4m-4-5h4m-4 1h4m-3 3h4m-4-4h4m-4 2h4m-3 2h4m-4-1h4m-3 0h4m-4 2h4m-4-4h4m-4 1h4m-3 0h4m-4 3h4m-3-3h4m-4 2h4m-4-1h4m-3-3h4m-4 2h4m-4 1h4m-3-3h4m-4 3h4m-3-3h4m-4 2h4m-4 2h4m-4-1h4m-3-1h4m-4 2h4m-3-4h4m-4 1h4m-3 0h4m-3-1h4m-4 2h4m-4 2h4m-4 1h4m-3-4h4m-4-1h4m-4 3h4m-3 0h4m-4-1h4m-3-2h4m-3 0h4m-4 1h4m-3 1h4m-3 0h4m-3-1h4m-3 2h4m1-3h4m-2 0h4m-4 3h4m11-1h4m-215 7h4m-2 1h4m1-1h4m-4 2h4m-1-5h4m-2 0h4m-4 1h4m-3-1h4m-3 4h4m-4 1h4m-3-3h4m2 2h4m-4-1h4m-4 2h4m-2-5h4m-4 5h4m-3-5h4m-2 3h4m-4 2h4m2-5h4m-4 1h4m-4 2h4m-1 0h4m-1-1h4m-2-1h4m-4 1h4m-4 2h4m1 1h4m0-4h4m-3 0h4m0-1h4m13 3h4m-2 2h4m8-4h4m-3 4h4m-3-4h4m13 1h4m-2 0h4m-2 2h4m4 0h4m0-3h4m-1 1h4m-2-1h4m-1 1h4m-3-1h4m-2 0h4m2-1h4m-4 3h4m-4-1h4m-2 1h4m-3-2h4m-1 4h4m0-1h4m-3 0h4m-1 1h4m-3-2h4m-1 0h4m-2 0h4m-1 0h4m-4-1h4m-4 3h4m-3-4h4m-3 4h4m-2-4h4m-4-1h4m-3 2h4m-4 3h4m-3 0h4m-3 0h4m-4-4h4m-4 3h4m-3 1h4m-4-1h4m-4-4h4m-4 2h4m-2-2h4m-4 5h4m-3-4h4m-4-1h4m-4 3h4m-3-2h4m-4 1h4m-4 2h4m-3-2h4m-4 2h4m-3-4h4m-4 4h4m-3-3h4m-4 4h4m-4-1h4m-3 0h4m-4-3h4m-3 0h4m-4 1h4m-1 2h4m-2 1h4m-3-2h4m-3 1h4m-3-1h4m-4 2h4m-3-1h4m0 0h4m-1-3h4m3 0h4m-209 6h4m-4 4h4m-1-5h4m-4 3h4m1 2h4m-4-4h4m-3 4h4m0-4h4m-4 2h4m3 2h4m-4-1h4m-3-1h4m-4 1h4m-2-2h4m-3 2h4m-2 0h4m-4-3h4m-3 1h4m-2-1h4m-3 1h4m-4 3h4m-4-1h4m-3-3h4m-3-1h4m-3 4h4m-3-3h4m-4 1h4m-3 1h4m-1-3h4m-3 4h4m-1-2h4m-4 2h4m-3 1h4m-4-1h4m3-3h4m-3 0h4m-3 0h4m-3 1h4m-1-2h4m6 3h4m8-3h4m-1 3h4m4-3h4m7 3h4m5-2h4m-3 2h4m-1 2h4m-1-4h4m-1-1h4m-1 1h4m0 3h4m0 1h4m1-1h4m5 1h4m0-4h4m0 0h4m0 3h4m-1-1h4m-3 2h4m-3-3h4m-3-2h4m-3 3h4m1-1h4m-4 1h4m-2-1h4m-2-1h4m-3 2h4m-2-1h4m0-1h4m-2-1h4m-1 0h4m-4 2h4m-2 0h4m-1 1h4m-2 1h4m-4-4h4m-3 0h4m-1 5h4m-3-1h4m-3-1h4m-3 0h4m2-3h4m0 2h4m0 3h4m-211 5h4m-1-4h4m-4 4h4m-1-3h4m-2 0h4m0 4h4m-4-4h4m-3 4h4m-3-3h4m-1-1h4m-4 3h4m-4-1h4m-3 0h4m-4-2h4m-4 3h4m-1-4h4m-4 2h4m-4 1h4m-1-2h4m-3 4h4m-3-4h4m-4 3h4m-3-4h4m-4 3h4m-3-3h4m-2 0h4m-4 2h4m-2-1h4m-1 1h4m-2-2h4m-4 1h4m-4 3h4m-3-2h4m-4 3h4m-3-4h4m-4 1h4m-4 3h4m-3 0h4m-2-5h4m-3 4h4m-1-1h4m-2 2h4m-4-4h4m-3 0h4m78 4h4m14-4h4m9 1h4m0-2h4m0 4h4m-1-1h4m-2 0h4m-3-3h4m1 0h4m-2 3h4m-2-2h4m-4 2h4m2 0h4m-4-1h4m-2-2h4m-202 8h4m-1 3h4m-2-4h4m-4 2h4m3 2h4m-4-1h4m-2-1h4m-2-1h4m-3-1h4m-4 3h4m-1 0h4m1-4h4m-4 1h4m-2 4h4m-2-4h4m-3 2h4m-4 2h4m-3-2h4m-4-1h4m-3 1h4m-2 0h4m-3-1h4m-1 0h4m-3 0h4m-3 0h4m-4 1h4m-4 1h4m-3 0h4m-4-3h4m0 2h4m-1-3h4m-3 0h4m-2 3h4m-3-2h4m-2 1h4m-2-2h4m1 3h4m7 2h4m23-2h4m17-3h4m-1 5h4m20-4h4m10-1h4m-4 2h4m-2-2h4m-4 2h4m-1 0h4m0 1h4m-2 1h4m5-1h4m2-2h4m-190 9h4m1-4h4m-3 3h4m-3-1h4m-3 2h4m-4-1h4m-3-3h4m-4 2h4m-1 2h4m0-2h4m0-2h4m-2 1h4m-1 3h4m-3-3h4m-4 3h4m-3-3h4m-3 0h4m-3 3h4m-4-1h4m-2 2h4m-1-4h4m-4 3h4m-4 1h4m-3-5h4m-2 2h4m-2-1h4m-3 4h4m-3-4h4m-2-1h4m-4 4h4m-4-1h4m-2 2h4m-3-3h4m-2 0h4m-4 1h4m2 1h4m39-3h4m-1 4h4m0-4h4m15 1h4m6-1h4m10 0h4m4 3h4m5 1h4m11-4h4m5 1h4m-190 9h4m-3-1h4m1-4h4m-3 3h4m-4 1h4m-4-3h4m-1-1h4m-4 2h4m-1 2h4m-3-4h4m-4 5h4m-4-1h4m-3-4h4m-4 2h4m-3-1h4m-1-1h4m-2 2h4m-4 2h4m-3-1h4m-3-2h4m-4 1h4m-4 2h4m-4-4h4m-3 4h4m-3-1h4m-4 2h4m-4-1h4m-3-3h4m-4 4h4m-3-4h4m-4 2h4m-3-1h4m-4 2h4m-3 1h4m-3 0h4m-4-5h4m-4 2h4m-4 1h4m-3-2h4m-3 1h4m-1 2h4m-3-1h4m-3 2h4m-4-1h4m-3-3h4m-4 2h4m-4 2h4m-4-5h4m-1 5h4m-2-3h4m-4 3h4m-4-5h4m-4 3h4m-2-2h4m-2 2h4m-3-1h4m-1-2h4m-2 5h4m0-3h4m64 3h4m4 0h4m14-4h4m-4 4h4m-3 0h4m-2-4h4m-4 3h4m0-1h4m-3 0h4m1-1h4m-2 3h4m-2-3h4m-3 2h4m-1 1h4m-3 0h4m-3-3h4m-3 3h4m-4-5h4m2 2h4m5 2h4m-4 1h4m3 0h4m-3 0h4m18-3h4m-227 5h4m-3 4h4m-1-1h4m-4-1h4m-1 2h4m-3-4h4m-3 4h4m-3-1h4m-2-1h4m-1 1h4m-3-4h4m-2 3h4m-4 2h4m-4-5h4m-3 4h4m-4 1h4m-3 0h4m-3-4h4m-3 1h4m-4 2h4m-3-2h4m-4 3h4m-4-4h4m-4 2h4m-3-1h4m-2 1h4m-4-2h4m-4 3h4m-3-2h4m-4 1h4m-4 2h4m-3 0h4m-4-5h4m-4 4h4m-3-4h4m-3 1h4m-4 2h4m-3-3h4m-3 0h4m-3 0h4m-4 4h4m-3 1h4m-4-5h4m-3 3h4m-4 2h4m-1-3h4m-3 3h4m-3-3h4m-3-2h4m-1 1h4m-3 0h4m-4-1h4m-2 0h4m11 0h4m13 5h4m38-2h4m6 1h4m0 1h4m-2 0h4m1-1h4m-4-2h4m-3-1h4m-4 3h4m2 1h4m-1-5h4m-3 3h4m-1-3h4m-2 3h4m-3 1h4m-3-3h4m-4 2h4m-4 2h4m-3-3h4m-4 3h4m-2-1h4m-3 1h4m-3-3h4m-4 1h4m-3 0h4m-3 1h4m-3-4h4m-3 5h4m-3-2h4m-3 0h4m-4 2h4m-3-1h4m-2 0h4m-3-4h4m1 4h4m0-1h4m-4 2h4m-1-1h4m-1 0h4m5-3h4m14 4h4m-2-5h4m-219 8h4m2 1h4m-3 2h4m-4-5h4m-3 3h4m-3 0h4m-3 2h4m-4-1h4m-3 0h4m-3 1h4m-4-5h4m-1 0h4m-4 2h4m-3 2h4m-3-4h4m-2 1h4m-3 0h4m-4 4h4m-3-4h4m-4 4h4m-3-4h4m-4 4h4m-2-3h4m-2 3h4m-3-3h4m-4 3h4m-1 0h4m-3-5h4m-4 2h4m-3 0h4m-3-2h4m-4 2h4m-2-2h4m-3 2h4m-2 3h4m-3-4h4m-4 2h4m-3-3h4m-3 4h4m-2-4h4m-1 5h4m-4-5h4m-3 0h4m-2 4h4m8-3h4m33 0h4m0-1h4m30 1h4m-4 3h4m-1-2h4m2 2h4m-4 1h4m-2-2h4m-2-2h4m-4 4h4m-3 0h4m-4-5h4m-4 2h4m-4 2h4m-2-1h4m-3-1h4m-1-1h4m-4 3h4m-3 0h4m-3 1h4m-3-2h4m-4-2h4m-3 3h4m-3-2h4m-3 0h4m-4 2h4m-3 1h4m-3-3h4m-4 1h4m-3-2h4m-3 1h4m-3 2h4m-3 0h4m-3-3h4m-4-1h4m-4 2h4m-2 1h4m-2 0h4m-3 2h4m-4-4h4m-3 2h4m-4-2h4m-2 4h4m-3 0h4m-3-3h4m-3 2h4m-4-1h4m-3 2h4m-4-4h4m-4-1h4m-4 4h4m-3-2h4m-4 2h4m-3-2h4m-3 1h4m-3-2h4m-4 4h4m-1-3h4m-4 2h4m4-1h4m9 1h4m9-2h4m-229 8h4m-2-4h4m-2 2h4m-1 0h4m1-1h4m-1 3h4m-1-1h4m-4-1h4m-4 3h4m-2-4h4m-3-1h4m-4 4h4m-2 1h4m-3-5h4m-3 2h4m-1 0h4m-2-1h4m-3-1h4m-4 3h4m-2 1h4m-4-1h4m-3-3h4m-3 2h4m-4-1h4m-3 0h4m0 4h4m-4-5h4m-1 4h4m-3-3h4m1 4h4m-2 0h4m-4-1h4m-1-2h4m-3-2h4m27 2h4m11 3h4m10-2h4m7-2h4m2 0h4m-3 1h4m-3 1h4m-4-1h4m1-1h4m-2 3h4m-2 1h4m2-4h4m-3 4h4m-4-5h4m-3 1h4m-4 2h4m-4-1h4m-3 0h4m-4 1h4m-4 2h4m-3-1h4m-3-2h4m-3 3h4m-4-5h4m-3 1h4m-4 4h4m-3 0h4m-3-4h4m-4 2h4m-3-2h4m-4 2h4m-3-3h4m-4 2h4m-4 1h4m-3 2h4m-4-1h4m-3-1h4m-4 1h4m-3 0h4m-3-3h4m-4 2h4m-4 1h4m-3-2h4m-4-1h4m-4 4h4m-3-5h4m-3 5h4m-4-1h4m-2-1h4m-4 2h4m-4-1h4m-4-4h4m-3 2h4m-3-1h4m-3 3h4m-3-3h4m-4 2h4m-2-3h4m-4 1h4m-4 1h4m-4 2h4m-2-2h4m-4-1h4m-3 0h4m-4 2h4m-4 2h4m-2-2h4m-3-2h4m-4 4h4m-3 0h4m-4-1h4m-3-2h4m-4 2h4m-3-2h4m-3 1h4m-2-1h4m-3 0h4m-1 2h4m-3 0h4m-1-2h4m-4-1h4m3 2h4m-207 4h4m-1 1h4m-4 2h4m0 1h4m-3-5h4m-4 5h4m-3-3h4m2 3h4m-1-1h4m-4-4h4m-4 2h4m-1-2h4m-2 5h4m-3-2h4m-1-3h4m-4 1h4m-3 1h4m-4 2h4m-2-4h4m-3 5h4m0-1h4m-1 1h4m-4-5h4m-4 1h4m-3 2h4m-2-3h4m-4 2h4m-4 3h4m-2-1h4m-1-4h4m1 4h4m-1-4h4m-3 2h4m-3 2h4m-3-4h4m38 5h4m10-1h4m2 1h4m4-2h4m3 1h4m-3 1h4m-2-4h4m-2 2h4m1-1h4m-3 2h4m-2 1h4m-3-1h4m-3-2h4m-3 1h4m-3 0h4m-4 2h4m-1 0h4m-4-3h4m-3-1h4m-3 2h4m-2-2h4m-4 2h4m-4-1h4m-3 0h4m-4-1h4m-4 2h4m-3-3h4m-4 2h4m-4 2h4m-4-3h4m-3 2h4m-4 1h4m-4 1h4m-3-1h4m-4 1h4m-2-5h4m-4 4h4m-4-1h4m-3 1h4m-4 1h4m-2 0h4m-4-3h4m-4 2h4m-3-3h4m-4-1h4m-3 0h4m-4 4h4m-3-1h4m-3-2h4m-3 2h4m-3-3h4m-4 3h4m-4 1h4m-3-4h4m-4 2h4m-4 2h4m-4 1h4m-3-5h4m-4 2h4m-4 2h4m-3 0h4m-4 1h4m-4-4h4m-4-1h4m-3 1h4m-4 4h4m-4-1h4m-3-2h4m-4-1h4m-3 3h4m-3-4h4m-4 3h4m-4 1h4m-3-3h4m-4 3h4m-3-2h4m-3-2h4m-4 2h4m-3 3h4m-4-2h4m-3-1h4m-1-1h4m-3-1h4m-4 2h4m-4 3h4m-3-3h4m-3 0h4m-4 2h4m-1-1h4m-3 2h4m-3-3h4m-2 0h4m-4-1h4m-2 2h4m-4-1h4m-3 3h4m-2-5h4m-206 6h4m0 1h4m-1 3h4m-3-4h4m-3 1h4m-2 4h4m-1-5h4m-4 5h4m-3-4h4m-3 2h4m-4-2h4m1 3h4m-3-1h4m-4 1h4m-3 0h4m-3-2h4m-3-2h4m-3 3h4m-3-2h4m-2 3h4m-2-3h4m-3 4h4m-4-4h4m-2 1h4m-4 3h4m-1-4h4m-3 1h4m-3 3h4m-3-1h4m-3-1h4m-2 1h4m-2-4h4m7 0h4m69 2h4m-2 0h4m-3 0h4m4 3h4m-4-3h4m0-2h4m-2 2h4m-3 0h4m-2 2h4m-3-2h4m-4 1h4m-3-2h4m-4 3h4m-3 0h4m-3-2h4m-4-1h4m-4 2h4m-3 0h4m-4-3h4m-2 5h4m-4-3h4m-3 3h4m-4-3h4m-3-2h4m-4 5h4m-1 0h4m-3-4h4m-3 3h4m-3 1h4m-3-5h4m-4 2h4m-4 3h4m-3-5h4m-4 3h4m-3-3h4m-4 2h4m-3 3h4m-3-5h4m-4 1h4m-4 3h4m-4 1h4m-3-2h4m-4 1h4m-4-4h4m-4 1h4m-3 2h4m-4 1h4m-4-4h4m-3 1h4m-4 4h4m-3-3h4m-4 2h4m-3-3h4m-4 2h4m-4 2h4m-3-4h4m-3 1h4m-3-2h4m-4 1h4m-4 2h4m-4 2h4m-4-1h4m-3-1h4m-4 2h4m-3-1h4m-1-1h4m-3-1h4m-4-1h4m-3-1h4m-4 5h4m-3 0h4m1-2h4m-4-1h4m-2 2h4m-3-3h4m-3 3h4m-4-1h4m-1 0h4m-2-2h4m0 0h4m5 0h4m-216 10h4m-3-3h4m-1 2h4m-1-1h4m1 2h4m-3 0h4m-2-2h4m-2-1h4m1 0h4m-3-2h4m-3 1h4m-3 4h4m-2-4h4m-2 1h4m1 2h4m-3-4h4m-4 1h4m1 4h4m-2 0h4m-2-1h4m-3 0h4m-2-3h4m-2 3h4m-4-1h4m0-1h4m-4 1h4m-2-2h4m4 3h4m-2 0h4m3-2h4m-3 1h4m4 0h4m-3-1h4m26 2h4m5-1h4m4 0h4m-2 1h4m-1-3h4m-3 2h4m-1 2h4m-3-1h4m-2-3h4m-3-1h4m1 4h4m0-4h4m-3 2h4m-3-2h4m-4 3h4m-2 1h4m-3-3h4m-3 2h4m-4 1h4m-3 1h4m-1-2h4m-4-2h4m-3-1h4m-1 1h4m-4-1h4m-4 5h4m-3-5h4m-3 1h4m0 0h4m-4-1h4m-4 4h4m-3-1h4m-4 2h4m-3-1h4m-3-1h4m-4 2h4m-2-4h4m-2-1h4m-4 2h4m-4 2h4m-3-4h4m-4 4h4m-2-3h4m-4 1h4m-4 3h4m-2-1h4m-3-2h4m-4 1h4m-3-2h4m-3-1h4m-2 5h4m-1-3h4m-4 2h4m-3 0h4m-4 1h4m-3-5h4m-4 1h4m-2-1h4m-201 9h4m5-3h4m-3 0h4m-1 5h4m-1-3h4m3-2h4m-2 2h4m0-1h4m6 3h4m-1-2h4m2-1h4m-4-1h4m-3 0h4m-4 4h4m56-2h4m14 3h4m6-1h4m-2-3h4m-1-1h4m-3 4h4m2-4h4m-4 4h4m-2-2h4m-4 2h4m-2-3h4m-4-1h4m-3 5h4m-2-1h4m-2 0h4m-3-3h4m-4 2h4m-3 0h4m-4-1h4m-3-2h4m-3 3h4m-4-3h4m-3 0h4m-1 3h4m-2-3h4m-4 5h4m-3-5h4m-4 1h4m-4 3h4m-3-3h4m-3-1h4m-3 4h4m-4-2h4m-4-1h4m-2 0h4m-2-1h4m-3 3h4m-4 2h4m-2-3h4m-3 0h4m-1 2h4m-3-3h4m1 0h4m-3 4h4m-3-1h4m-2-3h4m-3 2h4m-1 1h4m-1 0h4m-1 1h4m-3-2h4m-2-1h4m-206 9h4m-2-3h4m-3 0h4m-2 1h4m-1-1h4m-3 3h4m-1-1h4m4-4h4m-1 2h4m-3 0h4m-3-1h4m-3 2h4m-3-1h4m-1 3h4m3-1h4m-2-1h4m-3-2h4m4-1h4m1 4h4m-1 0h4m-4-1h4m12 2h4m0-3h4m28 2h4m4-4h4m15 2h4m-3 3h4m7-4h4m7 2h4m-1-3h4m-3 3h4m-2 1h4m-2-2h4m-3 1h4m8-2h4m-4 2h4m-4 2h4m-3 0h4m-1-5h4m-188 9h4m1 0h4m-2 1h4m5-4h4m1 3h4m-3 1h4m-3-2h4m-2 0h4m7-1h4m0 3h4m3-4h4m18 5h4m20-3h4m14 1h4m20 0h4m8-2h4m-2 3h4m0 1h4m0-2h4m-2 0h4m-2-3h4m2 1h4m-3 2h4m-3 0h4m-4-3h4m-1 0h4m-3 2h4m-2-2h4m-3 3h4m-3-3h4m2 0h4m-2 1h4m2 3h4m-197 2h4m14 0h4" stroke="#000" stroke-width="4.4" fill="none"/><rect x="44.1" y="491.8" width="144.3" height="109.3" fill="none" stroke="#000" stroke-width="1.9"/><line x1="74.4" y1="491.8" x2="74.4" y2="601.1" stroke="#000" stroke-width="1.7"/><line x1="44.1" y1="566.1" x2="188.4" y2="566.1" stroke="#000" stroke-width="1.7"/><path d="M44.1 601.1v6M44.1 601.1h-6M55.0 601.1v3.5M44.1 592.9h-3.5M61.3 601.1v3.5M44.1 588.1h-3.5M65.8 601.1v3.5M44.1 584.6h-3.5M69.3 601.1v3.5M44.1 582.0h-3.5M72.2 601.1v3.5M44.1 579.8h-3.5M74.6 601.1v3.5M44.1 578.0h-3.5M76.7 601.1v3.5M44.1 576.4h-3.5M78.5 601.1v3.5M44.1 575.0h-3.5M80.2 601.1v6M44.1 573.8h-6M91.0 601.1v3.5M44.1 565.5h-3.5M97.4 601.1v3.5M44.1 560.7h-3.5M101.9 601.1v3.5M44.1 557.3h-3.5M105.4 601.1v3.5M44.1 554.7h-3.5M108.2 601.1v3.5M44.1 552.5h-3.5M110.7 601.1v3.5M44.1 550.7h-3.5M112.8 601.1v3.5M44.1 549.1h-3.5M114.6 601.1v3.5M44.1 547.7h-3.5M116.2 601.1v6M44.1 546.5h-6M127.1 601.1v3.5M44.1 538.2h-3.5M133.5 601.1v3.5M44.1 533.4h-3.5M138.0 601.1v3.5M44.1 530.0h-3.5M141.5 601.1v3.5M44.1 527.4h-3.5M144.3 601.1v3.5M44.1 525.2h-3.5M146.7 601.1v3.5M44.1 523.4h-3.5M148.8 601.1v3.5M44.1 521.8h-3.5M150.7 601.1v3.5M44.1 520.4h-3.5M152.3 601.1v6M44.1 519.1h-6M163.2 601.1v3.5M44.1 510.9h-3.5M169.5 601.1v3.5M44.1 506.1h-3.5M174.0 601.1v3.5M44.1 502.7h-3.5M177.5 601.1v3.5M44.1 500.0h-3.5M180.4 601.1v3.5M44.1 497.9h-3.5M182.8 601.1v3.5M44.1 496.0h-3.5M184.9 601.1v3.5M44.1 494.4h-3.5M186.7 601.1v3.5M44.1 493.1h-3.5M188.4 601.1v6M44.1 491.8h-6" stroke="#000" stroke-width="1.2" fill="none"/><g transform="translate(43.9,623.3) scale(0.82,1)"><text text-anchor="middle" font-family="Liberation Sans" stroke="#000" stroke-width="0.2" font-size="14">10<tspan font-size="13.5" dy="-7.7">0</tspan></text></g><g transform="translate(80.0,623.3) scale(0.82,1)"><text text-anchor="middle" font-family="Liberation Sans" stroke="#000" stroke-width="0.2" font-size="14">10<tspan font-size="13.5" dy="-7.7">1</tspan></text></g><g transform="translate(116.0,623.3) scale(0.82,1)"><text text-anchor="middle" font-family="Liberation Sans" stroke="#000" stroke-width="0.2" font-size="14">10<tspan font-size="13.5" dy="-7.7">2</tspan></text></g><g transform="translate(152.1,623.3) scale(0.82,1)"><text text-anchor="middle" font-family="Liberation Sans" stroke="#000" stroke-width="0.2" font-size="14">10<tspan font-size="13.5" dy="-7.7">3</tspan></text></g><g transform="translate(188.2,623.3) scale(0.82,1)"><text text-anchor="middle" font-family="Liberation Sans" stroke="#000" stroke-width="0.2" font-size="14">10<tspan font-size="13.5" dy="-7.7">4</tspan></text></g><g transform="translate(33.6,601.1) rotate(-90) scale(0.82,1)"><text text-anchor="middle" font-family="Liberation Sans" stroke="#000" stroke-width="0.2" font-size="14">10<tspan font-size="13.5" dx="3" dy="-7.7">0</tspan></text></g><g transform="translate(33.6,573.8) rotate(-90) scale(0.82,1)"><text text-anchor="middle" font-family="Liberation Sans" stroke="#000" stroke-width="0.2" font-size="14">10<tspan font-size="13.5" dx="3" dy="-7.7">1</tspan></text></g><g transform="translate(33.6,546.5) rotate(-90) scale(0.82,1)"><text text-anchor="middle" font-family="Liberation Sans" stroke="#000" stroke-width="0.2" font-size="14">10<tspan font-size="13.5" dx="3" dy="-7.7">2</tspan></text></g><g transform="translate(33.6,519.1) rotate(-90) scale(0.82,1)"><text text-anchor="middle" font-family="Liberation Sans" stroke="#000" stroke-width="0.2" font-size="14">10<tspan font-size="13.5" dx="3" dy="-7.7">3</tspan></text></g><g transform="translate(33.6,491.8) rotate(-90) scale(0.82,1)"><text text-anchor="middle" font-family="Liberation Sans" stroke="#000" stroke-width="0.2" font-size="14">10<tspan font-size="13.5" dx="3" dy="-7.7">4</tspan></text></g><g transform="translate(116.2,635.6) scale(0.94,1)"><text text-anchor="middle" font-family="Liberation Sans" stroke="#000" stroke-width="0.2" font-size="13">BrdU FITC</text></g><text transform="translate(15.6,549.5) rotate(-90)" text-anchor="middle" font-family="Liberation Sans" stroke="#000" stroke-width="0.2" font-size="13">c Kappa PE</text><text x="176.5" y="508.6" text-anchor="end" font-family="Liberation Sans" font-size="14" stroke="#000" stroke-width="0.3">35%</text></g><g transform="rotate(-0.45 117.1 726.2)"><polygon points="56,708 70,708 74,714 73,727 66,732 56,732 54,720" fill="#000"/><polygon points="50,748 61,746 64,755 64,780 48,780 47,762" fill="#000"/><ellipse cx="127" cy="721.5" rx="9" ry="6" transform="rotate(0 127 721.5)" fill="#000"/><ellipse cx="126" cy="762" rx="9.5" ry="5.5" transform="rotate(0 126 762)" fill="#000"/><path transform="scale(.5)" d="M128 1393h4m-39 5h4m26 3h4m-31 8h4m28-3h4m5-2h4m5 5h4m-2-1h4m-57 4h4m9 1h4m4-1h4m0-1h4m-1 4h4m-3-5h4m-3 2h4m-4-2h4m3 4h4m-2-2h4m-3 2h4m-1-2h4m-4 1h4m-4 2h4m-2-2h4m-4 1h4m0-4h4m-1 5h4m-3-3h4m68 1h4m26-1h4m18 2h4m-172 2h4m0 5h4m10-5h4m-2 2h4m-3 2h4m-2 1h4m-4-5h4m-3 3h4m-3-1h4m-2 2h4m-3-1h4m-3 1h4m-2-1h4m-4-2h4m-1 0h4m-4 1h4m-3 3h4m-3-1h4m-3-1h4m-3-2h4m-1 4h4m-2 0h4m-2-4h4m-3 1h4m14 3h4m42 0h4m0 0h4m1-1h4m8 1h4m2-2h4m-4 2h4m5-4h4m-4 3h4m5 1h4m2-4h4m-3 3h4m-3-4h4m-4 3h4m-181 3h4m2 1h4m-3-1h4m-2 0h4m-3 0h4m-4 3h4m5 1h4m3 1h4m-2 0h4m-2 0h4m-4-3h4m-2 3h4m-4-1h4m-3 1h4m-3-3h4m-2 1h4m-2 0h4m-3-2h4m-4 2h4m-4 2h4m-4-3h4m-3-2h4m-4 5h4m-2-2h4m-4-1h4m-4 3h4m-3-3h4m-4-1h4m-4 4h4m-2-2h4m-3-3h4m-4 5h4m-3-5h4m-4 2h4m-3 1h4m-4 1h4m-3-2h4m-4 2h4m-2-2h4m-2 2h4m-3 1h4m-3-3h4m-3-2h4m5 4h4m-1-2h4m2 1h4m7 0h4m-2-3h4m-3 4h4m3 1h4m-2-2h4m9 1h4m0-3h4m22 1h4m1 3h4m-3-1h4m-4 1h4m-3-3h4m-3 3h4m-2-3h4m-4 1h4m-3 0h4m2 0h4m-4 2h4m-1-1h4m-3 1h4m-3-3h4m-3-2h4m-3 0h4m-4 3h4m-3 0h4m-4 2h4m1-5h4m-4 4h4m-4-1h4m-3 0h4m-3 0h4m-3 2h4m0-5h4m-2 5h4m2 0h4m-188 6h4m3-4h4m-3 4h4m0-2h4m-3 2h4m-4-3h4m-3 2h4m-3-2h4m-1-1h4m1 0h4m-3 2h4m0-2h4m-3-1h4m-4 4h4m-3-4h4m-4 3h4m-3-1h4m-4-2h4m-4 3h4m-3-1h4m-4 1h4m-3 1h4m-4-4h4m-4 3h4m-3 1h4m-3 0h4m-3-3h4m-4 1h4m-3-2h4m-3 2h4m-4 3h4m-3-4h4m-3 3h4m-3-2h4m-3 0h4m-4 3h4m-2-3h4m-1-1h4m-2-1h4m-4 2h4m-3 0h4m-3-2h4m-1 0h4m-2 0h4m-3 3h4m-3-1h4m-4 2h4m-1-3h4m-1 4h4m-1 0h4m-1-2h4m13-1h4m1 2h4m3-2h4m-1 2h4m16 0h4m2 1h4m-4-4h4m-1-1h4m-4 2h4m-2 2h4m-3-4h4m-4 3h4m-3-2h4m1 4h4m-1-3h4m-4-2h4m-3 2h4m-3 3h4m-3-4h4m-2 2h4m-4 1h4m-3 1h4m-3-5h4m-4 4h4m-3 1h4m-3-1h4m-4-3h4m-3-1h4m-4 2h4m-3 0h4m-3-1h4m-4 3h4m-3-4h4m-4 2h4m-4 1h4m-3 1h4m-3-1h4m-4 2h4m-3-5h4m-4 5h4m-3-2h4m-3 2h4m-4-1h4m-3-2h4m-4 3h4m-3 0h4m-3 0h4m-3 0h4m-3-3h4m-3-2h4m-2 4h4m-2-1h4m-4 2h4m-3-1h4m-3 1h4m-1-2h4m-1 1h4m-4-3h4m-3 4h4m-4-5h4m-4 2h4m-3 3h4m0-2h4m-3 0h4m-3 1h4m1-3h4m-1 1h4m2 0h4m-205 7h4m1 2h4m-3-4h4m-3 2h4m-3 2h4m0 0h4m-3-5h4m-2 4h4m-1-2h4m-1 2h4m-3-4h4m-4 5h4m0-5h4m-3 2h4m-4 3h4m-2-4h4m-4 3h4m-1 1h4m-1-3h4m-4-2h4m1 4h4m-4-3h4m-3-1h4m-3 1h4m-2 1h4m-4 1h4m-3 0h4m-4 2h4m-3-5h4m-4 4h4m-3-4h4m-4 4h4m-3 1h4m-2-1h4m-2-2h4m-3 2h4m1-2h4m8 3h4m14 0h4m14-5h4m9 0h4m-1 1h4m5 2h4m-3 2h4m-2 0h4m-3-2h4m-3-3h4m-2 1h4m-4 1h4m-3 1h4m-4-2h4m-1 0h4m-3 0h4m-2 4h4m-4-1h4m-4-1h4m-3-1h4m-3-1h4m-4 4h4m-3-3h4m-3-2h4m-4 4h4m-3-4h4m-3 3h4m-4 1h4m-4 1h4m-3-4h4m-4 1h4m-3 3h4m-4-4h4m-4-1h4m-3 3h4m-4 2h4m-2 0h4m-3-5h4m-4 2h4m-4-1h4m-3-1h4m-4 3h4m-3 0h4m-3 0h4m-3-2h4m-4-1h4m-3 2h4m-4-1h4m-4 3h4m-4-1h4m-4 2h4m-3-2h4m-4-1h4m-3-1h4m-4 1h4m-3 2h4m-4 1h4m-3 0h4m-2-4h4m-4-1h4m-4 3h4m-4 1h4m-3 0h4m-4-3h4m-4-1h4m-3 3h4m-4-3h4m-4 2h4m-2 1h4m-3-2h4m-4-1h4m-4 3h4m-3-3h4m-4 2h4m-2-2h4m-4 4h4m-4-1h4m-3-2h4m-3 0h4m-3-1h4m-4 3h4m-4 2h4m-3-4h4m-3 3h4m-3-3h4m-4 2h4m-3 1h4m-3-1h4m-3-1h4m-3 2h4m4 1h4m-197 6h4m-4-5h4m3 3h4m-4 1h4m1 1h4m-2-1h4m-2-4h4m-2 3h4m0-1h4m-2 3h4m-1-3h4m-1-1h4m-3 4h4m-3-2h4m-3-1h4m-1-2h4m-2 2h4m-3 3h4m-3-3h4m-3 2h4m-3-1h4m-4-1h4m-4 3h4m-4-1h4m-2 0h4m-2-3h4m-3 2h4m-3 2h4m2-5h4m-2 4h4m6 1h4m-2-1h4m-3-3h4m-4-1h4m-1 5h4m1-2h4m-3 1h4m-4-4h4m-1 5h4m6-5h4m2 5h4m-1-4h4m8 0h4m-1 1h4m-1-2h4m-3 3h4m0 2h4m-2-1h4m-2 0h4m0 1h4m-3-3h4m-4 2h4m-4-3h4m-3 0h4m-2 0h4m-2 2h4m0-3h4m-3 4h4m-4-3h4m-3 3h4m-3-2h4m-4-1h4m-4 3h4m-3-2h4m-3 0h4m-3-1h4m-4 4h4m-3-1h4m-4-2h4m-3 3h4m-3-1h4m-4-1h4m-4 2h4m-3-5h4m-4 2h4m-4 2h4m-4-1h4m-3 1h4m-3-2h4m-4-1h4m-4 2h4m-3-3h4m-4 2h4m-4 3h4m-3-3h4m-4 2h4m-3-1h4m-3-1h4m-4-2h4m-3 0h4m-4 1h4m-4 2h4m-3-2h4m-4 2h4m-4 1h4m-3-2h4m-4-1h4m-4 2h4m-4 1h4m-4-4h4m-3 1h4m-3 0h4m-4 2h4m-4 2h4m-3-3h4m-3 2h4m-4-3h4m-3 4h4m-4-3h4m-3-2h4m-4 2h4m-4-1h4m-4 3h4m-4 1h4m-3-5h4m-4 4h4m-4-1h4m-3-1h4m-4 3h4m-3-5h4m-4 2h4m-4 3h4m-3 0h4m-4-3h4m-4-1h4m-4 2h4m-3-3h4m-4 2h4m-4 1h4m-4 2h4m-2-4h4m-4 2h4m-4 2h4m-4-3h4m-3 0h4m-3-1h4m-3 2h4m-4 1h4m-4-4h4m-3 4h4m0-3h4m-1 1h4m-2 0h4m-4-1h4m-2 3h4m-1-1h4m-2 2h4m-1-3h4m-3 1h4m-3-3h4m-4 2h4m-202 9h4m-4-1h4m1-2h4m-3 2h4m-3 0h4m-2 1h4m-4-4h4m6 3h4m0-3h4m-4 4h4m-3-2h4m-2-3h4m-4 2h4m-2-1h4m-1 3h4m-3-4h4m0 0h4m-3 3h4m-2-3h4m-2 3h4m-3 0h4m1 1h4m-3-4h4m5 5h4m-2-5h4m6 3h4m18-1h4m3 0h4m8 2h4m-3 1h4m1-5h4m0 0h4m-1 0h4m-4 5h4m-2-5h4m-1 1h4m-3 2h4m-3 0h4m-2 1h4m-2-4h4m-4 3h4m-3 2h4m-3-1h4m-3 1h4m-3-3h4m-3 0h4m-4 1h4m-2-2h4m-3-1h4m-4 4h4m-4-1h4m-3-1h4m-4 1h4m-3 2h4m-4-3h4m-4 2h4m-3-3h4m-4 1h4m-2 0h4m-3-1h4m-4 3h4m-4-1h4m-3-2h4m-4 2h4m-4 1h4m-3-1h4m-3-3h4m-4 3h4m-3-2h4m-3 1h4m-4 3h4m-4-4h4m-4-1h4m-3 5h4m-4-4h4m-4-1h4m-4 2h4m-3 0h4m-4 2h4m-4-3h4m-4-1h4m-4 3h4m-3-2h4m-4 2h4m-4 2h4m-3-3h4m-2 3h4m-4-5h4m-4 3h4m-3-2h4m-4-1h4m-4 3h4m-4-1h4m-3-2h4m-4 5h4m-3-5h4m-3 2h4m-3-1h4m-4-1h4m-4 2h4m-4 2h4m-2-1h4m-4-1h4m-4 2h4m-3-1h4m-4-1h4m-4 2h4m-3-1h4m-4-3h4m-4 2h4m-3-2h4m-3 3h4m-3-3h4m-4 3h4m-3 2h4m-3-5h4m-4 2h4m-3 0h4m-4-2h4m-4 3h4m-3 0h4m-4-1h4m-3 2h4m-3 1h4m-2-5h4m-4 5h4m-3-3h4m-4 2h4m-3-3h4m-4 2h4m-3-3h4m-4 2h4m1 0h4m1-1h4m-4 2h4m-3 2h4m1-4h4m-196 5h4m-4 3h4m-3 1h4m-3-2h4m-4 2h4m-2-4h4m-4 4h4m-3-2h4m-1-1h4m0 0h4m-3 0h4m-3 1h4m-2-2h4m-2 1h4m-4-1h4m-4 5h4m-3-4h4m-1 0h4m-2-1h4m-4 4h4m-2 0h4m2 1h4m-3-4h4m-2 2h4m-4-1h4m-4 2h4m-1 1h4m0-1h4m-3 1h4m-2-3h4m27-2h4m-2 0h4m-1 2h4m2 2h4m0-2h4m-2 3h4m-2-4h4m9 0h4m4 1h4m2 3h4m-3-5h4m-1 1h4m-2 2h4m-2-1h4m-3-2h4m-4 2h4m-3 0h4m-2 1h4m-2-2h4m-4 4h4m-3-3h4m-2 3h4m-4-5h4m-2 4h4m-4-2h4m-3 0h4m-3 2h4m-4-4h4m-4 2h4m-4-1h4m-3-1h4m-4 4h4m-4-1h4m-3 0h4m-4 2h4m-4-3h4m-3-2h4m-4 3h4m-3 0h4m-4 2h4m-3-4h4m-4 3h4m-3-4h4m-4 3h4m-3-3h4m-3 2h4m-4-1h4m-4 4h4m-3-5h4m-4 2h4m-4-1h4m-4 3h4m-3-4h4m-3 2h4m-4-1h4m-4 3h4m-3 1h4m-4-5h4m-3 2h4m-4 2h4m-4-4h4m-3 2h4m-4 3h4m-3-5h4m-4 1h4m-4 2h4m-3-3h4m-4 1h4m-2 4h4m-4-5h4m-3 2h4m-4-1h4m-4 2h4m-4 1h4m-2-4h4m-3 3h4m-3 0h4m-3-2h4m-4 3h4m-4-4h4m-3 0h4m-4 2h4m-3-2h4m-3 2h4m-4-1h4m-2 2h4m-4-1h4m-3 0h4m-2 3h4m-3-4h4m-3 1h4m-4 2h4m-3-3h4m-3-1h4m-1 1h4m-3 0h4m-4 3h4m-4 1h4m6 0h4m-199 5h4m-3-2h4m-3 3h4m-4-3h4m-3-1h4m-3 3h4m-4-3h4m-3 3h4m-4-1h4m-1 2h4m0-3h4m-1 0h4m-3 1h4m-1 2h4m-3-3h4m-2 2h4m0-1h4m-3-1h4m3 1h4m1 1h4m-2 0h4m-2-3h4m1-1h4m-2 0h4m-3 1h4m-1 3h4m32-3h4m-4 1h4m2-2h4m3 5h4m2-1h4m-1-4h4m-3 4h4m-2 0h4m-4-4h4m3 4h4m3-1h4m-3-3h4m-2 1h4m-1 0h4m0 3h4m-2-1h4m-1-1h4m-3-1h4m-3 3h4m-4 1h4m-3-5h4m-4 3h4m-3 1h4m-4-1h4m-4 2h4m-2-4h4m-3 4h4m-3 0h4m-4-3h4m-3 3h4m-4-5h4m-4 2h4m-3 0h4m-4-2h4m-3 4h4m-3 1h4m-4-4h4m-1-1h4m-4 1h4m-4 1h4m-3-1h4m-4 4h4m-3-4h4m-4-1h4m-2 1h4m-3-1h4m-3 0h4m-2 0h4m-1 5h4m-2-4h4m-2 0h4m-4 1h4m-3-2h4m1 3h4m-2-1h4m0 0h4m19-2h4m-219 8h4m0-2h4m-2 5h4m-4-4h4m-1 0h4m-2 0h4m-4-1h4m-4 3h4m-3-2h4m-3-1h4m-2 3h4m-4 1h4m-3-1h4m-4-2h4m-2 4h4m-1-3h4m-4 3h4m-1-4h4m-4-1h4m0 3h4m-3-3h4m-4 5h4m-2 0h4m-3-4h4m-3 3h4m-4 1h4m-3-3h4m5 2h4m-1-1h4m-3-3h4m0 1h4m5 3h4m5-2h4m13 1h4m-1-2h4m1 0h4m22 0h4m-3 0h4m3-1h4m12 1h4m6 2h4m-2-1h4m-4 2h4m-4-1h4m-1 2h4m-4-1h4m-3-4h4m-3 1h4m-3 0h4m-4 3h4m-1-1h4m1 1h4m-1-2h4m-1 0h4m12-1h4m-191 7h4m-2-1h4m-2 2h4m-3 0h4m-4-1h4m-1 1h4m-3-3h4m-4 1h4m-4 3h4m-4-1h4m-2-1h4m-4 1h4m-1-1h4m-4 1h4m-3 1h4m-3-3h4m-2 4h4m-4-5h4m-3 5h4m-4-5h4m-3 4h4m-2 1h4m-3-3h4m-3 0h4m-3 2h4m-4 1h4m-2-2h4m-4-3h4m-3 5h4m0-1h4m-2-4h4m-3 2h4m0 0h4m-4 3h4m2-3h4m-2 2h4m0 1h4m0-1h4m-4-3h4m1 4h4m-2-1h4m0 0h4m5-2h4m-2 3h4m-2-1h4m-3-4h4m-1 2h4m8 2h4m-1-3h4m-1 3h4m-2 1h4m6 0h4m19 0h4m7-4h4m-155 10h4m-3-1h4m-2-4h4m1 1h4m-2 2h4m-4 1h4m-2-3h4m0 2h4m-4-3h4m-3 1h4m-4 3h4m-3-3h4m-4-1h4m-2 2h4m-1 0h4m-4 2h4m-3-3h4m-4 1h4m-2 1h4m-4 2h4m-3-5h4m-2 0h4m0 4h4m-4-4h4m-2 5h4m-2-2h4m-3 0h4m-1-1h4m-2-2h4m-1 3h4m0 1h4m-3-2h4m-3 2h4m13 1h4m12-5h4m3 2h4m-3-2h4m1 4h4m1-4h4m17 3h4m1-1h4m8-1h4m32 1h4m-179 5h4m-1 3h4m-3-3h4m0 2h4m-2-2h4m-3 3h4m-3-2h4m-4-1h4m-3 1h4m-4 3h4m-3 0h4m0-4h4m-4 3h4m-4-1h4m-3-2h4m-4-1h4m-4 2h4m-1 0h4m-3 3h4m-3 0h4m-4-4h4m0 2h4m-3 0h4m-4-2h4m-4-1h4m-4 2h4m-2-1h4m-1 3h4m-3 0h4m-2 0h4m-3 0h4m-3-1h4m-4 2h4m-2-5h4m-3 1h4m-4 3h4m-3-3h4m2 0h4m-4-1h4m-2 3h4m0-3h4m-3 3h4m4 1h4m21-4h4m18 5h4m3-2h4m10-3h4m-2 1h4m15 4h4m-1-1h4m22-4h4m-188 11h4m-2-3h4m-2-1h4m-3 3h4m-1-2h4m-2 0h4m-2-2h4m-4 3h4m-4-1h4m-3 2h4m-3-1h4m-4-1h4m-3 1h4m-3-2h4m-4-1h4m-4 2h4m-3 1h4m-4 1h4m-3 1h4m-3-4h4m-4 1h4m-4-2h4m-3 5h4m-4-2h4m-3-1h4m-4 2h4m-4-4h4m-3 1h4m-4 1h4m-4 3h4m-4-1h4m-3-3h4m-4 4h4m-3-3h4m-3-1h4m-2-1h4m-4 3h4m-3 1h4m-3 0h4m-2-4h4m-3 5h4m0 0h4m-2-3h4m-3-2h4m-4 5h4m-4-1h4m3-3h4m-4 2h4m-4 2h4m14 0h4m11-1h4m6 0h4m7-1h4m-2-2h4m25 3h4m30 0h4m24-4h4m-198 9h4m-3-2h4m-3 4h4m-2-1h4m-4-1h4m2-2h4m-2-1h4m-3 4h4m-3-2h4m-3 0h4m-1 0h4m-3 0h4m-4 3h4m0-5h4m-3 4h4m-4-1h4m-2 2h4m-2-4h4m-2 0h4m-4-1h4m-2 2h4m-3-2h4m-4 2h4m-4-1h4m-3 1h4m-2 0h4m-3 1h4m1 2h4m2 0h4m7-4h4m1 4h4m-1-2h4m-1-1h4m-3 3h4m19 0h4m5-3h4m7 2h4m5-2h4m-3-2h4m2 0h4m-3 0h4m-2 1h4m6 4h4m-2-4h4m8 2h4m-2 2h4m-4-4h4m-1 4h4m6-2h4m0-3h4m-4 5h4m-3-4h4m3 2h4m-187 8h4m7-4h4m-4 2h4m-3 2h4m-3-4h4m-4 2h4m-3 1h4m-2-4h4m-4 5h4m-3-2h4m-4 1h4m-2-3h4m-2 4h4m-3-1h4m-2-1h4m-3-3h4m-1 1h4m0 4h4m-3-5h4m-2 5h4m0-3h4m-3 0h4m-3 0h4m3-1h4m12 1h4m30-1h4m-2 3h4m-2-4h4m-4 4h4m-1 1h4m-4-1h4m0 1h4m7-4h4m4 1h4m-1 3h4m-1-3h4m-3 2h4m-3-4h4m-2 1h4m0 4h4m-2-3h4m-4-1h4m-1 3h4m-3-1h4m-3 2h4m-2-1h4m-3 0h4m-2 1h4m0-2h4m-3 1h4m-3-3h4m-2 1h4m-3 3h4m-1-2h4m-3 0h4m-3 1h4m3 1h4m-2-5h4m-3 2h4m-4 1h4m-182 6h4m-2 0h4m-1 0h4m-2-3h4m-4 1h4m-4 2h4m-3-2h4m-3 4h4m-3 0h4m-2-5h4m-2 2h4m-4 2h4m-3-2h4m-1 1h4m-2 0h4m-3-2h4m-4-1h4m-4 3h4m-2-2h4m-3 0h4m-2 1h4m-3 2h4m-1 1h4m-4-4h4m0-1h4m20 3h4m-4-1h4m20 1h4m-3 2h4m-1-1h4m0-3h4m5 1h4m-2 1h4m-3-1h4m-1 1h4m-4 2h4m-3 0h4m-3-2h4m2-1h4m-4-1h4m2 3h4m5 1h4m7-5h4m-3 0h4m-1 3h4m-4-3h4m-3 1h4m-4 2h4m-4-1h4m-4 3h4m-3-3h4m-4 2h4m-3 1h4m-1-1h4m-4-1h4m-3 0h4m-4 2h4m-3-3h4m-3 0h4m-4-1h4m-3-1h4m-4 4h4m-1 1h4m-2-4h4m-4 1h4m-3-2h4m-4 4h4m-3-4h4m-4 1h4m-2 4h4m-3 0h4m-4-1h4m-4-2h4m-1 3h4m-4-2h4m-2 2h4m0-2h4m-3-2h4m-4 2h4m-4 2h4m-1 0h4m-2-2h4m-3 1h4m-1-1h4m0-1h4m-1 0h4m4 1h4m-199 7h4m1 0h4m-4-4h4m-3 3h4m-3 2h4m-3 0h4m-2-5h4m-4 1h4m-2 1h4m1 2h4m-3 1h4m-3-3h4m-4 1h4m-2 1h4m-3 0h4m-3 0h4m-3 1h4m-4-4h4m-1 1h4m-2-2h4m-3 1h4m-3 3h4m-3-3h4m-4 4h4m-3-5h4m-2 1h4m0-1h4m-1 2h4m12 0h4m11-2h4m12 2h4m1 3h4m6 0h4m0-5h4m-4 5h4m-1-5h4m3 4h4m-2 0h4m-2 1h4m0 0h4m-4-3h4m-1 0h4m-1 3h4m-1-1h4m-4 1h4m-2-1h4m-4 1h4m-2-5h4m-3 4h4m-3-1h4m-4 2h4m-3-4h4m-4 4h4m-3 0h4m-4-4h4m-4 3h4m-4-1h4m-3-1h4m-4 2h4m-3-3h4m-4-1h4m-4 4h4m-3-1h4m-3-3h4m-4 5h4m-3-1h4m-3-4h4m-4 2h4m-4 2h4m-3-4h4m-4 3h4m-2 1h4m-4 1h4m-3 0h4m-4-4h4m-3 3h4m-4-2h4m-2 3h4m-4-3h4m-4-1h4m-4 2h4m-3-1h4m-4 2h4m-3-4h4m-3 2h4m-4 1h4m-3-1h4m-4 1h4m-3 0h4m-3-2h4m-2 3h4m-4-1h4m-4 2h4m-3-3h4m-4 3h4m-3-4h4m-4 4h4m-2-3h4m-4 1h4m-3-2h4m-4 1h4m-4 2h4m-2-2h4m-4 2h4m-2-3h4m-4 1h4m-2 3h4m-4-3h4m-2-2h4m-2 1h4m-3 4h4m-3-4h4m4 4h4m-4-5h4m-193 11h4m-1-4h4m-4 2h4m-3-3h4m-3 4h4m-3-4h4m-4 2h4m-3-2h4m2 1h4m-3 2h4m1 2h4m-2-4h4m-4 2h4m-3-3h4m-4 4h4m-2 1h4m2-3h4m-2-2h4m-4 4h4m-4-1h4m-3 2h4m-4-5h4m-3 4h4m-4 1h4m-1-1h4m-3-2h4m0 0h4m23-1h4m11 4h4m-2-3h4m9 1h4m12 0h4m1 0h4m-3-1h4m0-1h4m-3 2h4m-4-1h4m-3 0h4m-2 2h4m-2-4h4m-1 2h4m-4 3h4m-3-5h4m-4 2h4m-3 3h4m-3-4h4m-3 2h4m-3-2h4m-4 4h4m-3-5h4m-4 4h4m-3-4h4m-3 3h4m-4-3h4m-3 2h4m-4 2h4m-3-3h4m-4 2h4m-4 2h4m-4-1h4m-3 0h4m-3-4h4m-4 3h4m-4-1h4m-3 2h4m-4-1h4m-3 1h4m-3 1h4m-4-1h4m-4-2h4m-4 1h4m-2-3h4m-4 1h4m-3 2h4m-4 1h4m-3-4h4m-4 3h4m-3-2h4m-4 3h4m-3-1h4m-4 2h4m-3-4h4m-4 2h4m-4-1h4m-4 2h4m-4-4h4m-3 0h4m-4 4h4m-4-1h4m-3-2h4m-4 1h4m-3-1h4m-4 2h4m-3-1h4m-4 3h4m-2-3h4m-4 1h4m-3-1h4m-4 1h4m-3 0h4m-4 2h4m-4-1h4m-3 0h4m-4-4h4m-4 1h4m-4 2h4m-3 2h4m-4-1h4m-4-2h4m-3-2h4m-4 1h4m-3-1h4m-3 1h4m-3 1h4m-4 3h4m-3-3h4m-4 1h4m-3-3h4m-3 2h4m-4-1h4m-4 3h4m-2-3h4m-4 4h4m-4-1h4m-3-1h4m-3 2h4m-3 0h4m-3-5h4m-4 3h4m-3-3h4m-1 5h4m-4-1h4m-1-3h4m1 4h4m10-1h4m-212 5h4m0-2h4m1-1h4m-3 5h4m-2-1h4m-2 1h4m-3-3h4m-1-1h4m-2 1h4m-1-2h4m-3 4h4m-1 0h4m0-4h4m-4 5h4m-3-3h4m-3 3h4m-4-1h4m0-4h4m-3 5h4m-3 0h4m-3-2h4m-3-1h4m-2-1h4m-1-1h4m-2 1h4m1 4h4m4-4h4m-4 2h4m0 2h4m8-5h4m7 5h4m-3 0h4m-1-2h4m23-2h4m-2 4h4m-3 0h4m1 0h4m-4-4h4m-4-1h4m-3 0h4m-1 3h4m-2 2h4m-3-3h4m-3-1h4m-1 4h4m-3-2h4m-2-1h4m-4 2h4m-4 1h4m-3-3h4m-4-1h4m-3-1h4m-3 2h4m-2 1h4m-4-1h4m-3-1h4m-4-1h4m-4 4h4m-3-1h4m-4 1h4m-3-3h4m-4 3h4m-3 0h4m-4-1h4m-3-3h4m-3 1h4m-4 2h4m-4-1h4m-3 1h4m-4-1h4m-4 2h4m-4 1h4m-3-4h4m-3-1h4m-4 2h4m-4 2h4m-4-1h4m-4 2h4m-3 0h4m-4-4h4m-4-1h4m-3 3h4m-4-3h4m-3 0h4m-4 1h4m-3 2h4m-4-2h4m-4-1h4m-4 2h4m-4 2h4m-3-2h4m-4 2h4m-4-4h4m-3 1h4m-4 1h4m-4 1h4m-3 0h4m-4 2h4m-4-5h4m-4 4h4m-3 0h4m-4-1h4m-3 0h4m-2-2h4m-4 1h4m-4 2h4m-4-1h4m-3-2h4m-4 2h4m-4 2h4m-3-4h4m-4-1h4m-4 4h4m-4 1h4m-3-4h4m-4-1h4m-4 3h4m-3 0h4m-4-3h4m-3 0h4m-4 4h4m-3-4h4m-4 5h4m-3-1h4m-4-1h4m-3 2h4m-3-4h4m-4 1h4m-2-1h4m-4-1h4m-4 4h4m-3 1h4m-4-4h4m-3 0h4m-4 1h4m-3 3h4m-2-4h4m-3-1h4m-3 0h4m-3 1h4m-3 3h4m-2-4h4m-3 1h4m-4-1h4m-1 1h4m2 3h4m-3-4h4m0 0h4m-202 9h4m-3 1h4m-2-4h4m-2 0h4m-1 2h4m-2 2h4m-2-3h4m-4 1h4m2 0h4m-2-1h4m-3 4h4m-3-4h4m-4 4h4m0-3h4m0 2h4m-1 0h4m3-2h4m-1-1h4m24 3h4m1-3h4m6 2h4m0-1h4m-3-1h4m1 0h4m-2 2h4m-2 0h4m10-3h4m4 1h4m-3-1h4m0 3h4m-2 0h4m-3-3h4m-4 3h4m0 0h4m-2 0h4m-3-2h4m-3 1h4m-4 2h4m-3-2h4m-3-2h4m-3 3h4m-3-1h4m-4-1h4m-4 3h4m-2-4h4m-3 4h4m-3-4h4m-4 1h4m-3 2h4m-4-2h4m-3-1h4m-4 1h4m-2 0h4m-3-1h4m-4 2h4m-2-1h4m-4 4h4m-3-5h4m-4 2h4m-2 0h4m-4 1h4m-4 1h4m-3-2h4m-3 2h4m-3-3h4m-4 4h4m-3-5h4m-4 3h4m-3 0h4m-3 0h4m-4 2h4m-4-3h4m-3 3h4m-4-3h4m-2-2h4m-4 2h4m-4 2h4m-3 0h4m-3-2h4m-4-1h4m-2 2h4m-3-1h4m-3 0h4m-3-1h4m-4 3h4m-2-2h4m-4 2h4m-4-1h4m-3-2h4m-3-1h4m-3 1h4m-3 0h4m-3 0h4m-2 0h4m-3 2h4m-1-1h4m3-1h4m-3 0h4m-198 7h4m-4 3h4m-2-5h4m-4 4h4m-1-4h4m1 2h4m1-1h4m-4 4h4m-3-5h4m-3 0h4m2 1h4m-3 1h4m2-1h4m0-1h4m5 2h4m0-1h4m19-1h4m4 4h4m5-4h4m0 3h4m-1-1h4m7 2h4m-3 1h4m6-4h4m-1 0h4m3-1h4m-2 2h4m-1-1h4m-1 1h4m-4 1h4m-2-1h4m-2 1h4m0 1h4m-4-3h4m-4 2h4m-3-1h4m-4 2h4m-3-2h4m-3 1h4m-2-3h4m-4 2h4m-3 2h4m-3-3h4m-3-1h4m-3 1h4m-4 4h4m-3-3h4m-3 3h4m-3 0h4m-2-5h4m-4 5h4m-2-2h4m-3-3h4m-3 0h4m-2 4h4m-3-3h4m-4 1h4m-3-2h4m-4 5h4m-2-4h4m-1 4h4m-2-1h4m0-3h4m1 4h4m0-3h4m-2-2h4m-3 3h4m-4 2h4m4-1h4m-202 4h4m-3-2h4m-2 1h4m-3 2h4m-2 2h4m-3-2h4m-3-1h4m4 2h4m-2-3h4m-4-1h4m-3 5h4m6-1h4m-1 1h4m-2-4h4m-2 0h4m-3-1h4m2 2h4m13-2h4m-4 4h4m-3-3h4m28-1h4m-3 2h4m28 0h4m-1-2h4m5 4h4m0-4h4m-2 4h4m-1-4h4m-4 2h4m-1-1h4m-3 1h4m-2-2h4m-3 5h4m-2-4h4m-4 3h4m0-4h4m-4 1h4m2 1h4m-4-1h4m-3-1h4m-3 4h4m-4-4h4m-2 3h4m-2-3h4m-4 2h4m-4-1h4m-4 3h4m1-1h4m-1-3h4m-4 1h4m-3 1h4m-1 3h4m2-5h4m2 3h4m-200 7h4m-2-1h4m-3-2h4m1 3h4m6-3h4m18 1h4m1 3h4m33-4h4m7-1h4m-4 2h4m16-1h4m4 0h4m5-1h4m-3 4h4m-3-3h4m15 1h4m2 0h4m-3-2h4m-2 1h4m4 2h4m-1-1h4m0 1h4m8-3h4m6 0h4m-200 10h4m1 0h4m11-1h4m-2 1h4m0-4h4m-1 4h4m-2 1h4m6-5h4m81 4h4m6-1h4m0-1h4m3-2h4m27 0h4" stroke="#000" stroke-width="4.4" fill="none"/><rect x="45.1" y="671.4" width="144.1" height="109.7" fill="none" stroke="#000" stroke-width="1.9"/><line x1="75.3" y1="671.4" x2="75.3" y2="781.1" stroke="#000" stroke-width="1.7"/><line x1="45.1" y1="743.1" x2="189.2" y2="743.1" stroke="#000" stroke-width="1.7"/><path d="M45.1 781.1v6M45.1 781.1h-6M55.9 781.1v3.5M45.1 772.8h-3.5M62.3 781.1v3.5M45.1 768.0h-3.5M66.8 781.1v3.5M45.1 764.6h-3.5M70.3 781.1v3.5M45.1 761.9h-3.5M73.1 781.1v3.5M45.1 759.8h-3.5M75.5 781.1v3.5M45.1 757.9h-3.5M77.6 781.1v3.5M45.1 756.3h-3.5M79.5 781.1v3.5M45.1 754.9h-3.5M81.1 781.1v6M45.1 753.7h-6M92.0 781.1v3.5M45.1 745.4h-3.5M98.3 781.1v3.5M45.1 740.6h-3.5M102.8 781.1v3.5M45.1 737.2h-3.5M106.3 781.1v3.5M45.1 734.5h-3.5M109.2 781.1v3.5M45.1 732.3h-3.5M111.6 781.1v3.5M45.1 730.5h-3.5M113.7 781.1v3.5M45.1 728.9h-3.5M115.5 781.1v3.5M45.1 727.5h-3.5M117.2 781.1v6M45.1 726.2h-6M128.0 781.1v3.5M45.1 718.0h-3.5M134.3 781.1v3.5M45.1 713.2h-3.5M138.8 781.1v3.5M45.1 709.7h-3.5M142.3 781.1v3.5M45.1 707.1h-3.5M145.2 781.1v3.5M45.1 704.9h-3.5M147.6 781.1v3.5M45.1 703.1h-3.5M149.7 781.1v3.5M45.1 701.5h-3.5M151.5 781.1v3.5M45.1 700.1h-3.5M153.2 781.1v6M45.1 698.8h-6M164.0 781.1v3.5M45.1 690.6h-3.5M170.4 781.1v3.5M45.1 685.7h-3.5M174.9 781.1v3.5M45.1 682.3h-3.5M178.4 781.1v3.5M45.1 679.7h-3.5M181.2 781.1v3.5M45.1 677.5h-3.5M183.6 781.1v3.5M45.1 675.6h-3.5M185.7 781.1v3.5M45.1 674.1h-3.5M187.6 781.1v3.5M45.1 672.7h-3.5M189.2 781.1v6M45.1 671.4h-6" stroke="#000" stroke-width="1.2" fill="none"/><g transform="translate(44.9,803.3) scale(0.82,1)"><text text-anchor="middle" font-family="Liberation Sans" stroke="#000" stroke-width="0.2" font-size="14">10<tspan font-size="13.5" dy="-7.7">0</tspan></text></g><g transform="translate(80.9,803.3) scale(0.82,1)"><text text-anchor="middle" font-family="Liberation Sans" stroke="#000" stroke-width="0.2" font-size="14">10<tspan font-size="13.5" dy="-7.7">1</tspan></text></g><g transform="translate(117.0,803.3) scale(0.82,1)"><text text-anchor="middle" font-family="Liberation Sans" stroke="#000" stroke-width="0.2" font-size="14">10<tspan font-size="13.5" dy="-7.7">2</tspan></text></g><g transform="translate(153.0,803.3) scale(0.82,1)"><text text-anchor="middle" font-family="Liberation Sans" stroke="#000" stroke-width="0.2" font-size="14">10<tspan font-size="13.5" dy="-7.7">3</tspan></text></g><g transform="translate(189.0,803.3) scale(0.82,1)"><text text-anchor="middle" font-family="Liberation Sans" stroke="#000" stroke-width="0.2" font-size="14">10<tspan font-size="13.5" dy="-7.7">4</tspan></text></g><g transform="translate(34.6,781.1) rotate(-90) scale(0.82,1)"><text text-anchor="middle" font-family="Liberation Sans" stroke="#000" stroke-width="0.2" font-size="14">10<tspan font-size="13.5" dx="3" dy="-7.7">0</tspan></text></g><g transform="translate(34.6,753.7) rotate(-90) scale(0.82,1)"><text text-anchor="middle" font-family="Liberation Sans" stroke="#000" stroke-width="0.2" font-size="14">10<tspan font-size="13.5" dx="3" dy="-7.7">1</tspan></text></g><g transform="translate(34.6,726.2) rotate(-90) scale(0.82,1)"><text text-anchor="middle" font-family="Liberation Sans" stroke="#000" stroke-width="0.2" font-size="14">10<tspan font-size="13.5" dx="3" dy="-7.7">2</tspan></text></g><g transform="translate(34.6,698.8) rotate(-90) scale(0.82,1)"><text text-anchor="middle" font-family="Liberation Sans" stroke="#000" stroke-width="0.2" font-size="14">10<tspan font-size="13.5" dx="3" dy="-7.7">3</tspan></text></g><g transform="translate(34.6,671.4) rotate(-90) scale(0.82,1)"><text text-anchor="middle" font-family="Liberation Sans" stroke="#000" stroke-width="0.2" font-size="14">10<tspan font-size="13.5" dx="3" dy="-7.7">4</tspan></text></g><g transform="translate(117.1,815.6) scale(0.94,1)"><text text-anchor="middle" font-family="Liberation Sans" stroke="#000" stroke-width="0.2" font-size="13">BrdU FITC</text></g><text transform="translate(16.6,729.2) rotate(-90)" text-anchor="middle" font-family="Liberation Sans" stroke="#000" stroke-width="0.2" font-size="13">c Lambda PE</text><text x="179" y="687.8" text-anchor="end" font-family="Liberation Serif" font-size="14" stroke="#000" stroke-width="0.45">37%</text></g><g transform="rotate(-0.45 437.8 543.6)"><ellipse cx="382" cy="544" rx="7.5" ry="16.5" transform="rotate(0 382 544)" fill="#000"/><rect x="375" y="586" width="22" height="13" rx="4" fill="#000"/><path transform="scale(.5)" d="M758 1010h4m38 20h4m76 1h4m-123 6h4m13-5h4m42 4h4m-86 5h4m-2-1h4m3-1h4m4 1h4m0-1h4m-3 4h4m2-4h4m1 4h4m-4-5h4m4 2h4m12 2h4m10-1h4m21 0h4m-100 8h4m15-1h4m1 0h4m-2 0h4m5 1h4m2-4h4m-43 10h4m3-5h4m1 1h4m-2-1h4m-1 3h4m5 1h4m-2-3h4m-4 2h4m-4-1h4m-3 3h4m-1-3h4m4 2h4m6-2h4m-1 1h4m-1-1h4m9 3h4m66-4h4m-141 6h4m-4 2h4m2 1h4m0 1h4m-1 0h4m-3-1h4m-1 0h4m-2 1h4m-1-4h4m-4 2h4m-2 0h4m-3 0h4m-3-3h4m-1 4h4m12-1h4m-53 7h4m-3 1h4m0-4h4m-1-1h4m-3 5h4m-3-5h4m-4 3h4m-1-3h4m-1 1h4m-2 0h4m-3 0h4m-3 3h4m-4-3h4m-3 4h4m-4-2h4m-3-2h4m-3 2h4m0 2h4m-2-2h4m-1 2h4m-4-2h4m-1-2h4m-3 1h4m11 1h4m8 0h4m26 2h4m-101 3h4m-3 3h4m-1-3h4m0-1h4m-2 1h4m1 2h4m-3-1h4m-4 2h4m-2 0h4m-4-5h4m-2 5h4m-4-4h4m-3 4h4m-4-5h4m-3 5h4m-2-1h4m-4-1h4m-3 0h4m-3 0h4m-1 2h4m-4-2h4m-3-2h4m-3 3h4m-3-3h4m-3 2h4m-3 1h4m-1-2h4m-3-2h4m-2 0h4m-3 5h4m-4-5h4m-4 1h4m-1 0h4m-2 1h4m14 1h4m-1-1h4m-3 0h4m6 2h4m4-2h4m-95 7h4m1 2h4m-1-4h4m0 0h4m-3-1h4m-2 0h4m-3 3h4m-3 0h4m-3-2h4m-4 2h4m-3-1h4m-3-2h4m-4 4h4m-1 1h4m-3-5h4m-3 5h4m-4-5h4m-2 2h4m-4 3h4m-4-1h4m-2-3h4m-4-1h4m-1 3h4m-3 0h4m-4-2h4m-4 3h4m-2-2h4m-4-2h4m-4 3h4m-3 2h4m-4-5h4m-3 1h4m-4 2h4m-1-3h4m-4 2h4m-2 2h4m-3 0h4m-3 0h4m-3 1h4m-4-2h4m-4-1h4m-3 0h4m-4 2h4m-3 1h4m-1-3h4m-2 2h4m28-4h4m-3 1h4m4 3h4m41 1h4m-134 1h4m-3 5h4m-2-5h4m-2 4h4m-3-2h4m-4 3h4m-3-1h4m-4 1h4m-3-3h4m-2 2h4m-3 1h4m-4-5h4m-3 2h4m-4-2h4m-4 4h4m-2 0h4m-3 1h4m-3-1h4m-2 0h4m-4 1h4m-3-5h4m-3 1h4m-4 4h4m-4-5h4m-3 0h4m-4 4h4m-3-2h4m-3-2h4m-3 3h4m-3 2h4m-3-1h4m-4-1h4m-3 2h4m-4-2h4m-4-1h4m-3 3h4m-4-1h4m-4-1h4m-2-2h4m-4 4h4m-4-1h4m-4-1h4m-3 0h4m-3-2h4m-4-1h4m-3 3h4m-3 0h4m-4-2h4m-2 1h4m-3 0h4m-3-1h4m-4 2h4m1 1h4m-3-3h4m0-1h4m46 0h4m8 3h4m-113 4h4m0 3h4m-3-4h4m-4 4h4m-2-4h4m-3 3h4m-3 1h4m-3-3h4m-3 4h4m-4-5h4m-4 3h4m-3 2h4m-4-5h4m-4 4h4m-3-4h4m-4 4h4m-4-1h4m-3-1h4m-4-2h4m-4 4h4m-3-1h4m-3-1h4m-3-1h4m-4-1h4m-2 5h4m-4-5h4m-4 3h4m-3 0h4m-4-3h4m-4 4h4m-3 1h4m-4-5h4m-4 4h4m-4-1h4m-3-1h4m-3-1h4m-3 3h4m-4-1h4m-3 0h4m-4 1h4m-3-1h4m-3-3h4m-3 2h4m-4 2h4m-3 1h4m-4-1h4m-3-4h4m-4 3h4m-3-1h4m-3-2h4m-4 4h4m-3-1h4m-4-1h4m-3-2h4m-3 5h4m-3-4h4m-4-1h4m-1 0h4m-2 1h4m-3 2h4m-2 1h4m1-3h4m1 2h4m-2-1h4m2-2h4m8 4h4m1-4h4m12 0h4m99 1h4m-209 5h4m-2 0h4m6 5h4m-3-3h4m-2-2h4m-4 1h4m-2 4h4m-3-1h4m-3 1h4m-3-1h4m-4-1h4m-4 2h4m-3-4h4m-4 4h4m-3-3h4m-4 3h4m-2-4h4m-4 4h4m-3-2h4m-4-2h4m-2-1h4m-4 3h4m-3 0h4m-4 2h4m-3-3h4m-3-1h4m-4 4h4m-4-1h4m-3-1h4m-4-1h4m-4-1h4m-3 0h4m-4 4h4m-4-5h4m-3 1h4m-4 4h4m-3-1h4m-4-1h4m-3-3h4m-4 3h4m-3 1h4m-4-4h4m-3 4h4m-2 0h4m-3-2h4m0 0h4m-4-1h4m-4 3h4m-3-4h4m-3 2h4m-4 3h4m-3-3h4m-3 1h4m-3-2h4m-4-1h4m-3 0h4m1 0h4m11 5h4m23-3h4m28-1h4m-125 8h4m-2 0h4m-4-1h4m-2 1h4m-3 2h4m1-4h4m-4 4h4m-4-5h4m-3 2h4m-3-1h4m-3 3h4m-4-1h4m-3 0h4m-3-3h4m-3 4h4m-4-2h4m-3 0h4m-4-2h4m-3 1h4m-3 0h4m-4 4h4m-3-3h4m-4 3h4m-4-2h4m-3-1h4m-4-1h4m-4 4h4m-2-2h4m-3-3h4m-2 1h4m-4 3h4m-3 1h4m-4-1h4m-4-3h4m-3 4h4m-4-5h4m-3 2h4m-4-1h4m-4 4h4m-3-5h4m-3 2h4m-4 3h4m-3-2h4m-3 2h4m-3-4h4m-3-1h4m-4 4h4m-4-3h4m-3 0h4m-4 2h4m-2 2h4m-2-1h4m-4-1h4m17-1h4m0 0h4m1 2h4m45-3h4m14 4h4m-146 2h4m-3 2h4m-2-2h4m-3 0h4m0 4h4m1-4h4m-4-1h4m-1 0h4m-3 0h4m-4 2h4m-2 2h4m-4-3h4m-3 0h4m-3 0h4m-3 0h4m-3-1h4m-4 2h4m-3-1h4m-2 2h4m-3 1h4m-3 1h4m-3-1h4m-4-1h4m-4-1h4m-4 3h4m-3-4h4m-3-1h4m-4 4h4m-4-2h4m7 1h4m-4-1h4m-2-2h4m0 1h4m2 2h4m9 0h4m7 1h4m35-2h4m-1-2h4m12 5h4m-142 2h4m-2-1h4m-1 1h4m-2 1h4m2 3h4m-1-1h4m-3 0h4m-1-2h4m-2 2h4m0 0h4m-2-4h4m-2 1h4m0 4h4m-3 0h4m-3-2h4m-3-3h4m-2 3h4m-2 2h4m-2 0h4m20 0h4m3-1h4m13 1h4m30-3h4m-126 9h4m1-3h4m-2 0h4m4 1h4m-3-1h4m-3-1h4m2 4h4m-3-5h4m0 3h4m2 2h4m-3 0h4m0-2h4m7-2h4m5-1h4m-3 5h4m8 0h4m8-4h4m50-1h4m-131 6h4m3 5h4m-2-2h4m-2 1h4m-3 0h4m-4-2h4m0 0h4m-4 2h4m-1-2h4m-4-1h4m4 2h4m2-1h4m21 3h4m39-5h4m19 5h4m-122 4h4m1 1h4m-2 0h4m-4-3h4m-3 4h4m0-3h4m-2-2h4m-3 1h4m4 1h4m-4 3h4m-3 0h4m5 0h4m7-4h4m19 2h4m-77 6h4m-4-1h4m-1 2h4m-2 1h4m-1-4h4m-2 4h4m-4-1h4m-3 1h4m-4-1h4m-3 1h4m-2-4h4m-2 4h4m-3-4h4m-3 0h4m-4 2h4m-2 2h4m-3-5h4m1 1h4m-3 2h4m25 0h4m4 1h4m8-3h4m-87 6h4m11 3h4m-3 0h4m-3 0h4m-2-3h4m-4 3h4m2-3h4m-4-1h4m-4 4h4m-2-3h4m-4 1h4m-3-1h4m-4-1h4m-4 4h4m-2 0h4m-3-2h4m-4 2h4m-3-3h4m1 4h4m-1-5h4m62 2h4m-111 6h4m-3 2h4m-1-2h4m-3-2h4m-1 3h4m0-2h4m1 1h4m-2-2h4m-3 5h4m1-5h4m-3 3h4m-4 2h4m-3-3h4m-4-1h4m-4 3h4m-3 0h4m-3-1h4m-3 2h4m-3-5h4m-3 4h4m-4-1h4m-3-1h4m-4-2h4m-3 3h4m-3-1h4m-3 2h4m-2-2h4m-3 1h4m-4-2h4m-3 2h4m1 0h4m11-1h4m69 0h4m-135 5h4m1-1h4m-1 4h4m-3-1h4m5-2h4m-4 3h4m-1-3h4m-4 4h4m-2-1h4m-3-1h4m-4 2h4m-3-3h4m-3 3h4m-1-3h4m-4-1h4m-2 2h4m-2-3h4m-1 0h4m-4 2h4m0 1h4m-4 1h4m0 0h4m-3 1h4m61-5h4m14 1h4m10 0h4m-147 10h4m12 0h4m1-2h4m-4-2h4m5-1h4m-4 3h4m-2 0h4m-2 2h4m-4-5h4m-2 1h4m-3 3h4m-4-4h4m-2 5h4m-2-1h4m-2-4h4m-3 2h4m4 1h4m28-2h4m15-1h4m-103 7h4m-2 3h4m-3-4h4m-2 5h4m-2-2h4m-4-1h4m-3 3h4m-4-2h4m-3-2h4m-3-1h4m-4 3h4m-4-1h4m-2-1h4m-2 2h4m-4-1h4m-4 3h4m-4-1h4m-3-1h4m-3 2h4m-4-3h4m-2 2h4m-4-1h4m-3-1h4m-4-2h4m-4 4h4m-3-3h4m-3 4h4m-2-5h4m-3 0h4m-3 0h4m-3 2h4m-3 1h4m-3 0h4m-3 2h4m-4-5h4m-3 2h4m-3 1h4m-4 2h4m-3-2h4m-1 2h4m-2 0h4m-2-4h4m23 3h4m-75 4h4m-2 2h4m-2-2h4m0 3h4m-4-2h4m-1-1h4m-4 3h4m-3-1h4m-4-1h4m-3-3h4m-3 3h4m-3-2h4m-3 4h4m-3 0h4m-2-1h4m-4-1h4m-3-1h4m-4-1h4m-3 2h4m-3-2h4m-3 4h4m-3-4h4m-3 1h4m-4 2h4m-4-1h4m-3 1h4m-4-4h4m-3 4h4m-3 0h4m-4-1h4m-3-1h4m-4-2h4m-3 0h4m-4 3h4m-2-1h4m-4 3h4m-3-4h4m-3 2h4m-3-1h4m-3 3h4m-4-1h4m-2 1h4m-4-3h4m-2-2h4m-1 2h4m-2 2h4m0 1h4m-2-4h4m25 0h4m39 0h4m6 0h4m-4 4h4m-146 6h4m6-3h4m-4-2h4m-1 1h4m-4 3h4m-3-1h4m-3 0h4m-3 2h4m-4-5h4m-3 1h4m-3 4h4m-2 0h4m-2-2h4m-3-2h4m-3 0h4m-3-1h4m-4 4h4m-4-1h4m-4-1h4m-3-2h4m-4 4h4m-4-1h4m-4-1h4m-4-1h4m-3 1h4m-4-1h4m-4 4h4m-3-5h4m-4 4h4m-4-2h4m-3 3h4m-4-3h4m-3-1h4m-3 0h4m-3-1h4m-3 1h4m-4 4h4m-4-5h4m-3 1h4m-4 2h4m-3-1h4m-4 3h4m-3-5h4m-4 4h4m-4-1h4m-4-2h4m-3 0h4m-4 4h4m-4-1h4m-4-1h4m-3 2h4m-4-5h4m-3 0h4m-4 4h4m-3 1h4m-4-5h4m-3 2h4m-4-1h4m-4-1h4m-3 1h4m-4 1h4m-3 0h4m-3 2h4m-3 0h4m-2-4h4m-4 2h4m-4-1h4m-1 4h4m-4-5h4m-4 2h4m-3-1h4m-2-1h4m-2 2h4m-3 2h4m-4-3h4m-2 4h4m-3-1h4m6-4h4m16 1h4m-93 6h4m1 4h4m-3 0h4m7 0h4m-3-3h4m-4 3h4m-3-3h4m-3-1h4m-4 4h4m-2-1h4m-2-3h4m-4 4h4m-3-5h4m-3 1h4m-3 2h4m-3 1h4m-4-1h4m-4-1h4m-4-1h4m-3 4h4m-3-5h4m-4 2h4m-3 2h4m-4 1h4m-3-4h4m-4-1h4m-4 3h4m-4-1h4m-3 0h4m-3-2h4m-4 5h4m-3-5h4m-4 2h4m-3 0h4m-4-1h4m-4 3h4m-3-2h4m-4-1h4m-4 4h4m-3 0h4m-3-1h4m-4-3h4m-2 0h4m-4 2h4m-3 0h4m-4-1h4m-3-2h4m-2 4h4m-4-2h4m-4-1h4m-4 4h4m-4-5h4m-3 5h4m-2-4h4m-4-1h4m-1 3h4m-4-1h4m-2 0h4m-3-1h4m-3 2h4m-4-3h4m-3 4h4m-4-4h4m-2 5h4m-3-1h4m-3-3h4m-1 2h4m-2 0h4m-2-2h4m-2-1h4m1 5h4m-2-1h4m0-3h4m5-1h4m-4 4h4m1-1h4m-90 7h4m-2-3h4m-4-1h4m1 5h4m-3-3h4m-3 0h4m-4-1h4m-4-1h4m-3 3h4m-4-1h4m-1 1h4m-4-3h4m-3 0h4m-3 3h4m-3 0h4m-4-1h4m-3-1h4m-4 4h4m-4-5h4m-3 3h4m-2-3h4m-4 4h4m-3-2h4m-4-2h4m-3 4h4m-4-1h4m-3-1h4m-2-2h4m-4 2h4m-3 1h4m-3-2h4m-3 2h4m-2-3h4m-4 2h4m-3-2h4m-2 5h4m-4-5h4m-3 2h4m-3 3h4m-3 0h4m-4-5h4m-3 0h4m-3 2h4m-3-2h4m-2 5h4m-4-5h4m-4 1h4m-3 3h4m-2-3h4m-1 0h4m-4 1h4m-2 0h4m2 2h4m1-2h4m5 3h4m44-3h4m-102 4h4m9 0h4m-3 0h4m-3 1h4m0 0h4m-3-1h4m-2 1h4m-2-1h4m7 0h4m46 0h4" stroke="#000" stroke-width="4.4" fill="none"/><rect x="366.1" y="488.9" width="143.4" height="109.5" fill="none" stroke="#000" stroke-width="1.9"/><line x1="399.6" y1="488.9" x2="399.6" y2="598.4" stroke="#000" stroke-width="1.7"/><line x1="366.1" y1="563.4" x2="509.5" y2="563.4" stroke="#000" stroke-width="1.7"/><path d="M366.1 598.4v6M366.1 598.4h-6M376.9 598.4v3.5M366.1 590.2h-3.5M383.2 598.4v3.5M366.1 585.3h-3.5M387.7 598.4v3.5M366.1 581.9h-3.5M391.2 598.4v3.5M366.1 579.3h-3.5M394.0 598.4v3.5M366.1 577.1h-3.5M396.4 598.4v3.5M366.1 575.3h-3.5M398.5 598.4v3.5M366.1 573.7h-3.5M400.3 598.4v3.5M366.1 572.3h-3.5M402.0 598.4v6M366.1 571.0h-6M412.7 598.4v3.5M366.1 562.8h-3.5M419.1 598.4v3.5M366.1 558.0h-3.5M423.5 598.4v3.5M366.1 554.5h-3.5M427.0 598.4v3.5M366.1 551.9h-3.5M429.8 598.4v3.5M366.1 549.7h-3.5M432.2 598.4v3.5M366.1 547.9h-3.5M434.3 598.4v3.5M366.1 546.3h-3.5M436.2 598.4v3.5M366.1 544.9h-3.5M437.8 598.4v6M366.1 543.6h-6M448.6 598.4v3.5M366.1 535.4h-3.5M454.9 598.4v3.5M366.1 530.6h-3.5M459.4 598.4v3.5M366.1 527.2h-3.5M462.9 598.4v3.5M366.1 524.5h-3.5M465.7 598.4v3.5M366.1 522.3h-3.5M468.1 598.4v3.5M366.1 520.5h-3.5M470.2 598.4v3.5M366.1 518.9h-3.5M472.0 598.4v3.5M366.1 517.5h-3.5M473.6 598.4v6M366.1 516.3h-6M484.4 598.4v3.5M366.1 508.0h-3.5M490.8 598.4v3.5M366.1 503.2h-3.5M495.2 598.4v3.5M366.1 499.8h-3.5M498.7 598.4v3.5M366.1 497.1h-3.5M501.5 598.4v3.5M366.1 495.0h-3.5M503.9 598.4v3.5M366.1 493.1h-3.5M506.0 598.4v3.5M366.1 491.6h-3.5M507.9 598.4v3.5M366.1 490.2h-3.5M509.5 598.4v6M366.1 488.9h-6" stroke="#000" stroke-width="1.2" fill="none"/><g transform="translate(365.9,620.6) scale(0.82,1)"><text text-anchor="middle" font-family="Liberation Sans" stroke="#000" stroke-width="0.2" font-size="14">10<tspan font-size="13.5" dy="-7.7">0</tspan></text></g><g transform="translate(401.8,620.6) scale(0.82,1)"><text text-anchor="middle" font-family="Liberation Sans" stroke="#000" stroke-width="0.2" font-size="14">10<tspan font-size="13.5" dy="-7.7">1</tspan></text></g><g transform="translate(437.6,620.6) scale(0.82,1)"><text text-anchor="middle" font-family="Liberation Sans" stroke="#000" stroke-width="0.2" font-size="14">10<tspan font-size="13.5" dy="-7.7">2</tspan></text></g><g transform="translate(473.4,620.6) scale(0.82,1)"><text text-anchor="middle" font-family="Liberation Sans" stroke="#000" stroke-width="0.2" font-size="14">10<tspan font-size="13.5" dy="-7.7">3</tspan></text></g><g transform="translate(509.3,620.6) scale(0.82,1)"><text text-anchor="middle" font-family="Liberation Sans" stroke="#000" stroke-width="0.2" font-size="14">10<tspan font-size="13.5" dy="-7.7">4</tspan></text></g><g transform="translate(355.6,598.4) rotate(-90) scale(0.82,1)"><text text-anchor="middle" font-family="Liberation Sans" stroke="#000" stroke-width="0.2" font-size="14">10<tspan font-size="13.5" dx="3" dy="-7.7">0</tspan></text></g><g transform="translate(355.6,571.0) rotate(-90) scale(0.82,1)"><text text-anchor="middle" font-family="Liberation Sans" stroke="#000" stroke-width="0.2" font-size="14">10<tspan font-size="13.5" dx="3" dy="-7.7">1</tspan></text></g><g transform="translate(355.6,543.6) rotate(-90) scale(0.82,1)"><text text-anchor="middle" font-family="Liberation Sans" stroke="#000" stroke-width="0.2" font-size="14">10<tspan font-size="13.5" dx="3" dy="-7.7">2</tspan></text></g><g transform="translate(355.6,516.3) rotate(-90) scale(0.82,1)"><text text-anchor="middle" font-family="Liberation Sans" stroke="#000" stroke-width="0.2" font-size="14">10<tspan font-size="13.5" dx="3" dy="-7.7">3</tspan></text></g><g transform="translate(355.6,488.9) rotate(-90) scale(0.82,1)"><text text-anchor="middle" font-family="Liberation Sans" stroke="#000" stroke-width="0.2" font-size="14">10<tspan font-size="13.5" dx="3" dy="-7.7">4</tspan></text></g><g transform="translate(437.8,632.9) scale(0.94,1)"><text text-anchor="middle" font-family="Liberation Sans" stroke="#000" stroke-width="0.2" font-size="13">BrdU FITC</text></g><text transform="translate(337.6,546.6) rotate(-90)" text-anchor="middle" font-family="Liberation Sans" stroke="#000" stroke-width="0.2" font-size="13">c Kappa PE</text><text x="492.5" y="505.8" text-anchor="end" font-family="Liberation Serif" font-size="14" stroke="#000" stroke-width="0.45">0.2%</text></g><g transform="rotate(-0.45 438.8 723.0)"><ellipse cx="383" cy="715" rx="5" ry="12" transform="rotate(0 383 715)" fill="#000"/><polygon points="382,749 391,749 395,760 396,777 377,777 378,760" fill="#000"/><path transform="scale(.5)" d="M748 1361h4m6-2h4m14-3h4m-9 8h4m-31 8h4m5 0h4m1-1h4m-6 8h4m-3-1h4m4-4h4m10 5h4m69-1h4m6-2h4m-117 4h4m2 5h4m0-3h4m-4 2h4m3 1h4m0 0h4m28-1h4m9 1h4m23-1h4m10-3h4m-119 10h4m-3-5h4m-2 1h4m-4 3h4m1-3h4m1-1h4m2 3h4m2 0h4m-2 2h4m-1-1h4m-3 0h4m1-2h4m-3-2h4m-2 3h4m0-2h4m-2 3h4m-2-1h4m21 0h4m3-2h4m24 0h4m14-1h4m-127 8h4m11-2h4m-4 4h4m-1-1h4m-3-2h4m-3 4h4m1-3h4m1 3h4m-3-3h4m-3-1h4m-1 1h4m3 1h4m16-1h4m3 3h4m9-2h4m7 0h4m5 0h4m-115 6h4m-2-1h4m10 2h4m-2-4h4m1 3h4m-2 1h4m-2 0h4m-3-3h4m-3 1h4m-4 3h4m-3-1h4m-1-4h4m-3 2h4m-4-1h4m-2 2h4m-4-2h4m-4 4h4m-1-2h4m-4-3h4m-3 5h4m-3 0h4m-2-3h4m-1 3h4m-4-3h4m-2 1h4m-2-2h4m-3 1h4m1 0h4m-2 1h4m15 0h4m6-3h4m12 1h4m-102 7h4m-3 3h4m-4-1h4m-2 1h4m-3-3h4m1 0h4m-3 0h4m-2 3h4m-4-3h4m-2 1h4m-4-1h4m-2 3h4m-3 0h4m-4-4h4m-3 0h4m-4 4h4m-3-1h4m-3-4h4m-3 2h4m-3-2h4m-4 1h4m-3 3h4m-4-1h4m-3 2h4m-3-1h4m-4-1h4m-3 1h4m-1-4h4m-4 4h4m-3 1h4m-2-3h4m-3 1h4m-4-1h4m-4-1h4m-4 4h4m-3-4h4m-2 4h4m-4-5h4m-1 1h4m-3 3h4m-2 1h4m-2-2h4m15 1h4m-4-4h4m25 5h4m0-2h4m7 2h4m26 0h4m-145 1h4m-3 5h4m-1-2h4m4 2h4m-3-4h4m-3 4h4m-4-1h4m-3-1h4m-2-1h4m-2 3h4m-4-3h4m-3-1h4m-4 3h4m-4-2h4m-3 3h4m-3-5h4m-3 4h4m-4-3h4m-4-1h4m-3 0h4m-3 3h4m-3 0h4m-4-1h4m-3 2h4m-4-1h4m-3-1h4m-3 0h4m-4-1h4m-3-1h4m-4 4h4m-3 1h4m-4-5h4m-2 5h4m-4-1h4m-3-1h4m-4-1h4m-2 3h4m-4-1h4m-3-3h4m-2 3h4m-2-3h4m-3 2h4m-4-1h4m-3-2h4m-4 3h4m-4-1h4m-4-1h4m-2 2h4m-4-1h4m-4-2h4m-3 0h4m2 3h4m-2-2h4m-4 4h4m-3-2h4m0 0h4m25 1h4m10 0h4m24-3h4m-4-1h4m8 4h4m-143 3h4m1 0h4m1 1h4m-4-2h4m-3 2h4m-4-1h4m-3-1h4m-3 3h4m-4 2h4m-4-5h4m-3 2h4m-2 0h4m-3 2h4m-3-3h4m-3 1h4m-3 0h4m-3 1h4m-3 1h4m-4-2h4m-3 0h4m-4 2h4m-3-2h4m-3 2h4m-4-3h4m-3 4h4m-4-2h4m-3-1h4m-4-1h4m-1-1h4m-3 2h4m-4-1h4m-4 3h4m-3-2h4m-4-2h4m-3 5h4m-3-3h4m-4-2h4m-4 4h4m-4-1h4m-2-2h4m-2 1h4m-3-2h4m-3 1h4m-4 3h4m-3-4h4m-4 4h4m-1-1h4m-3-1h4m-1-2h4m-2 4h4m-2-3h4m2 0h4m1-1h4m23 3h4m5 2h4m-3-2h4m-104 7h4m-1-2h4m0 1h4m-3 1h4m-3-4h4m-4 3h4m-4-1h4m-4 3h4m-3-1h4m-4-2h4m-3 3h4m-3-4h4m-4 2h4m-3-3h4m-2 4h4m-4-1h4m-3 2h4m-4-1h4m-1-4h4m-3 3h4m-3 0h4m-3-3h4m-2 1h4m-4-1h4m-3 3h4m-2 1h4m-3 1h4m-4-5h4m-4 3h4m-3 1h4m-3-1h4m-3-1h4m-3 0h4m-4 3h4m-4-2h4m-3-2h4m-3 3h4m-3-3h4m-4 3h4m-3-2h4m-4 3h4m-1-5h4m-4 4h4m-4-2h4m-3 2h4m-4-1h4m-4-1h4m-3 3h4m-3-5h4m0 0h4m-3 5h4m-3-1h4m-1-4h4m-4 3h4m2 1h4m7-3h4m15 4h4m1-4h4m21-1h4m2 2h4m2 0h4m9-2h4m-146 10h4m0-1h4m-3-1h4m-2 0h4m-1 2h4m-2-4h4m-4 1h4m-3-1h4m-4 2h4m-3-1h4m-4 4h4m-4-1h4m-3 1h4m-4-3h4m-3-2h4m-3 5h4m-4-1h4m-3 0h4m-4-3h4m-3-1h4m-4 3h4m-3 2h4m-4-5h4m-3 3h4m-4-2h4m-4 4h4m-3-4h4m-4 4h4m-4-1h4m-2-3h4m-4 1h4m-3-1h4m-4 2h4m-2 2h4m-4-2h4m-3 0h4m-4-1h4m-3 2h4m-4-2h4m-3 1h4m-3-2h4m-3-1h4m-4 4h4m-3-4h4m-3 1h4m-3-1h4m-1 0h4m-2 3h4m-2-2h4m-3-1h4m-4 3h4m-3 0h4m-2-2h4m-3-1h4m-3 2h4m-2 0h4m-4 2h4m-2-4h4m9 1h4m-3 4h4m1 0h4m2 0h4m3-2h4m9-2h4m5 1h4m29-1h4m-146 9h4m0-1h4m-1-2h4m1 3h4m-3 0h4m-2-3h4m-4 4h4m-2-4h4m-4 4h4m-4-5h4m-3 2h4m-4 2h4m-3-2h4m-3 1h4m-4-1h4m-3-2h4m-4 4h4m-3 1h4m-4-5h4m0 5h4m-4-5h4m-3 3h4m-4 2h4m-4-5h4m-1 5h4m-3-5h4m-4 3h4m-3 0h4m-4-2h4m-3 4h4m-4-4h4m-3 0h4m-4 4h4m-4-5h4m-3 1h4m-4-1h4m-3 5h4m-4-5h4m-3 5h4m-3-1h4m-4-1h4m-4-2h4m-3 4h4m-3-3h4m-3-1h4m-3 0h4m-4-1h4m-4 3h4m-3 0h4m1 0h4m-4-1h4m-1 1h4m32 1h4m20-3h4m8 0h4m-128 6h4m-3 4h4m2-5h4m5 4h4m-3 1h4m-3 0h4m-3-2h4m-3 0h4m-3-3h4m-3 2h4m-4 3h4m-3-4h4m-3-1h4m-4 4h4m-4-1h4m-4-1h4m-3-1h4m-3 0h4m-1 1h4m-2 3h4m-3-1h4m-4-1h4m-4-1h4m-4-1h4m0 4h4m-3 0h4m-2 0h4m-3-1h4m-4-3h4m-3-1h4m-3 4h4m-4-4h4m-3 1h4m-3 3h4m-2 1h4m-4-5h4m-3 5h4m-2-5h4m-2 5h4m10-4h4m4-1h4m13 5h4m-85 4h4m-3 1h4m1-4h4m-2 5h4m-3-4h4m-3 1h4m-3 0h4m-4-1h4m-4 4h4m-2-5h4m-2 1h4m-3 0h4m-1 0h4m-4 2h4m-3-1h4m-4-1h4m-4 3h4m-2-4h4m-3 4h4m-3-3h4m-4 3h4m-3 1h4m-2-1h4m-1-4h4m-3 1h4m-3 3h4m-3-2h4m-4 1h4m-2-2h4m-3 1h4m-4 3h4m-2-2h4m-2 0h4m5-3h4m38 0h4m-89 6h4m-2 2h4m-4-1h4m0-1h4m-3 3h4m-2-1h4m-4-1h4m-2 0h4m-4 4h4m0 0h4m-3-4h4m-3 0h4m-3 4h4m-3-1h4m-1-3h4m-3 3h4m0-4h4m-4 4h4m-3-2h4m-3 0h4m0 3h4m2-2h4m-2 0h4m21 2h4m-76 5h4m-2 1h4m-3-2h4m0-3h4m-1 5h4m-3-2h4m0 1h4m6-1h4m-3-2h4m-3 0h4m-4-1h4m-3 3h4m2-3h4m3 5h4m9 0h4m12-5h4m-68 11h4m7-2h4m-4 2h4m26 0h4m18 0h4m10-3h4m-84 5h4m3 1h4m3 0h4m0 1h4m5-2h4m0 3h4m-3-2h4m8 0h4m-54 4h4m8 1h4m12 0h4m-3 3h4m33-1h4m-4-1h4m21 3h4m-72 1h4m-3 5h4m-1-3h4m-2 2h4m33 0h4m23-4h4m0 1h4m-79 5h4m3 0h4m-3 1h4m-3 1h4m33 0h4m-1-1h4m14 3h4m3-4h4m-85 7h4m5 3h4m-2 1h4m0 0h4m1-3h4m0 3h4m-1-4h4m19 3h4m-1-2h4m-48 6h4m-4-1h4m-3 0h4m-3 0h4m-4-1h4m-1 0h4m-1 0h4m-3 0h4m-3 5h4m-2-5h4m2 0h4m9 4h4m7-4h4m-2 3h4m1 2h4m13-1h4m-97 6h4m10-4h4m-2 3h4m-1 0h4m0-3h4m-3 4h4m0-1h4m-2-1h4m-3-2h4m-3 2h4m-4 3h4m-2 0h4m-3-3h4m-2 3h4m-3-5h4m-2 5h4m-1-2h4m-1 0h4m0 2h4m-4-5h4m10 5h4m4-4h4m4-1h4m2 5h4m7 0h4m-1-1h4m-96 5h4m2 2h4m-3-4h4m-1 3h4m-3-3h4m-1 2h4m-3 1h4m-3 1h4m-4-1h4m-2-4h4m-4 3h4m-3 0h4m-4-1h4m-3 1h4m-3-1h4m-4-1h4m-4 4h4m-3 0h4m-4-3h4m-4-1h4m-2 1h4m-4 3h4m-3-5h4m-3 0h4m-3 1h4m-3 0h4m-3 2h4m-3 1h4m-4-1h4m-1 2h4m-2-2h4m-4-2h4m-4 3h4m-3-2h4m0 2h4m-2-2h4m3 3h4m-3-4h4m-3 3h4m12-2h4m2-1h4m-80 7h4m0 0h4m-3 3h4m-1-2h4m-1 2h4m-3-3h4m-2 1h4m-3 0h4m-1-1h4m-4-1h4m-4 4h4m-2-3h4m-4-1h4m0 1h4m-3 1h4m-4-2h4m-3 1h4m-4-1h4m-3 0h4m-3 1h4m-4-1h4m-4 4h4m-3-4h4m-3 1h4m-4 1h4m-3-1h4m-3-1h4m-4 2h4m-3 0h4m-4 1h4m-3 0h4m-4-4h4m-3 4h4m-2-4h4m-4 2h4m-1-1h4m-4 2h4m-2 1h4m0-4h4m5 2h4m-1 3h4m-2-2h4m12-2h4m10 2h4m-98 4h4m-2 3h4m3 1h4m-1-2h4m-1-2h4m-2 2h4m-4-2h4m-2 2h4m-3 2h4m-3-2h4m-3-2h4m-4-1h4m-4 4h4m-3-2h4m-3 0h4m-3 1h4m-4-3h4m-3 5h4m-3 0h4m-4-1h4m-3 0h4m-4-1h4m-3-2h4m-4 4h4m-4-1h4m-4-1h4m-3-1h4m-4 3h4m-4-5h4m-4 4h4m-3-4h4m-4 4h4m-3-1h4m-3 0h4m-4-1h4m-4-1h4m-4 4h4m-3-2h4m-3-2h4m-4-1h4m-3 4h4m-4-1h4m-4-1h4m-3-1h4m-4 4h4m-2 0h4m-4-1h4m-4-1h4m-1-2h4m-2 0h4m-3 1h4m-2-2h4m-3 4h4m0-2h4m-3-1h4m-3 4h4m11 0h4m-2-1h4m6 1h4m-74 3h4m-3 2h4m-4-1h4m-1 2h4m0-3h4m-4 3h4m-4-5h4m-4 4h4m-3-2h4m-4-1h4m-3-1h4m-3 4h4m-3 1h4m-3-1h4m-3 0h4m-3-4h4m-3 1h4m-4 4h4m-4-5h4m-4 4h4m-4-1h4m-3-2h4m-3 4h4m-3-5h4m-3 3h4m-3-3h4m-4 4h4m-3 0h4m-3-1h4m-3-1h4m-4-1h4m-4 4h4m-4-5h4m-2 1h4m-3 4h4m-4-1h4m-1-4h4m-4 4h4m-4-1h4m-2 2h4m-4-1h4m-1-3h4m-4-1h4m-4 2h4m-3 3h4m-3-1h4m0-4h4m-2 1h4m19 2h4m8-1h4m-85 5h4m-4 2h4m1 0h4m-3 0h4m-2-2h4m-3 1h4m0 2h4m-4-2h4m-4-1h4m-3 0h4m-3 0h4m-3 0h4m-3-1h4m-2 2h4m-3-2h4m-2 0h4m-4 3h4m-4-1h4m-3-1h4m-4-1h4m-3 4h4m-4-1h4m-4-2h4m-3-1h4m-4 2h4m-2-2h4m-4 4h4m-4-1h4m-4-1h4m-3-1h4m-4 4h4m-4-5h4m-3 2h4m-3 3h4m-4-3h4m-3 3h4m-2-4h4m-4 3h4m-3-3h4m-4 4h4m-4-2h4m-3 1h4m-4-2h4m-3 0h4m-1 0h4m-4-1h4m3-1h4m-4 3h4m15-2h4m-2 0h4m-61 7h4m-1-1h4m-3-1h4m-3 1h4m-3 1h4m-4-1h4m-4 4h4m-3-3h4m-1-1h4m-4-1h4m-3 0h4m-3 1h4m-4 4h4m-3-5h4m-4 4h4m-4-1h4m-4-1h4m-3-1h4m-3-1h4m-4 4h4m-4-2h4m-3-1h4m-4 2h4m-2 0h4m-3-2h4m-4-1h4m-3 5h4m-3-2h4m-1-2h4m-3 4h4m-4-5h4m-2 5h4m31 0h4m30-3h4m1 1h4m1 2h4m7 0h4m0-1h4m-130 5h4m2-1h4m-4 2h4m-2-3h4m0-1h4m-3 1h4m-3 0h4m-2 0h4m-3 0h4m-1 4h4m-3-5h4m-3 0h4m-4 3h4m-2-3h4m-1 4h4m-3-3h4m-3 1h4m-2 2h4m-2 0h4m-2-3h4m-1 0h4m8 0h4m-4 3h4m3-3h4m10 0h4m0 1h4m15-1h4m1-1h4m7 0h4m0 5h4m-1-4h4m0 1h4m1 2h4" stroke="#000" stroke-width="4.4" fill="none"/><rect x="367.1" y="668.6" width="143.4" height="108.8" fill="none" stroke="#000" stroke-width="1.9"/><line x1="401.0" y1="668.6" x2="401.0" y2="777.4" stroke="#000" stroke-width="1.7"/><line x1="367.1" y1="737.3" x2="510.5" y2="737.3" stroke="#000" stroke-width="1.7"/><path d="M367.1 777.4v6M367.1 777.4h-6M377.9 777.4v3.5M367.1 769.2h-3.5M384.2 777.4v3.5M367.1 764.4h-3.5M388.7 777.4v3.5M367.1 761.0h-3.5M392.2 777.4v3.5M367.1 758.4h-3.5M395.0 777.4v3.5M367.1 756.2h-3.5M397.4 777.4v3.5M367.1 754.4h-3.5M399.5 777.4v3.5M367.1 752.8h-3.5M401.3 777.4v3.5M367.1 751.4h-3.5M403.0 777.4v6M367.1 750.2h-6M413.7 777.4v3.5M367.1 742.0h-3.5M420.1 777.4v3.5M367.1 737.2h-3.5M424.5 777.4v3.5M367.1 733.8h-3.5M428.0 777.4v3.5M367.1 731.2h-3.5M430.8 777.4v3.5M367.1 729.0h-3.5M433.2 777.4v3.5M367.1 727.2h-3.5M435.3 777.4v3.5M367.1 725.6h-3.5M437.2 777.4v3.5M367.1 724.2h-3.5M438.8 777.4v6M367.1 723.0h-6M449.6 777.4v3.5M367.1 714.8h-3.5M455.9 777.4v3.5M367.1 710.0h-3.5M460.4 777.4v3.5M367.1 706.6h-3.5M463.9 777.4v3.5M367.1 704.0h-3.5M466.7 777.4v3.5M367.1 701.8h-3.5M469.1 777.4v3.5M367.1 700.0h-3.5M471.2 777.4v3.5M367.1 698.4h-3.5M473.0 777.4v3.5M367.1 697.0h-3.5M474.6 777.4v6M367.1 695.8h-6M485.4 777.4v3.5M367.1 687.6h-3.5M491.8 777.4v3.5M367.1 682.8h-3.5M496.2 777.4v3.5M367.1 679.4h-3.5M499.7 777.4v3.5M367.1 676.8h-3.5M502.5 777.4v3.5M367.1 674.6h-3.5M504.9 777.4v3.5M367.1 672.8h-3.5M507.0 777.4v3.5M367.1 671.2h-3.5M508.9 777.4v3.5M367.1 669.8h-3.5M510.5 777.4v6M367.1 668.6h-6" stroke="#000" stroke-width="1.2" fill="none"/><g transform="translate(366.9,799.6) scale(0.82,1)"><text text-anchor="middle" font-family="Liberation Sans" stroke="#000" stroke-width="0.2" font-size="14">10<tspan font-size="13.5" dy="-7.7">0</tspan></text></g><g transform="translate(402.8,799.6) scale(0.82,1)"><text text-anchor="middle" font-family="Liberation Sans" stroke="#000" stroke-width="0.2" font-size="14">10<tspan font-size="13.5" dy="-7.7">1</tspan></text></g><g transform="translate(438.6,799.6) scale(0.82,1)"><text text-anchor="middle" font-family="Liberation Sans" stroke="#000" stroke-width="0.2" font-size="14">10<tspan font-size="13.5" dy="-7.7">2</tspan></text></g><g transform="translate(474.4,799.6) scale(0.82,1)"><text text-anchor="middle" font-family="Liberation Sans" stroke="#000" stroke-width="0.2" font-size="14">10<tspan font-size="13.5" dy="-7.7">3</tspan></text></g><g transform="translate(510.3,799.6) scale(0.82,1)"><text text-anchor="middle" font-family="Liberation Sans" stroke="#000" stroke-width="0.2" font-size="14">10<tspan font-size="13.5" dy="-7.7">4</tspan></text></g><g transform="translate(356.6,777.4) rotate(-90) scale(0.82,1)"><text text-anchor="middle" font-family="Liberation Sans" stroke="#000" stroke-width="0.2" font-size="14">10<tspan font-size="13.5" dx="3" dy="-7.7">0</tspan></text></g><g transform="translate(356.6,750.2) rotate(-90) scale(0.82,1)"><text text-anchor="middle" font-family="Liberation Sans" stroke="#000" stroke-width="0.2" font-size="14">10<tspan font-size="13.5" dx="3" dy="-7.7">1</tspan></text></g><g transform="translate(356.6,723.0) rotate(-90) scale(0.82,1)"><text text-anchor="middle" font-family="Liberation Sans" stroke="#000" stroke-width="0.2" font-size="14">10<tspan font-size="13.5" dx="3" dy="-7.7">2</tspan></text></g><g transform="translate(356.6,695.8) rotate(-90) scale(0.82,1)"><text text-anchor="middle" font-family="Liberation Sans" stroke="#000" stroke-width="0.2" font-size="14">10<tspan font-size="13.5" dx="3" dy="-7.7">3</tspan></text></g><g transform="translate(356.6,668.6) rotate(-90) scale(0.82,1)"><text text-anchor="middle" font-family="Liberation Sans" stroke="#000" stroke-width="0.2" font-size="14">10<tspan font-size="13.5" dx="3" dy="-7.7">4</tspan></text></g><g transform="translate(438.8,811.9) scale(0.94,1)"><text text-anchor="middle" font-family="Liberation Sans" stroke="#000" stroke-width="0.2" font-size="13">BrdU FITC</text></g><text transform="translate(338.6,726.0) rotate(-90)" text-anchor="middle" font-family="Liberation Sans" stroke="#000" stroke-width="0.2" font-size="13">c Lambda PE</text><text x="499.5" y="686.3" text-anchor="end" font-family="Liberation Serif" font-size="14" stroke="#000" stroke-width="0.45">0.8%</text></g><text x="107.2" y="16" text-anchor="middle" font-family="Liberation Serif" font-size="16.5" stroke="#000" stroke-width="0.35">D0</text><text x="419" y="14" text-anchor="middle" font-family="Liberation Serif" font-size="16.5" stroke="#000" stroke-width="0.35">D2</text><text x="104.7" y="455" text-anchor="middle" font-family="Liberation Serif" font-size="16.5" stroke="#000" stroke-width="0.35">D0</text><text x="421.5" y="452.5" text-anchor="middle" font-family="Liberation Serif" font-size="16.5" stroke="#000" stroke-width="0.35">D3</text><text x="47.6" y="52.3" font-family="Liberation Sans" font-weight="bold" font-size="41">A</text><text x="43.8" y="478.8" font-family="Liberation Sans" font-weight="bold" font-size="40">B</text></svg></body></html>
